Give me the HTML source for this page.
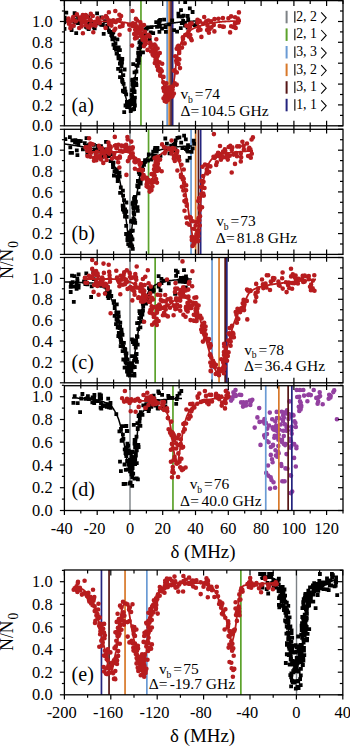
<!DOCTYPE html>
<html><head><meta charset="utf-8"><style>
html,body{margin:0;padding:0;background:#fff;}
svg{display:block;}
text{font-family:"Liberation Serif",serif;fill:#000;}
</style></head><body>
<svg width="350" height="747" viewBox="0 0 350 747">
<rect width="350" height="747" fill="#fff"/>
<defs><clipPath id="ca"><rect x="64.4" y="0.6" width="278.6" height="125.2"/></clipPath><clipPath id="cb"><rect x="64.4" y="129.3" width="278.6" height="125.1"/></clipPath><clipPath id="cc"><rect x="64.4" y="257.5" width="278.6" height="125.30000000000001"/></clipPath><clipPath id="cd"><rect x="64.4" y="385.7" width="278.6" height="124.80000000000001"/></clipPath><clipPath id="ce"><rect x="64.4" y="570.0" width="278.4" height="124.79999999999995"/></clipPath></defs>
<g clip-path="url(#cd)"><path d="M244 402.2a2.3 2.3 0 1 0 4.6 0a2.3 2.3 0 1 0 -4.6 0M241.1 402.3a2.3 2.3 0 1 0 4.6 0a2.3 2.3 0 1 0 -4.6 0M224.3 390.9a2.3 2.3 0 1 0 4.6 0a2.3 2.3 0 1 0 -4.6 0M230.1 398.8a2.3 2.3 0 1 0 4.6 0a2.3 2.3 0 1 0 -4.6 0M248.7 401.6a2.3 2.3 0 1 0 4.6 0a2.3 2.3 0 1 0 -4.6 0M243.7 405.4a2.3 2.3 0 1 0 4.6 0a2.3 2.3 0 1 0 -4.6 0M250 399.7a2.3 2.3 0 1 0 4.6 0a2.3 2.3 0 1 0 -4.6 0M238.8 402.4a2.3 2.3 0 1 0 4.6 0a2.3 2.3 0 1 0 -4.6 0M232.8 394.5a2.3 2.3 0 1 0 4.6 0a2.3 2.3 0 1 0 -4.6 0M252.4 427.6a2.3 2.3 0 1 0 4.6 0a2.3 2.3 0 1 0 -4.6 0M231.6 395.7a2.3 2.3 0 1 0 4.6 0a2.3 2.3 0 1 0 -4.6 0M225.6 396.5a2.3 2.3 0 1 0 4.6 0a2.3 2.3 0 1 0 -4.6 0M237.3 394.8a2.3 2.3 0 1 0 4.6 0a2.3 2.3 0 1 0 -4.6 0M240.7 406.6a2.3 2.3 0 1 0 4.6 0a2.3 2.3 0 1 0 -4.6 0M231.7 394.4a2.3 2.3 0 1 0 4.6 0a2.3 2.3 0 1 0 -4.6 0M258.2 444.9a2.3 2.3 0 1 0 4.6 0a2.3 2.3 0 1 0 -4.6 0M231.1 392.4a2.3 2.3 0 1 0 4.6 0a2.3 2.3 0 1 0 -4.6 0M228.6 397.5a2.3 2.3 0 1 0 4.6 0a2.3 2.3 0 1 0 -4.6 0M248 404.9a2.3 2.3 0 1 0 4.6 0a2.3 2.3 0 1 0 -4.6 0M228.8 400.6a2.3 2.3 0 1 0 4.6 0a2.3 2.3 0 1 0 -4.6 0M233.5 396a2.3 2.3 0 1 0 4.6 0a2.3 2.3 0 1 0 -4.6 0M238.9 395a2.3 2.3 0 1 0 4.6 0a2.3 2.3 0 1 0 -4.6 0M233.2 390a2.3 2.3 0 1 0 4.6 0a2.3 2.3 0 1 0 -4.6 0M247.6 400.6a2.3 2.3 0 1 0 4.6 0a2.3 2.3 0 1 0 -4.6 0M308.5 395.1a2.3 2.3 0 1 0 4.6 0a2.3 2.3 0 1 0 -4.6 0M317.4 392.2a2.3 2.3 0 1 0 4.6 0a2.3 2.3 0 1 0 -4.6 0M328.1 397.4a2.3 2.3 0 1 0 4.6 0a2.3 2.3 0 1 0 -4.6 0M298.3 409.5a2.3 2.3 0 1 0 4.6 0a2.3 2.3 0 1 0 -4.6 0M331.9 390.4a2.3 2.3 0 1 0 4.6 0a2.3 2.3 0 1 0 -4.6 0M297.7 401.4a2.3 2.3 0 1 0 4.6 0a2.3 2.3 0 1 0 -4.6 0M315.9 401.4a2.3 2.3 0 1 0 4.6 0a2.3 2.3 0 1 0 -4.6 0M305.1 401.2a2.3 2.3 0 1 0 4.6 0a2.3 2.3 0 1 0 -4.6 0M297.3 409.4a2.3 2.3 0 1 0 4.6 0a2.3 2.3 0 1 0 -4.6 0M315.3 403.8a2.3 2.3 0 1 0 4.6 0a2.3 2.3 0 1 0 -4.6 0M307 394.5a2.3 2.3 0 1 0 4.6 0a2.3 2.3 0 1 0 -4.6 0M298.4 402.7a2.3 2.3 0 1 0 4.6 0a2.3 2.3 0 1 0 -4.6 0M331 392a2.3 2.3 0 1 0 4.6 0a2.3 2.3 0 1 0 -4.6 0M306 394.9a2.3 2.3 0 1 0 4.6 0a2.3 2.3 0 1 0 -4.6 0M334.6 419.3a2.3 2.3 0 1 0 4.6 0a2.3 2.3 0 1 0 -4.6 0M320.4 404.3a2.3 2.3 0 1 0 4.6 0a2.3 2.3 0 1 0 -4.6 0M311.4 390a2.3 2.3 0 1 0 4.6 0a2.3 2.3 0 1 0 -4.6 0M298.9 407a2.3 2.3 0 1 0 4.6 0a2.3 2.3 0 1 0 -4.6 0M331 392.1a2.3 2.3 0 1 0 4.6 0a2.3 2.3 0 1 0 -4.6 0M301 390a2.3 2.3 0 1 0 4.6 0a2.3 2.3 0 1 0 -4.6 0M328.4 396a2.3 2.3 0 1 0 4.6 0a2.3 2.3 0 1 0 -4.6 0M317.8 396a2.3 2.3 0 1 0 4.6 0a2.3 2.3 0 1 0 -4.6 0M314.8 398.3a2.3 2.3 0 1 0 4.6 0a2.3 2.3 0 1 0 -4.6 0M299 405.7a2.3 2.3 0 1 0 4.6 0a2.3 2.3 0 1 0 -4.6 0M314 397.9a2.3 2.3 0 1 0 4.6 0a2.3 2.3 0 1 0 -4.6 0M296.5 406.8a2.3 2.3 0 1 0 4.6 0a2.3 2.3 0 1 0 -4.6 0M326.9 394.8a2.3 2.3 0 1 0 4.6 0a2.3 2.3 0 1 0 -4.6 0M326.4 398.7a2.3 2.3 0 1 0 4.6 0a2.3 2.3 0 1 0 -4.6 0M301.8 395.6a2.3 2.3 0 1 0 4.6 0a2.3 2.3 0 1 0 -4.6 0M316.6 397.1a2.3 2.3 0 1 0 4.6 0a2.3 2.3 0 1 0 -4.6 0M289 430.5a2.3 2.3 0 1 0 4.6 0a2.3 2.3 0 1 0 -4.6 0M265 441.2a2.3 2.3 0 1 0 4.6 0a2.3 2.3 0 1 0 -4.6 0M260.9 421.6a2.3 2.3 0 1 0 4.6 0a2.3 2.3 0 1 0 -4.6 0M256.9 408.1a2.3 2.3 0 1 0 4.6 0a2.3 2.3 0 1 0 -4.6 0M264.1 434.2a2.3 2.3 0 1 0 4.6 0a2.3 2.3 0 1 0 -4.6 0M294.4 390a2.3 2.3 0 1 0 4.6 0a2.3 2.3 0 1 0 -4.6 0M292.2 421.4a2.3 2.3 0 1 0 4.6 0a2.3 2.3 0 1 0 -4.6 0M288.7 441.3a2.3 2.3 0 1 0 4.6 0a2.3 2.3 0 1 0 -4.6 0M272.4 435.8a2.3 2.3 0 1 0 4.6 0a2.3 2.3 0 1 0 -4.6 0M275.9 452.1a2.3 2.3 0 1 0 4.6 0a2.3 2.3 0 1 0 -4.6 0M279.7 442.1a2.3 2.3 0 1 0 4.6 0a2.3 2.3 0 1 0 -4.6 0M289.4 426.7a2.3 2.3 0 1 0 4.6 0a2.3 2.3 0 1 0 -4.6 0M255.1 417.4a2.3 2.3 0 1 0 4.6 0a2.3 2.3 0 1 0 -4.6 0M262.7 437.4a2.3 2.3 0 1 0 4.6 0a2.3 2.3 0 1 0 -4.6 0M279.7 439.9a2.3 2.3 0 1 0 4.6 0a2.3 2.3 0 1 0 -4.6 0M261.9 435.4a2.3 2.3 0 1 0 4.6 0a2.3 2.3 0 1 0 -4.6 0M294.9 397a2.3 2.3 0 1 0 4.6 0a2.3 2.3 0 1 0 -4.6 0M257.2 421.9a2.3 2.3 0 1 0 4.6 0a2.3 2.3 0 1 0 -4.6 0M296.9 396.9a2.3 2.3 0 1 0 4.6 0a2.3 2.3 0 1 0 -4.6 0M265 428.6a2.3 2.3 0 1 0 4.6 0a2.3 2.3 0 1 0 -4.6 0M263.5 422.9a2.3 2.3 0 1 0 4.6 0a2.3 2.3 0 1 0 -4.6 0M273.2 450.2a2.3 2.3 0 1 0 4.6 0a2.3 2.3 0 1 0 -4.6 0M282.8 445.1a2.3 2.3 0 1 0 4.6 0a2.3 2.3 0 1 0 -4.6 0M297 410.9a2.3 2.3 0 1 0 4.6 0a2.3 2.3 0 1 0 -4.6 0M275.3 453.9a2.3 2.3 0 1 0 4.6 0a2.3 2.3 0 1 0 -4.6 0M293.5 427a2.3 2.3 0 1 0 4.6 0a2.3 2.3 0 1 0 -4.6 0M293.1 422.9a2.3 2.3 0 1 0 4.6 0a2.3 2.3 0 1 0 -4.6 0M297.6 390a2.3 2.3 0 1 0 4.6 0a2.3 2.3 0 1 0 -4.6 0M270.4 428.2a2.3 2.3 0 1 0 4.6 0a2.3 2.3 0 1 0 -4.6 0M276.1 439.8a2.3 2.3 0 1 0 4.6 0a2.3 2.3 0 1 0 -4.6 0M281.5 436.1a2.3 2.3 0 1 0 4.6 0a2.3 2.3 0 1 0 -4.6 0M285.1 468.7a2.3 2.3 0 1 0 4.6 0a2.3 2.3 0 1 0 -4.6 0M269.7 459.3a2.3 2.3 0 1 0 4.6 0a2.3 2.3 0 1 0 -4.6 0M265.7 465.5a2.3 2.3 0 1 0 4.6 0a2.3 2.3 0 1 0 -4.6 0M293.5 466.5a2.3 2.3 0 1 0 4.6 0a2.3 2.3 0 1 0 -4.6 0M289.9 491.6a2.3 2.3 0 1 0 4.6 0a2.3 2.3 0 1 0 -4.6 0M268.4 477.4a2.3 2.3 0 1 0 4.6 0a2.3 2.3 0 1 0 -4.6 0M289 446.1a2.3 2.3 0 1 0 4.6 0a2.3 2.3 0 1 0 -4.6 0M288.7 475.8a2.3 2.3 0 1 0 4.6 0a2.3 2.3 0 1 0 -4.6 0M268.5 454.9a2.3 2.3 0 1 0 4.6 0a2.3 2.3 0 1 0 -4.6 0M288.4 493.1a2.3 2.3 0 1 0 4.6 0a2.3 2.3 0 1 0 -4.6 0M274.9 456.8a2.3 2.3 0 1 0 4.6 0a2.3 2.3 0 1 0 -4.6 0M273.4 430.3a2.3 2.3 0 1 0 4.6 0a2.3 2.3 0 1 0 -4.6 0M267.8 488.6a2.3 2.3 0 1 0 4.6 0a2.3 2.3 0 1 0 -4.6 0M281.6 443.9a2.3 2.3 0 1 0 4.6 0a2.3 2.3 0 1 0 -4.6 0M282.3 481.3a2.3 2.3 0 1 0 4.6 0a2.3 2.3 0 1 0 -4.6 0M279.1 466a2.3 2.3 0 1 0 4.6 0a2.3 2.3 0 1 0 -4.6 0M265.9 475.6a2.3 2.3 0 1 0 4.6 0a2.3 2.3 0 1 0 -4.6 0M288.2 475.2a2.3 2.3 0 1 0 4.6 0a2.3 2.3 0 1 0 -4.6 0M272.8 487.7a2.3 2.3 0 1 0 4.6 0a2.3 2.3 0 1 0 -4.6 0M271.2 482.2a2.3 2.3 0 1 0 4.6 0a2.3 2.3 0 1 0 -4.6 0M283.2 468.4a2.3 2.3 0 1 0 4.6 0a2.3 2.3 0 1 0 -4.6 0M268.6 447a2.3 2.3 0 1 0 4.6 0a2.3 2.3 0 1 0 -4.6 0M291.8 457.9a2.3 2.3 0 1 0 4.6 0a2.3 2.3 0 1 0 -4.6 0M283.4 444a2.3 2.3 0 1 0 4.6 0a2.3 2.3 0 1 0 -4.6 0M288 447.6a2.3 2.3 0 1 0 4.6 0a2.3 2.3 0 1 0 -4.6 0M273.6 455.6a2.3 2.3 0 1 0 4.6 0a2.3 2.3 0 1 0 -4.6 0M276.4 453.2a2.3 2.3 0 1 0 4.6 0a2.3 2.3 0 1 0 -4.6 0M270.7 444.7a2.3 2.3 0 1 0 4.6 0a2.3 2.3 0 1 0 -4.6 0M270.7 445.6a2.3 2.3 0 1 0 4.6 0a2.3 2.3 0 1 0 -4.6 0M276 446a2.3 2.3 0 1 0 4.6 0a2.3 2.3 0 1 0 -4.6 0M287.9 438.9a2.3 2.3 0 1 0 4.6 0a2.3 2.3 0 1 0 -4.6 0M278.8 464a2.3 2.3 0 1 0 4.6 0a2.3 2.3 0 1 0 -4.6 0M289.4 433.7a2.3 2.3 0 1 0 4.6 0a2.3 2.3 0 1 0 -4.6 0M266.3 442.2a2.3 2.3 0 1 0 4.6 0a2.3 2.3 0 1 0 -4.6 0M272 437.8a2.3 2.3 0 1 0 4.6 0a2.3 2.3 0 1 0 -4.6 0M263.9 472.9a2.3 2.3 0 1 0 4.6 0a2.3 2.3 0 1 0 -4.6 0M291.9 444.1a2.3 2.3 0 1 0 4.6 0a2.3 2.3 0 1 0 -4.6 0M264.7 434.1a2.3 2.3 0 1 0 4.6 0a2.3 2.3 0 1 0 -4.6 0M280 481.3a2.3 2.3 0 1 0 4.6 0a2.3 2.3 0 1 0 -4.6 0M284.2 454.1a2.3 2.3 0 1 0 4.6 0a2.3 2.3 0 1 0 -4.6 0M269.2 480.1a2.3 2.3 0 1 0 4.6 0a2.3 2.3 0 1 0 -4.6 0M294.1 446.6a2.3 2.3 0 1 0 4.6 0a2.3 2.3 0 1 0 -4.6 0M294.1 448.2a2.3 2.3 0 1 0 4.6 0a2.3 2.3 0 1 0 -4.6 0M270.3 462.3a2.3 2.3 0 1 0 4.6 0a2.3 2.3 0 1 0 -4.6 0M283.3 413.5a2.3 2.3 0 1 0 4.6 0a2.3 2.3 0 1 0 -4.6 0M281.1 412.4a2.3 2.3 0 1 0 4.6 0a2.3 2.3 0 1 0 -4.6 0M276 437.7a2.3 2.3 0 1 0 4.6 0a2.3 2.3 0 1 0 -4.6 0M280.4 419.6a2.3 2.3 0 1 0 4.6 0a2.3 2.3 0 1 0 -4.6 0M273.9 425.5a2.3 2.3 0 1 0 4.6 0a2.3 2.3 0 1 0 -4.6 0M275.5 431a2.3 2.3 0 1 0 4.6 0a2.3 2.3 0 1 0 -4.6 0M271.7 429.7a2.3 2.3 0 1 0 4.6 0a2.3 2.3 0 1 0 -4.6 0M279.5 411.7a2.3 2.3 0 1 0 4.6 0a2.3 2.3 0 1 0 -4.6 0M274.8 428.6a2.3 2.3 0 1 0 4.6 0a2.3 2.3 0 1 0 -4.6 0M284.3 427.6a2.3 2.3 0 1 0 4.6 0a2.3 2.3 0 1 0 -4.6 0M282.7 424.4a2.3 2.3 0 1 0 4.6 0a2.3 2.3 0 1 0 -4.6 0M272 429.1a2.3 2.3 0 1 0 4.6 0a2.3 2.3 0 1 0 -4.6 0M290.5 414.9a2.3 2.3 0 1 0 4.6 0a2.3 2.3 0 1 0 -4.6 0M269.9 419.3a2.3 2.3 0 1 0 4.6 0a2.3 2.3 0 1 0 -4.6 0M280.8 415.3a2.3 2.3 0 1 0 4.6 0a2.3 2.3 0 1 0 -4.6 0M285.2 426.8a2.3 2.3 0 1 0 4.6 0a2.3 2.3 0 1 0 -4.6 0M286.6 414.1a2.3 2.3 0 1 0 4.6 0a2.3 2.3 0 1 0 -4.6 0M262.3 423.5a2.3 2.3 0 1 0 4.6 0a2.3 2.3 0 1 0 -4.6 0M284.7 410.2a2.3 2.3 0 1 0 4.6 0a2.3 2.3 0 1 0 -4.6 0M286.2 418.9a2.3 2.3 0 1 0 4.6 0a2.3 2.3 0 1 0 -4.6 0M287.7 416.7a2.3 2.3 0 1 0 4.6 0a2.3 2.3 0 1 0 -4.6 0M262.2 419a2.3 2.3 0 1 0 4.6 0a2.3 2.3 0 1 0 -4.6 0M273 421.2a2.3 2.3 0 1 0 4.6 0a2.3 2.3 0 1 0 -4.6 0M277 418.3a2.3 2.3 0 1 0 4.6 0a2.3 2.3 0 1 0 -4.6 0M274.6 418a2.3 2.3 0 1 0 4.6 0a2.3 2.3 0 1 0 -4.6 0M287.1 401.4a2.3 2.3 0 1 0 4.6 0a2.3 2.3 0 1 0 -4.6 0M273 429.9a2.3 2.3 0 1 0 4.6 0a2.3 2.3 0 1 0 -4.6 0M286.3 414.4a2.3 2.3 0 1 0 4.6 0a2.3 2.3 0 1 0 -4.6 0M281.6 417.8a2.3 2.3 0 1 0 4.6 0a2.3 2.3 0 1 0 -4.6 0M267.5 412.6a2.3 2.3 0 1 0 4.6 0a2.3 2.3 0 1 0 -4.6 0M270.8 429a2.3 2.3 0 1 0 4.6 0a2.3 2.3 0 1 0 -4.6 0M274.4 411.9a2.3 2.3 0 1 0 4.6 0a2.3 2.3 0 1 0 -4.6 0M278.4 424.5a2.3 2.3 0 1 0 4.6 0a2.3 2.3 0 1 0 -4.6 0M284.6 430.6a2.3 2.3 0 1 0 4.6 0a2.3 2.3 0 1 0 -4.6 0M276.4 434.8a2.3 2.3 0 1 0 4.6 0a2.3 2.3 0 1 0 -4.6 0M284.1 430.7a2.3 2.3 0 1 0 4.6 0a2.3 2.3 0 1 0 -4.6 0M266.7 425.6a2.3 2.3 0 1 0 4.6 0a2.3 2.3 0 1 0 -4.6 0M275.3 431.6a2.3 2.3 0 1 0 4.6 0a2.3 2.3 0 1 0 -4.6 0M280.9 430.7a2.3 2.3 0 1 0 4.6 0a2.3 2.3 0 1 0 -4.6 0M275.2 427.6a2.3 2.3 0 1 0 4.6 0a2.3 2.3 0 1 0 -4.6 0M270.6 427.2a2.3 2.3 0 1 0 4.6 0a2.3 2.3 0 1 0 -4.6 0M280.7 420.7a2.3 2.3 0 1 0 4.6 0a2.3 2.3 0 1 0 -4.6 0M291.2 415.4a2.3 2.3 0 1 0 4.6 0a2.3 2.3 0 1 0 -4.6 0M277 429.8a2.3 2.3 0 1 0 4.6 0a2.3 2.3 0 1 0 -4.6 0" fill="#9340a0"/></g>
<rect x="140.1" y="0.6" width="1.7" height="125.2" fill="#5ca22c"/>
<rect x="166.3" y="0.6" width="1.7" height="125.2" fill="#6a9bd4"/>
<rect x="168.3" y="0.6" width="1.7" height="125.2" fill="#d8782a"/>
<rect x="170.2" y="0.6" width="1.7" height="125.2" fill="#561616"/>
<rect x="171.8" y="0.6" width="1.7" height="125.2" fill="#24247e"/>
<rect x="147.7" y="129.3" width="1.7" height="125.1" fill="#5ca22c"/>
<rect x="190.2" y="129.3" width="1.7" height="125.1" fill="#6a9bd4"/>
<rect x="194.8" y="129.3" width="1.7" height="125.1" fill="#d8782a"/>
<rect x="197.6" y="129.3" width="1.7" height="125.1" fill="#561616"/>
<rect x="199.8" y="129.3" width="1.7" height="125.1" fill="#24247e"/>
<rect x="154.3" y="257.5" width="1.7" height="125.3" fill="#5ca22c"/>
<rect x="211.2" y="257.5" width="1.7" height="125.3" fill="#6a9bd4"/>
<rect x="218.2" y="257.5" width="1.7" height="125.3" fill="#d8782a"/>
<rect x="224.3" y="257.5" width="1.7" height="125.3" fill="#561616"/>
<rect x="226" y="257.5" width="1.7" height="125.3" fill="#24247e"/>
<rect x="172.1" y="385.7" width="1.7" height="124.8" fill="#5ca22c"/>
<rect x="264.9" y="385.7" width="1.7" height="124.8" fill="#6a9bd4"/>
<rect x="278" y="385.7" width="1.7" height="124.8" fill="#d8782a"/>
<rect x="287.3" y="385.7" width="1.7" height="124.8" fill="#561616"/>
<rect x="291" y="385.7" width="1.7" height="124.8" fill="#24247e"/>
<rect x="100.6" y="570" width="1.7" height="124.8" fill="#24247e"/>
<rect x="108.2" y="570" width="1.7" height="124.8" fill="#561616"/>
<rect x="124.2" y="570" width="1.7" height="124.8" fill="#d8782a"/>
<rect x="146" y="570" width="1.7" height="124.8" fill="#6a9bd4"/>
<rect x="240" y="570" width="1.7" height="124.8" fill="#5ca22c"/>
<rect x="295.8" y="570" width="1.4" height="124.8" fill="#7d8286"/>
<g clip-path="url(#ca)"><rect x="129.3" y="0.6" width="1.4" height="125.2" fill="#7d8286"/>
<path d="M92.8 26.5h3.8v3.8h-3.8zM105.3 23.7h3.8v3.8h-3.8zM99.5 22.9h3.8v3.8h-3.8zM73 19.9h3.8v3.8h-3.8zM76.8 20.8h3.8v3.8h-3.8zM103.1 19.3h3.8v3.8h-3.8zM62.3 20.5h3.8v3.8h-3.8zM101.8 32h3.8v3.8h-3.8zM99.4 15.4h3.8v3.8h-3.8zM85.3 25.6h3.8v3.8h-3.8zM76.1 21.1h3.8v3.8h-3.8zM76.2 16.9h3.8v3.8h-3.8zM74.3 31.3h3.8v3.8h-3.8zM84.1 25h3.8v3.8h-3.8zM86.6 14.8h3.8v3.8h-3.8zM88.1 21.6h3.8v3.8h-3.8zM110.5 37.4h3.8v3.8h-3.8zM101 22.8h3.8v3.8h-3.8zM92.1 25.4h3.8v3.8h-3.8zM109.4 33.3h3.8v3.8h-3.8zM72.7 11.2h3.8v3.8h-3.8zM69.7 28.1h3.8v3.8h-3.8zM92.2 21h3.8v3.8h-3.8zM64.4 10.8h3.8v3.8h-3.8zM64.3 17.6h3.8v3.8h-3.8zM86.7 21.7h3.8v3.8h-3.8zM84.4 14.3h3.8v3.8h-3.8zM105.5 24.8h3.8v3.8h-3.8zM93.1 20.6h3.8v3.8h-3.8zM86.9 26h3.8v3.8h-3.8zM86.7 27.3h3.8v3.8h-3.8zM74.4 13.1h3.8v3.8h-3.8zM62.8 15.7h3.8v3.8h-3.8zM71.6 23.8h3.8v3.8h-3.8zM95.2 11.4h3.8v3.8h-3.8zM72.1 17.7h3.8v3.8h-3.8zM80 20.1h3.8v3.8h-3.8zM62.6 27h3.8v3.8h-3.8zM117.9 56.8h3.8v3.8h-3.8zM110.5 35.9h3.8v3.8h-3.8zM119.6 58h3.8v3.8h-3.8zM141.4 34.6h3.8v3.8h-3.8zM138.5 50.9h3.8v3.8h-3.8zM112.7 46.1h3.8v3.8h-3.8zM131.8 88.4h3.8v3.8h-3.8zM125.3 102.5h3.8v3.8h-3.8zM132.6 89.5h3.8v3.8h-3.8zM130.3 78.3h3.8v3.8h-3.8zM120.4 78h3.8v3.8h-3.8zM143.5 33.8h3.8v3.8h-3.8zM123.6 103.6h3.8v3.8h-3.8zM134.5 83.3h3.8v3.8h-3.8zM134.2 81.4h3.8v3.8h-3.8zM116.6 56.4h3.8v3.8h-3.8zM112.6 36.7h3.8v3.8h-3.8zM124.3 92.4h3.8v3.8h-3.8zM131.3 62.3h3.8v3.8h-3.8zM137.8 51.7h3.8v3.8h-3.8zM134.5 69.6h3.8v3.8h-3.8zM114.7 46.8h3.8v3.8h-3.8zM138.5 39.2h3.8v3.8h-3.8zM136.6 55h3.8v3.8h-3.8zM138.9 44.1h3.8v3.8h-3.8zM131.1 101.8h3.8v3.8h-3.8zM141 36.3h3.8v3.8h-3.8zM110.1 34.1h3.8v3.8h-3.8zM111.4 30.1h3.8v3.8h-3.8zM107 28.4h3.8v3.8h-3.8zM118.7 69.3h3.8v3.8h-3.8zM116.2 66.9h3.8v3.8h-3.8zM120.1 57.5h3.8v3.8h-3.8zM131.8 96.5h3.8v3.8h-3.8zM111.1 30.6h3.8v3.8h-3.8zM131.7 89.5h3.8v3.8h-3.8zM116.9 53.9h3.8v3.8h-3.8zM133.4 77h3.8v3.8h-3.8zM107.6 30.3h3.8v3.8h-3.8zM120.4 79.3h3.8v3.8h-3.8zM141.8 33.7h3.8v3.8h-3.8zM132.1 97.5h3.8v3.8h-3.8zM138.2 52.6h3.8v3.8h-3.8zM132.3 81h3.8v3.8h-3.8zM130.1 88.3h3.8v3.8h-3.8zM116.5 54.5h3.8v3.8h-3.8zM133 95.8h3.8v3.8h-3.8zM110.4 34.7h3.8v3.8h-3.8zM137.1 58.2h3.8v3.8h-3.8zM142.8 29.5h3.8v3.8h-3.8zM136.6 46.7h3.8v3.8h-3.8zM110.3 33.4h3.8v3.8h-3.8zM122.9 86.6h3.8v3.8h-3.8zM120.2 78.5h3.8v3.8h-3.8zM114.1 47.6h3.8v3.8h-3.8zM131.1 83.7h3.8v3.8h-3.8zM137.1 56.8h3.8v3.8h-3.8zM118.1 75.3h3.8v3.8h-3.8zM138.3 45.1h3.8v3.8h-3.8zM135.4 58.3h3.8v3.8h-3.8zM116.8 45.4h3.8v3.8h-3.8zM134.6 63.4h3.8v3.8h-3.8zM140.3 43h3.8v3.8h-3.8zM120.4 57h3.8v3.8h-3.8zM129.7 92.8h3.8v3.8h-3.8zM130.8 82h3.8v3.8h-3.8zM131.4 87.6h3.8v3.8h-3.8zM113.6 41.4h3.8v3.8h-3.8zM130.8 77.7h3.8v3.8h-3.8zM132.4 83.4h3.8v3.8h-3.8zM141.1 50.4h3.8v3.8h-3.8zM136.6 53.4h3.8v3.8h-3.8zM120.8 80.3h3.8v3.8h-3.8zM132.6 70.5h3.8v3.8h-3.8zM139.4 42.4h3.8v3.8h-3.8zM137.5 40.7h3.8v3.8h-3.8zM114.7 51.7h3.8v3.8h-3.8zM110.7 30.1h3.8v3.8h-3.8zM130.6 82.3h3.8v3.8h-3.8zM120.1 60.7h3.8v3.8h-3.8zM132.7 90.1h3.8v3.8h-3.8zM142.6 31.1h3.8v3.8h-3.8zM123.5 89.7h3.8v3.8h-3.8zM122.7 67.6h3.8v3.8h-3.8zM125.2 105.1h3.8v3.8h-3.8zM131.4 80.8h3.8v3.8h-3.8zM111.5 42.8h3.8v3.8h-3.8zM122.7 90.3h3.8v3.8h-3.8zM118 48.2h3.8v3.8h-3.8zM134.2 77h3.8v3.8h-3.8zM136.2 50.9h3.8v3.8h-3.8zM121 88.7h3.8v3.8h-3.8zM121.4 89.4h3.8v3.8h-3.8zM130 97.8h3.8v3.8h-3.8zM118 61.6h3.8v3.8h-3.8zM119.6 64.1h3.8v3.8h-3.8zM121.7 81.9h3.8v3.8h-3.8zM125 100h3.8v3.8h-3.8zM112.6 36.2h3.8v3.8h-3.8zM135.7 63.9h3.8v3.8h-3.8zM130.2 94.6h3.8v3.8h-3.8zM121.4 73.2h3.8v3.8h-3.8zM115.5 37.5h3.8v3.8h-3.8zM136.8 61h3.8v3.8h-3.8zM115.5 45.9h3.8v3.8h-3.8zM131.2 107.5h3.8v3.8h-3.8zM132.2 107.1h3.8v3.8h-3.8zM133 103.6h3.8v3.8h-3.8zM128.8 109.2h3.8v3.8h-3.8zM129.4 107.9h3.8v3.8h-3.8zM129.6 102.5h3.8v3.8h-3.8zM128.4 99.1h3.8v3.8h-3.8zM132.6 99.8h3.8v3.8h-3.8zM128.8 100.5h3.8v3.8h-3.8zM125.8 102.1h3.8v3.8h-3.8zM127.7 103.9h3.8v3.8h-3.8zM122.3 110.2h3.8v3.8h-3.8zM157.7 19.2h3.8v3.8h-3.8zM190.7 10.1h3.8v3.8h-3.8zM178.9 26.3h3.8v3.8h-3.8zM188 22.4h3.8v3.8h-3.8zM163.6 25.1h3.8v3.8h-3.8zM143.3 27.4h3.8v3.8h-3.8zM185.7 25.8h3.8v3.8h-3.8zM157.1 22h3.8v3.8h-3.8zM151.3 31.2h3.8v3.8h-3.8zM185.8 14.1h3.8v3.8h-3.8zM179.1 8.3h3.8v3.8h-3.8zM155.1 25h3.8v3.8h-3.8zM157.3 19h3.8v3.8h-3.8zM192.8 23.2h3.8v3.8h-3.8zM157.2 24.8h3.8v3.8h-3.8zM180.4 14.5h3.8v3.8h-3.8zM149.7 25.2h3.8v3.8h-3.8zM186.3 17.4h3.8v3.8h-3.8zM148.8 30.5h3.8v3.8h-3.8zM170.3 18.5h3.8v3.8h-3.8zM146.1 25.4h3.8v3.8h-3.8zM172.2 28.2h3.8v3.8h-3.8zM187.9 6.4h3.8v3.8h-3.8zM147.8 37.7h3.8v3.8h-3.8zM158 23.6h3.8v3.8h-3.8zM183.1 21h3.8v3.8h-3.8zM175.2 29.7h3.8v3.8h-3.8zM160.1 26.6h3.8v3.8h-3.8zM176.6 14.5h3.8v3.8h-3.8zM167.3 22.4h3.8v3.8h-3.8zM189.6 22.1h3.8v3.8h-3.8zM158.3 18h3.8v3.8h-3.8zM183.3 0.1h3.8v3.8h-3.8zM176.5 11.7h3.8v3.8h-3.8zM183.1 23.8h3.8v3.8h-3.8zM162.2 17.7h3.8v3.8h-3.8zM181.2 19h3.8v3.8h-3.8zM179.9 21.3h3.8v3.8h-3.8zM164 29.9h3.8v3.8h-3.8zM144.8 26.6h3.8v3.8h-3.8zM194.8 22.1h3.8v3.8h-3.8zM180.1 14.6h3.8v3.8h-3.8zM154.3 20.2h3.8v3.8h-3.8zM181.7 13.7h3.8v3.8h-3.8zM157.5 29.9h3.8v3.8h-3.8z" fill="#000"/>
<path d="M64.4 22 L64.9 22 L65.4 22 L65.9 22 L66.4 22 L66.9 22 L67.4 22 L67.9 22 L68.4 22 L68.9 22 L69.4 22 L69.9 22.1 L70.4 22.1 L70.9 22.1 L71.4 22.1 L71.9 22.1 L72.4 22.1 L72.9 22.1 L73.4 22.1 L73.9 22.2 L74.4 22.2 L74.9 22.2 L75.4 22.2 L75.9 22.2 L76.4 22.2 L76.9 22.3 L77.4 22.3 L77.9 22.3 L78.4 22.3 L78.9 22.3 L79.4 22.4 L79.9 22.4 L80.4 22.4 L80.9 22.4 L81.4 22.5 L81.9 22.5 L82.4 22.5 L82.9 22.5 L83.4 22.6 L83.9 22.6 L84.4 22.6 L84.9 22.7 L85.4 22.7 L85.9 22.7 L86.4 22.8 L86.9 22.8 L87.4 22.8 L87.9 22.9 L88.4 22.9 L88.9 22.9 L89.4 23 L89.9 23 L90.4 23 L90.9 23.1 L91.4 23.1 L91.9 23.2 L92.4 23.3 L92.9 23.3 L93.4 23.4 L93.9 23.5 L94.4 23.6 L94.9 23.7 L95.4 23.8 L95.9 23.9 L96.4 24 L96.9 24.2 L97.4 24.3 L97.9 24.4 L98.4 24.5 L98.9 24.7 L99.4 24.8 L99.9 25 L100.4 25.1 L100.9 25.3 L101.4 25.5 L101.9 25.7 L102.4 25.9 L102.9 26.1 L103.4 26.3 L103.9 26.6 L104.4 26.9 L104.9 27.2 L105.4 27.5 L105.9 27.8 L106.4 28.2 L106.9 28.6 L107.4 29.1 L107.9 29.7 L108.4 30.4 L108.9 31.2 L109.4 32 L109.9 32.8 L110.4 33.7 L110.9 34.5 L111.4 35.4 L111.9 36.3 L112.4 37.3 L112.9 38.3 L113.4 39.3 L113.9 40.4 L114.4 41.6 L114.9 42.8 L115.4 44 L115.9 45.4 L116.4 46.8 L116.9 48.4 L117.4 50.2 L117.9 52.1 L118.4 54.3 L118.9 56.7 L119.4 59.2 L119.9 61.9 L120.4 64.6 L120.9 67.4 L121.4 70.5 L121.9 74 L122.4 77.7 L122.9 81.4 L123.4 84.9 L123.9 88 L124.4 90.7 L124.9 93.2 L125.4 95.5 L125.9 97.7 L126.4 99.7 L126.9 101.6 L127.4 103.5 L127.9 105.6 L128.4 107.4 L128.9 108.6 L129.4 109 L129.9 108.2 L130.4 106.4 L130.9 104.1 L131.4 101.5 L131.9 98.1 L132.4 93.6 L132.9 90 L133.4 86.8 L133.9 83.8 L134.4 81 L134.9 78.2 L135.4 75.5 L135.9 72.9 L136.4 70.3 L136.9 67.8 L137.4 65.4 L137.9 62.9 L138.4 60.4 L138.9 57.8 L139.4 55 L139.9 52.1 L140.4 49.1 L140.9 46.1 L141.4 43.4 L141.9 40.9 L142.4 38.8 L142.9 37.1 L143.4 35.8 L143.9 34.6 L144.4 33.6 L144.9 32.6 L145.4 31.8 L145.9 31.1 L146.4 30.5 L146.9 29.9 L147.4 29.3 L147.9 28.8 L148.4 28.3 L148.9 28 L149.4 27.6 L149.9 27.4 L150.4 27.2 L150.9 27 L151.4 26.9 L151.9 26.7 L152.4 26.5 L152.9 26.4 L153.4 26.3 L153.9 26.2 L154.4 26 L154.9 25.9 L155.4 25.8 L155.9 25.7 L156.4 25.6 L156.9 25.5 L157.4 25.5 L157.9 25.4 L158.4 25.3 L158.9 25.2 L159.4 25.1 L159.9 25 L160.4 24.9 L160.9 24.8 L161.4 24.8 L161.9 24.7 L162.4 24.6 L162.9 24.5 L163.4 24.4 L163.9 24.4 L164.4 24.3 L164.9 24.2 L165.4 24.1 L165.9 24.1 L166.4 24 L166.9 23.9 L167.4 23.9 L167.9 23.8 L168.4 23.7 L168.9 23.7 L169.4 23.6 L169.9 23.5 L170.4 23.4 L170.9 23.4 L171.4 23.3 L171.9 23.2 L172.4 23.1 L172.9 23.1 L173.4 23 L173.9 22.9 L174.4 22.8 L174.9 22.8 L175.4 22.7 L175.9 22.6 L176.4 22.5 L176.9 22.5 L177.4 22.4 L177.9 22.3 L178.4 22.3 L178.9 22.2 L179.4 22.2 L179.9 22.1 L180.4 22.1 L180.9 22 L181.4 22 L181.9 21.9 L182.4 21.9 L182.9 21.8 L183.4 21.8 L183.9 21.8 L184.4 21.7 L184.9 21.7 L185.4 21.6 L185.9 21.6 L186.4 21.6 L186.9 21.5 L187.4 21.5 L187.9 21.5 L188.4 21.4 L188.9 21.4 L189.4 21.4 L189.9 21.3 L190.4 21.3 L190.9 21.3 L191.4 21.2 L191.9 21.2 L192.4 21.2 L192.9 21.2 L193.4 21.1 L193.9 21.1 L194.4 21.1 L194.9 21.1 L195.4 21.1 L195.9 21 L196.4 21 L196.9 21 L197.4 21 L197.9 21" fill="none" stroke="#000" stroke-width="1.5" stroke-linejoin="round"/>
<path d="M115.1 20.3a2.3 2.3 0 1 0 4.6 0a2.3 2.3 0 1 0 -4.6 0M111.9 21.8a2.3 2.3 0 1 0 4.6 0a2.3 2.3 0 1 0 -4.6 0M134.7 27.8a2.3 2.3 0 1 0 4.6 0a2.3 2.3 0 1 0 -4.6 0M76.9 28a2.3 2.3 0 1 0 4.6 0a2.3 2.3 0 1 0 -4.6 0M120.4 24a2.3 2.3 0 1 0 4.6 0a2.3 2.3 0 1 0 -4.6 0M93.2 25.6a2.3 2.3 0 1 0 4.6 0a2.3 2.3 0 1 0 -4.6 0M118.8 16.1a2.3 2.3 0 1 0 4.6 0a2.3 2.3 0 1 0 -4.6 0M126.8 24.7a2.3 2.3 0 1 0 4.6 0a2.3 2.3 0 1 0 -4.6 0M132.7 38.4a2.3 2.3 0 1 0 4.6 0a2.3 2.3 0 1 0 -4.6 0M83.4 25.2a2.3 2.3 0 1 0 4.6 0a2.3 2.3 0 1 0 -4.6 0M96.9 22.6a2.3 2.3 0 1 0 4.6 0a2.3 2.3 0 1 0 -4.6 0M130.2 25.9a2.3 2.3 0 1 0 4.6 0a2.3 2.3 0 1 0 -4.6 0M129.8 45.6a2.3 2.3 0 1 0 4.6 0a2.3 2.3 0 1 0 -4.6 0M90.5 16a2.3 2.3 0 1 0 4.6 0a2.3 2.3 0 1 0 -4.6 0M128.9 24.4a2.3 2.3 0 1 0 4.6 0a2.3 2.3 0 1 0 -4.6 0M93 23.7a2.3 2.3 0 1 0 4.6 0a2.3 2.3 0 1 0 -4.6 0M90.1 25.2a2.3 2.3 0 1 0 4.6 0a2.3 2.3 0 1 0 -4.6 0M117.5 19.6a2.3 2.3 0 1 0 4.6 0a2.3 2.3 0 1 0 -4.6 0M97.4 22.9a2.3 2.3 0 1 0 4.6 0a2.3 2.3 0 1 0 -4.6 0M96.4 19.7a2.3 2.3 0 1 0 4.6 0a2.3 2.3 0 1 0 -4.6 0M92.9 21.8a2.3 2.3 0 1 0 4.6 0a2.3 2.3 0 1 0 -4.6 0M95.7 20.4a2.3 2.3 0 1 0 4.6 0a2.3 2.3 0 1 0 -4.6 0M74.6 14.4a2.3 2.3 0 1 0 4.6 0a2.3 2.3 0 1 0 -4.6 0M70.3 20.5a2.3 2.3 0 1 0 4.6 0a2.3 2.3 0 1 0 -4.6 0M117.6 26.8a2.3 2.3 0 1 0 4.6 0a2.3 2.3 0 1 0 -4.6 0M103.7 16.1a2.3 2.3 0 1 0 4.6 0a2.3 2.3 0 1 0 -4.6 0M110.9 20.3a2.3 2.3 0 1 0 4.6 0a2.3 2.3 0 1 0 -4.6 0M120.2 25.9a2.3 2.3 0 1 0 4.6 0a2.3 2.3 0 1 0 -4.6 0M80.5 15a2.3 2.3 0 1 0 4.6 0a2.3 2.3 0 1 0 -4.6 0M82.3 21.9a2.3 2.3 0 1 0 4.6 0a2.3 2.3 0 1 0 -4.6 0M83.4 15.1a2.3 2.3 0 1 0 4.6 0a2.3 2.3 0 1 0 -4.6 0M85.8 27.2a2.3 2.3 0 1 0 4.6 0a2.3 2.3 0 1 0 -4.6 0M117.3 34.7a2.3 2.3 0 1 0 4.6 0a2.3 2.3 0 1 0 -4.6 0M91 32.2a2.3 2.3 0 1 0 4.6 0a2.3 2.3 0 1 0 -4.6 0M87.8 19.8a2.3 2.3 0 1 0 4.6 0a2.3 2.3 0 1 0 -4.6 0M109.1 25.6a2.3 2.3 0 1 0 4.6 0a2.3 2.3 0 1 0 -4.6 0M78.3 17.2a2.3 2.3 0 1 0 4.6 0a2.3 2.3 0 1 0 -4.6 0M73.5 21.2a2.3 2.3 0 1 0 4.6 0a2.3 2.3 0 1 0 -4.6 0M112 30.2a2.3 2.3 0 1 0 4.6 0a2.3 2.3 0 1 0 -4.6 0M117.1 14.7a2.3 2.3 0 1 0 4.6 0a2.3 2.3 0 1 0 -4.6 0M85.5 26.8a2.3 2.3 0 1 0 4.6 0a2.3 2.3 0 1 0 -4.6 0M109 21.3a2.3 2.3 0 1 0 4.6 0a2.3 2.3 0 1 0 -4.6 0M68.1 28.3a2.3 2.3 0 1 0 4.6 0a2.3 2.3 0 1 0 -4.6 0M92.7 22.2a2.3 2.3 0 1 0 4.6 0a2.3 2.3 0 1 0 -4.6 0M104.7 17.7a2.3 2.3 0 1 0 4.6 0a2.3 2.3 0 1 0 -4.6 0M83.3 22.4a2.3 2.3 0 1 0 4.6 0a2.3 2.3 0 1 0 -4.6 0M89.6 25.1a2.3 2.3 0 1 0 4.6 0a2.3 2.3 0 1 0 -4.6 0M106.8 21.7a2.3 2.3 0 1 0 4.6 0a2.3 2.3 0 1 0 -4.6 0M106.8 24.1a2.3 2.3 0 1 0 4.6 0a2.3 2.3 0 1 0 -4.6 0M77.3 17.9a2.3 2.3 0 1 0 4.6 0a2.3 2.3 0 1 0 -4.6 0M113 11a2.3 2.3 0 1 0 4.6 0a2.3 2.3 0 1 0 -4.6 0M71.3 25.6a2.3 2.3 0 1 0 4.6 0a2.3 2.3 0 1 0 -4.6 0M132.9 29.8a2.3 2.3 0 1 0 4.6 0a2.3 2.3 0 1 0 -4.6 0M79.9 21.6a2.3 2.3 0 1 0 4.6 0a2.3 2.3 0 1 0 -4.6 0M83.1 21.3a2.3 2.3 0 1 0 4.6 0a2.3 2.3 0 1 0 -4.6 0M79.2 26.5a2.3 2.3 0 1 0 4.6 0a2.3 2.3 0 1 0 -4.6 0M132.9 24.4a2.3 2.3 0 1 0 4.6 0a2.3 2.3 0 1 0 -4.6 0M85.1 17.1a2.3 2.3 0 1 0 4.6 0a2.3 2.3 0 1 0 -4.6 0M106.6 20.4a2.3 2.3 0 1 0 4.6 0a2.3 2.3 0 1 0 -4.6 0M133.4 33.4a2.3 2.3 0 1 0 4.6 0a2.3 2.3 0 1 0 -4.6 0M130.1 11a2.3 2.3 0 1 0 4.6 0a2.3 2.3 0 1 0 -4.6 0M68.4 27.1a2.3 2.3 0 1 0 4.6 0a2.3 2.3 0 1 0 -4.6 0M100.5 17.8a2.3 2.3 0 1 0 4.6 0a2.3 2.3 0 1 0 -4.6 0M106.6 12.2a2.3 2.3 0 1 0 4.6 0a2.3 2.3 0 1 0 -4.6 0M113 28.7a2.3 2.3 0 1 0 4.6 0a2.3 2.3 0 1 0 -4.6 0M88.5 20.5a2.3 2.3 0 1 0 4.6 0a2.3 2.3 0 1 0 -4.6 0M88.5 13.9a2.3 2.3 0 1 0 4.6 0a2.3 2.3 0 1 0 -4.6 0M66.2 18.5a2.3 2.3 0 1 0 4.6 0a2.3 2.3 0 1 0 -4.6 0M68.3 25.7a2.3 2.3 0 1 0 4.6 0a2.3 2.3 0 1 0 -4.6 0M103.3 27.9a2.3 2.3 0 1 0 4.6 0a2.3 2.3 0 1 0 -4.6 0M70.9 18.3a2.3 2.3 0 1 0 4.6 0a2.3 2.3 0 1 0 -4.6 0M79.4 23a2.3 2.3 0 1 0 4.6 0a2.3 2.3 0 1 0 -4.6 0M88.2 24.9a2.3 2.3 0 1 0 4.6 0a2.3 2.3 0 1 0 -4.6 0M70.9 17.1a2.3 2.3 0 1 0 4.6 0a2.3 2.3 0 1 0 -4.6 0M67.3 22.5a2.3 2.3 0 1 0 4.6 0a2.3 2.3 0 1 0 -4.6 0M129.4 24.4a2.3 2.3 0 1 0 4.6 0a2.3 2.3 0 1 0 -4.6 0M95.3 18.2a2.3 2.3 0 1 0 4.6 0a2.3 2.3 0 1 0 -4.6 0M79.3 18.1a2.3 2.3 0 1 0 4.6 0a2.3 2.3 0 1 0 -4.6 0M113.6 22.1a2.3 2.3 0 1 0 4.6 0a2.3 2.3 0 1 0 -4.6 0M66 20.7a2.3 2.3 0 1 0 4.6 0a2.3 2.3 0 1 0 -4.6 0M82.4 17.8a2.3 2.3 0 1 0 4.6 0a2.3 2.3 0 1 0 -4.6 0M130.7 23.3a2.3 2.3 0 1 0 4.6 0a2.3 2.3 0 1 0 -4.6 0M127.3 29.8a2.3 2.3 0 1 0 4.6 0a2.3 2.3 0 1 0 -4.6 0M108.6 22.7a2.3 2.3 0 1 0 4.6 0a2.3 2.3 0 1 0 -4.6 0M70.9 25.5a2.3 2.3 0 1 0 4.6 0a2.3 2.3 0 1 0 -4.6 0M87 27.6a2.3 2.3 0 1 0 4.6 0a2.3 2.3 0 1 0 -4.6 0M66.6 23.8a2.3 2.3 0 1 0 4.6 0a2.3 2.3 0 1 0 -4.6 0M80.6 33.3a2.3 2.3 0 1 0 4.6 0a2.3 2.3 0 1 0 -4.6 0M148.7 51.4a2.3 2.3 0 1 0 4.6 0a2.3 2.3 0 1 0 -4.6 0M141.7 46.1a2.3 2.3 0 1 0 4.6 0a2.3 2.3 0 1 0 -4.6 0M150.9 55.5a2.3 2.3 0 1 0 4.6 0a2.3 2.3 0 1 0 -4.6 0M143.5 39.6a2.3 2.3 0 1 0 4.6 0a2.3 2.3 0 1 0 -4.6 0M155.6 55.6a2.3 2.3 0 1 0 4.6 0a2.3 2.3 0 1 0 -4.6 0M138.6 36.1a2.3 2.3 0 1 0 4.6 0a2.3 2.3 0 1 0 -4.6 0M134.9 20.5a2.3 2.3 0 1 0 4.6 0a2.3 2.3 0 1 0 -4.6 0M150.9 49.6a2.3 2.3 0 1 0 4.6 0a2.3 2.3 0 1 0 -4.6 0M139.6 29.2a2.3 2.3 0 1 0 4.6 0a2.3 2.3 0 1 0 -4.6 0M152.9 47.2a2.3 2.3 0 1 0 4.6 0a2.3 2.3 0 1 0 -4.6 0M146.3 34.7a2.3 2.3 0 1 0 4.6 0a2.3 2.3 0 1 0 -4.6 0M143.8 36.6a2.3 2.3 0 1 0 4.6 0a2.3 2.3 0 1 0 -4.6 0M133 27.2a2.3 2.3 0 1 0 4.6 0a2.3 2.3 0 1 0 -4.6 0M151 51.7a2.3 2.3 0 1 0 4.6 0a2.3 2.3 0 1 0 -4.6 0M134.6 32.4a2.3 2.3 0 1 0 4.6 0a2.3 2.3 0 1 0 -4.6 0M155.2 56.3a2.3 2.3 0 1 0 4.6 0a2.3 2.3 0 1 0 -4.6 0M153.4 49.6a2.3 2.3 0 1 0 4.6 0a2.3 2.3 0 1 0 -4.6 0M139.2 27.7a2.3 2.3 0 1 0 4.6 0a2.3 2.3 0 1 0 -4.6 0M134.3 30.3a2.3 2.3 0 1 0 4.6 0a2.3 2.3 0 1 0 -4.6 0M153.6 49.7a2.3 2.3 0 1 0 4.6 0a2.3 2.3 0 1 0 -4.6 0M142.6 43.5a2.3 2.3 0 1 0 4.6 0a2.3 2.3 0 1 0 -4.6 0M134.6 37.6a2.3 2.3 0 1 0 4.6 0a2.3 2.3 0 1 0 -4.6 0M143.8 40.8a2.3 2.3 0 1 0 4.6 0a2.3 2.3 0 1 0 -4.6 0M138.1 22.4a2.3 2.3 0 1 0 4.6 0a2.3 2.3 0 1 0 -4.6 0M141.7 25a2.3 2.3 0 1 0 4.6 0a2.3 2.3 0 1 0 -4.6 0M147.3 36.5a2.3 2.3 0 1 0 4.6 0a2.3 2.3 0 1 0 -4.6 0M153.3 46.1a2.3 2.3 0 1 0 4.6 0a2.3 2.3 0 1 0 -4.6 0M150.3 54.5a2.3 2.3 0 1 0 4.6 0a2.3 2.3 0 1 0 -4.6 0M135.6 29.9a2.3 2.3 0 1 0 4.6 0a2.3 2.3 0 1 0 -4.6 0M142.8 31.7a2.3 2.3 0 1 0 4.6 0a2.3 2.3 0 1 0 -4.6 0M142.9 44.3a2.3 2.3 0 1 0 4.6 0a2.3 2.3 0 1 0 -4.6 0M154.8 66.2a2.3 2.3 0 1 0 4.6 0a2.3 2.3 0 1 0 -4.6 0M133.5 25.4a2.3 2.3 0 1 0 4.6 0a2.3 2.3 0 1 0 -4.6 0M143 37.8a2.3 2.3 0 1 0 4.6 0a2.3 2.3 0 1 0 -4.6 0M153 50.7a2.3 2.3 0 1 0 4.6 0a2.3 2.3 0 1 0 -4.6 0M140.5 38.1a2.3 2.3 0 1 0 4.6 0a2.3 2.3 0 1 0 -4.6 0M138.1 34.5a2.3 2.3 0 1 0 4.6 0a2.3 2.3 0 1 0 -4.6 0M145.2 49.9a2.3 2.3 0 1 0 4.6 0a2.3 2.3 0 1 0 -4.6 0M140.4 39.6a2.3 2.3 0 1 0 4.6 0a2.3 2.3 0 1 0 -4.6 0M153.2 60a2.3 2.3 0 1 0 4.6 0a2.3 2.3 0 1 0 -4.6 0M133.4 34.8a2.3 2.3 0 1 0 4.6 0a2.3 2.3 0 1 0 -4.6 0M137.1 33.3a2.3 2.3 0 1 0 4.6 0a2.3 2.3 0 1 0 -4.6 0M133.6 18.9a2.3 2.3 0 1 0 4.6 0a2.3 2.3 0 1 0 -4.6 0M148.6 44.3a2.3 2.3 0 1 0 4.6 0a2.3 2.3 0 1 0 -4.6 0M139.6 33.7a2.3 2.3 0 1 0 4.6 0a2.3 2.3 0 1 0 -4.6 0M153.1 57.2a2.3 2.3 0 1 0 4.6 0a2.3 2.3 0 1 0 -4.6 0M152.6 56.5a2.3 2.3 0 1 0 4.6 0a2.3 2.3 0 1 0 -4.6 0M153.5 52.2a2.3 2.3 0 1 0 4.6 0a2.3 2.3 0 1 0 -4.6 0M138 25.7a2.3 2.3 0 1 0 4.6 0a2.3 2.3 0 1 0 -4.6 0M131.9 34a2.3 2.3 0 1 0 4.6 0a2.3 2.3 0 1 0 -4.6 0M140.3 39.7a2.3 2.3 0 1 0 4.6 0a2.3 2.3 0 1 0 -4.6 0M154.3 57.7a2.3 2.3 0 1 0 4.6 0a2.3 2.3 0 1 0 -4.6 0M150.3 51.2a2.3 2.3 0 1 0 4.6 0a2.3 2.3 0 1 0 -4.6 0M133.4 32.7a2.3 2.3 0 1 0 4.6 0a2.3 2.3 0 1 0 -4.6 0M148.2 46.8a2.3 2.3 0 1 0 4.6 0a2.3 2.3 0 1 0 -4.6 0M154 39.2a2.3 2.3 0 1 0 4.6 0a2.3 2.3 0 1 0 -4.6 0M155.2 53.3a2.3 2.3 0 1 0 4.6 0a2.3 2.3 0 1 0 -4.6 0M148 42.6a2.3 2.3 0 1 0 4.6 0a2.3 2.3 0 1 0 -4.6 0M152.3 44.5a2.3 2.3 0 1 0 4.6 0a2.3 2.3 0 1 0 -4.6 0M152.1 50.1a2.3 2.3 0 1 0 4.6 0a2.3 2.3 0 1 0 -4.6 0M180.5 37.4a2.3 2.3 0 1 0 4.6 0a2.3 2.3 0 1 0 -4.6 0M176 45.7a2.3 2.3 0 1 0 4.6 0a2.3 2.3 0 1 0 -4.6 0M171.5 70.6a2.3 2.3 0 1 0 4.6 0a2.3 2.3 0 1 0 -4.6 0M159.5 71.1a2.3 2.3 0 1 0 4.6 0a2.3 2.3 0 1 0 -4.6 0M179.7 47.6a2.3 2.3 0 1 0 4.6 0a2.3 2.3 0 1 0 -4.6 0M175.9 59a2.3 2.3 0 1 0 4.6 0a2.3 2.3 0 1 0 -4.6 0M174.2 57.6a2.3 2.3 0 1 0 4.6 0a2.3 2.3 0 1 0 -4.6 0M176.3 64.1a2.3 2.3 0 1 0 4.6 0a2.3 2.3 0 1 0 -4.6 0M174.4 48.7a2.3 2.3 0 1 0 4.6 0a2.3 2.3 0 1 0 -4.6 0M164.1 83.3a2.3 2.3 0 1 0 4.6 0a2.3 2.3 0 1 0 -4.6 0M172.3 70.3a2.3 2.3 0 1 0 4.6 0a2.3 2.3 0 1 0 -4.6 0M166.1 87.6a2.3 2.3 0 1 0 4.6 0a2.3 2.3 0 1 0 -4.6 0M167.5 91.7a2.3 2.3 0 1 0 4.6 0a2.3 2.3 0 1 0 -4.6 0M165.2 88.5a2.3 2.3 0 1 0 4.6 0a2.3 2.3 0 1 0 -4.6 0M155.7 70.1a2.3 2.3 0 1 0 4.6 0a2.3 2.3 0 1 0 -4.6 0M170.3 89.6a2.3 2.3 0 1 0 4.6 0a2.3 2.3 0 1 0 -4.6 0M163.8 94.7a2.3 2.3 0 1 0 4.6 0a2.3 2.3 0 1 0 -4.6 0M167.6 93.8a2.3 2.3 0 1 0 4.6 0a2.3 2.3 0 1 0 -4.6 0M175.3 46.7a2.3 2.3 0 1 0 4.6 0a2.3 2.3 0 1 0 -4.6 0M172.4 70.8a2.3 2.3 0 1 0 4.6 0a2.3 2.3 0 1 0 -4.6 0M174.3 62.7a2.3 2.3 0 1 0 4.6 0a2.3 2.3 0 1 0 -4.6 0M186.6 36.6a2.3 2.3 0 1 0 4.6 0a2.3 2.3 0 1 0 -4.6 0M161.2 76.9a2.3 2.3 0 1 0 4.6 0a2.3 2.3 0 1 0 -4.6 0M170.7 86.5a2.3 2.3 0 1 0 4.6 0a2.3 2.3 0 1 0 -4.6 0M159.9 63.7a2.3 2.3 0 1 0 4.6 0a2.3 2.3 0 1 0 -4.6 0M164 94.7a2.3 2.3 0 1 0 4.6 0a2.3 2.3 0 1 0 -4.6 0M183.7 35a2.3 2.3 0 1 0 4.6 0a2.3 2.3 0 1 0 -4.6 0M152.5 63.1a2.3 2.3 0 1 0 4.6 0a2.3 2.3 0 1 0 -4.6 0M172.9 56.2a2.3 2.3 0 1 0 4.6 0a2.3 2.3 0 1 0 -4.6 0M180.6 43.1a2.3 2.3 0 1 0 4.6 0a2.3 2.3 0 1 0 -4.6 0M169 86.8a2.3 2.3 0 1 0 4.6 0a2.3 2.3 0 1 0 -4.6 0M176.9 51a2.3 2.3 0 1 0 4.6 0a2.3 2.3 0 1 0 -4.6 0M168.2 97.3a2.3 2.3 0 1 0 4.6 0a2.3 2.3 0 1 0 -4.6 0M161.8 90.6a2.3 2.3 0 1 0 4.6 0a2.3 2.3 0 1 0 -4.6 0M169.9 88.5a2.3 2.3 0 1 0 4.6 0a2.3 2.3 0 1 0 -4.6 0M157.6 71.3a2.3 2.3 0 1 0 4.6 0a2.3 2.3 0 1 0 -4.6 0M161 88.1a2.3 2.3 0 1 0 4.6 0a2.3 2.3 0 1 0 -4.6 0M163 86.5a2.3 2.3 0 1 0 4.6 0a2.3 2.3 0 1 0 -4.6 0M187.7 27a2.3 2.3 0 1 0 4.6 0a2.3 2.3 0 1 0 -4.6 0M161.9 90.1a2.3 2.3 0 1 0 4.6 0a2.3 2.3 0 1 0 -4.6 0M157.9 75.7a2.3 2.3 0 1 0 4.6 0a2.3 2.3 0 1 0 -4.6 0M182.9 35a2.3 2.3 0 1 0 4.6 0a2.3 2.3 0 1 0 -4.6 0M156.9 69.5a2.3 2.3 0 1 0 4.6 0a2.3 2.3 0 1 0 -4.6 0M186.3 31.4a2.3 2.3 0 1 0 4.6 0a2.3 2.3 0 1 0 -4.6 0M182.4 43.4a2.3 2.3 0 1 0 4.6 0a2.3 2.3 0 1 0 -4.6 0M174.5 72.4a2.3 2.3 0 1 0 4.6 0a2.3 2.3 0 1 0 -4.6 0M167.7 96.3a2.3 2.3 0 1 0 4.6 0a2.3 2.3 0 1 0 -4.6 0M158.3 69.3a2.3 2.3 0 1 0 4.6 0a2.3 2.3 0 1 0 -4.6 0M154.8 63.5a2.3 2.3 0 1 0 4.6 0a2.3 2.3 0 1 0 -4.6 0M154.6 61.1a2.3 2.3 0 1 0 4.6 0a2.3 2.3 0 1 0 -4.6 0M161.7 91a2.3 2.3 0 1 0 4.6 0a2.3 2.3 0 1 0 -4.6 0M165.6 100.1a2.3 2.3 0 1 0 4.6 0a2.3 2.3 0 1 0 -4.6 0M180.7 39a2.3 2.3 0 1 0 4.6 0a2.3 2.3 0 1 0 -4.6 0M172.5 83.3a2.3 2.3 0 1 0 4.6 0a2.3 2.3 0 1 0 -4.6 0M186.1 31.4a2.3 2.3 0 1 0 4.6 0a2.3 2.3 0 1 0 -4.6 0M173.9 60.8a2.3 2.3 0 1 0 4.6 0a2.3 2.3 0 1 0 -4.6 0M155.1 66.7a2.3 2.3 0 1 0 4.6 0a2.3 2.3 0 1 0 -4.6 0M174.4 84.6a2.3 2.3 0 1 0 4.6 0a2.3 2.3 0 1 0 -4.6 0M158.4 69.3a2.3 2.3 0 1 0 4.6 0a2.3 2.3 0 1 0 -4.6 0M157.5 53a2.3 2.3 0 1 0 4.6 0a2.3 2.3 0 1 0 -4.6 0M184.1 34.5a2.3 2.3 0 1 0 4.6 0a2.3 2.3 0 1 0 -4.6 0M165.5 91.7a2.3 2.3 0 1 0 4.6 0a2.3 2.3 0 1 0 -4.6 0M157.9 74a2.3 2.3 0 1 0 4.6 0a2.3 2.3 0 1 0 -4.6 0M157.3 62.2a2.3 2.3 0 1 0 4.6 0a2.3 2.3 0 1 0 -4.6 0M177.7 68.1a2.3 2.3 0 1 0 4.6 0a2.3 2.3 0 1 0 -4.6 0M166.9 92.2a2.3 2.3 0 1 0 4.6 0a2.3 2.3 0 1 0 -4.6 0M155.3 48.5a2.3 2.3 0 1 0 4.6 0a2.3 2.3 0 1 0 -4.6 0M177 59.4a2.3 2.3 0 1 0 4.6 0a2.3 2.3 0 1 0 -4.6 0M161 82.3a2.3 2.3 0 1 0 4.6 0a2.3 2.3 0 1 0 -4.6 0M176.9 53a2.3 2.3 0 1 0 4.6 0a2.3 2.3 0 1 0 -4.6 0M163.9 101.7a2.3 2.3 0 1 0 4.6 0a2.3 2.3 0 1 0 -4.6 0M171.6 93.6a2.3 2.3 0 1 0 4.6 0a2.3 2.3 0 1 0 -4.6 0M163.2 91.3a2.3 2.3 0 1 0 4.6 0a2.3 2.3 0 1 0 -4.6 0M161.2 98.2a2.3 2.3 0 1 0 4.6 0a2.3 2.3 0 1 0 -4.6 0M165.3 97a2.3 2.3 0 1 0 4.6 0a2.3 2.3 0 1 0 -4.6 0M167.8 96.7a2.3 2.3 0 1 0 4.6 0a2.3 2.3 0 1 0 -4.6 0M162.4 100.9a2.3 2.3 0 1 0 4.6 0a2.3 2.3 0 1 0 -4.6 0M169.9 96.5a2.3 2.3 0 1 0 4.6 0a2.3 2.3 0 1 0 -4.6 0M162.9 97a2.3 2.3 0 1 0 4.6 0a2.3 2.3 0 1 0 -4.6 0M168.4 96.8a2.3 2.3 0 1 0 4.6 0a2.3 2.3 0 1 0 -4.6 0M162.5 96.4a2.3 2.3 0 1 0 4.6 0a2.3 2.3 0 1 0 -4.6 0M170.4 95.7a2.3 2.3 0 1 0 4.6 0a2.3 2.3 0 1 0 -4.6 0M162.9 92.3a2.3 2.3 0 1 0 4.6 0a2.3 2.3 0 1 0 -4.6 0M168.7 94.1a2.3 2.3 0 1 0 4.6 0a2.3 2.3 0 1 0 -4.6 0M198.2 29.8a2.3 2.3 0 1 0 4.6 0a2.3 2.3 0 1 0 -4.6 0M197 21.4a2.3 2.3 0 1 0 4.6 0a2.3 2.3 0 1 0 -4.6 0M226.1 18.2a2.3 2.3 0 1 0 4.6 0a2.3 2.3 0 1 0 -4.6 0M189.4 40.3a2.3 2.3 0 1 0 4.6 0a2.3 2.3 0 1 0 -4.6 0M195.2 22.7a2.3 2.3 0 1 0 4.6 0a2.3 2.3 0 1 0 -4.6 0M212.2 19.1a2.3 2.3 0 1 0 4.6 0a2.3 2.3 0 1 0 -4.6 0M200.9 23.6a2.3 2.3 0 1 0 4.6 0a2.3 2.3 0 1 0 -4.6 0M197.4 21a2.3 2.3 0 1 0 4.6 0a2.3 2.3 0 1 0 -4.6 0M204.8 30.1a2.3 2.3 0 1 0 4.6 0a2.3 2.3 0 1 0 -4.6 0M212.1 31.4a2.3 2.3 0 1 0 4.6 0a2.3 2.3 0 1 0 -4.6 0M220.6 18.1a2.3 2.3 0 1 0 4.6 0a2.3 2.3 0 1 0 -4.6 0M236.6 12.4a2.3 2.3 0 1 0 4.6 0a2.3 2.3 0 1 0 -4.6 0M231.1 27a2.3 2.3 0 1 0 4.6 0a2.3 2.3 0 1 0 -4.6 0M207.5 29a2.3 2.3 0 1 0 4.6 0a2.3 2.3 0 1 0 -4.6 0M209.1 27.4a2.3 2.3 0 1 0 4.6 0a2.3 2.3 0 1 0 -4.6 0M206.6 32.8a2.3 2.3 0 1 0 4.6 0a2.3 2.3 0 1 0 -4.6 0M197.4 21.8a2.3 2.3 0 1 0 4.6 0a2.3 2.3 0 1 0 -4.6 0M236.5 20.2a2.3 2.3 0 1 0 4.6 0a2.3 2.3 0 1 0 -4.6 0M187.8 23.9a2.3 2.3 0 1 0 4.6 0a2.3 2.3 0 1 0 -4.6 0M195.2 19.8a2.3 2.3 0 1 0 4.6 0a2.3 2.3 0 1 0 -4.6 0M220.3 26.6a2.3 2.3 0 1 0 4.6 0a2.3 2.3 0 1 0 -4.6 0M216.2 18.7a2.3 2.3 0 1 0 4.6 0a2.3 2.3 0 1 0 -4.6 0M199.1 36.9a2.3 2.3 0 1 0 4.6 0a2.3 2.3 0 1 0 -4.6 0M235.7 21.4a2.3 2.3 0 1 0 4.6 0a2.3 2.3 0 1 0 -4.6 0M206 20.5a2.3 2.3 0 1 0 4.6 0a2.3 2.3 0 1 0 -4.6 0M217.4 26a2.3 2.3 0 1 0 4.6 0a2.3 2.3 0 1 0 -4.6 0M188.7 38.9a2.3 2.3 0 1 0 4.6 0a2.3 2.3 0 1 0 -4.6 0M233.2 23.5a2.3 2.3 0 1 0 4.6 0a2.3 2.3 0 1 0 -4.6 0M189.3 23.4a2.3 2.3 0 1 0 4.6 0a2.3 2.3 0 1 0 -4.6 0M205.2 25.7a2.3 2.3 0 1 0 4.6 0a2.3 2.3 0 1 0 -4.6 0M233.4 28a2.3 2.3 0 1 0 4.6 0a2.3 2.3 0 1 0 -4.6 0M235.5 18.6a2.3 2.3 0 1 0 4.6 0a2.3 2.3 0 1 0 -4.6 0M232.8 17.2a2.3 2.3 0 1 0 4.6 0a2.3 2.3 0 1 0 -4.6 0M228.9 26.3a2.3 2.3 0 1 0 4.6 0a2.3 2.3 0 1 0 -4.6 0M196.4 27a2.3 2.3 0 1 0 4.6 0a2.3 2.3 0 1 0 -4.6 0M186.5 27a2.3 2.3 0 1 0 4.6 0a2.3 2.3 0 1 0 -4.6 0M208.7 21.4a2.3 2.3 0 1 0 4.6 0a2.3 2.3 0 1 0 -4.6 0M187.6 27.2a2.3 2.3 0 1 0 4.6 0a2.3 2.3 0 1 0 -4.6 0M236 22.5a2.3 2.3 0 1 0 4.6 0a2.3 2.3 0 1 0 -4.6 0M184.3 34.3a2.3 2.3 0 1 0 4.6 0a2.3 2.3 0 1 0 -4.6 0M201.9 17a2.3 2.3 0 1 0 4.6 0a2.3 2.3 0 1 0 -4.6 0M195.8 30.4a2.3 2.3 0 1 0 4.6 0a2.3 2.3 0 1 0 -4.6 0M184.1 25.6a2.3 2.3 0 1 0 4.6 0a2.3 2.3 0 1 0 -4.6 0M211.5 24.9a2.3 2.3 0 1 0 4.6 0a2.3 2.3 0 1 0 -4.6 0M188 35a2.3 2.3 0 1 0 4.6 0a2.3 2.3 0 1 0 -4.6 0M232.7 23.4a2.3 2.3 0 1 0 4.6 0a2.3 2.3 0 1 0 -4.6 0M221.5 26.7a2.3 2.3 0 1 0 4.6 0a2.3 2.3 0 1 0 -4.6 0M203.9 21.4a2.3 2.3 0 1 0 4.6 0a2.3 2.3 0 1 0 -4.6 0M228.8 16.4a2.3 2.3 0 1 0 4.6 0a2.3 2.3 0 1 0 -4.6 0M227.8 32.4a2.3 2.3 0 1 0 4.6 0a2.3 2.3 0 1 0 -4.6 0" fill="#b71c1f"/>
<path d="M68 20.5 L68.5 20.5 L69 20.5 L69.5 20.5 L70 20.5 L70.5 20.6 L71 20.6 L71.5 20.6 L72 20.6 L72.5 20.6 L73 20.6 L73.5 20.6 L74 20.6 L74.5 20.6 L75 20.7 L75.5 20.7 L76 20.7 L76.5 20.7 L77 20.7 L77.5 20.7 L78 20.7 L78.5 20.7 L79 20.7 L79.5 20.8 L80 20.8 L80.5 20.8 L81 20.8 L81.5 20.8 L82 20.8 L82.5 20.8 L83 20.8 L83.5 20.8 L84 20.9 L84.5 20.9 L85 20.9 L85.5 20.9 L86 20.9 L86.5 20.9 L87 20.9 L87.5 20.9 L88 21 L88.5 21 L89 21 L89.5 21 L90 21 L90.5 21 L91 21 L91.5 21 L92 21 L92.5 21.1 L93 21.1 L93.5 21.1 L94 21.1 L94.5 21.1 L95 21.1 L95.5 21.1 L96 21.1 L96.5 21.1 L97 21.2 L97.5 21.2 L98 21.2 L98.5 21.2 L99 21.2 L99.5 21.2 L100 21.2 L100.5 21.2 L101 21.2 L101.5 21.3 L102 21.3 L102.5 21.3 L103 21.3 L103.5 21.3 L104 21.3 L104.5 21.3 L105 21.3 L105.5 21.4 L106 21.4 L106.5 21.4 L107 21.4 L107.5 21.4 L108 21.4 L108.5 21.4 L109 21.5 L109.5 21.5 L110 21.5 L110.5 21.5 L111 21.5 L111.5 21.6 L112 21.6 L112.5 21.6 L113 21.6 L113.5 21.6 L114 21.7 L114.5 21.7 L115 21.7 L115.5 21.7 L116 21.8 L116.5 21.8 L117 21.8 L117.5 21.8 L118 21.9 L118.5 21.9 L119 21.9 L119.5 22 L120 22 L120.5 22 L121 22.1 L121.5 22.1 L122 22.2 L122.5 22.2 L123 22.3 L123.5 22.3 L124 22.4 L124.5 22.4 L125 22.5 L125.5 22.6 L126 22.7 L126.5 22.8 L127 22.9 L127.5 23.1 L128 23.3 L128.5 23.4 L129 23.6 L129.5 23.9 L130 24.1 L130.5 24.3 L131 24.5 L131.5 24.8 L132 25 L132.5 25.2 L133 25.5 L133.5 25.8 L134 26 L134.5 26.3 L135 26.6 L135.5 26.9 L136 27.3 L136.5 27.6 L137 28 L137.5 28.4 L138 28.8 L138.5 29.2 L139 29.7 L139.5 30.2 L140 30.7 L140.5 31.2 L141 31.9 L141.5 32.7 L142 33.5 L142.5 34.5 L143 35.4 L143.5 36.4 L144 37.4 L144.5 38.4 L145 39.3 L145.5 40.2 L146 41.1 L146.5 42 L147 42.9 L147.5 43.6 L148 44 L148.5 44.2 L149 44.4 L149.5 44.5 L150 44.6 L150.5 44.8 L151 45 L151.5 45.3 L152 45.8 L152.5 46.3 L153 47 L153.5 47.8 L154 48.6 L154.5 49.5 L155 50.5 L155.5 51.6 L156 52.7 L156.5 54.2 L157 56.1 L157.5 58.1 L158 60.4 L158.5 62.8 L159 65.2 L159.5 67.7 L160 70.1 L160.5 72.3 L161 74.4 L161.5 76.4 L162 78.5 L162.5 80.6 L163 82.6 L163.5 84.6 L164 86.4 L164.5 88.2 L165 89.7 L165.5 91.2 L166 92.7 L166.5 94.2 L167 95.6 L167.5 96.8 L168 97.6 L168.5 98 L169 97.8 L169.5 97.2 L170 96.2 L170.5 94.9 L171 93.3 L171.5 91.6 L172 89.8 L172.5 88 L173 86 L173.5 83.4 L174 80.6 L174.5 77.2 L175 73.1 L175.5 68.8 L176 64.7 L176.5 61.4 L177 58.6 L177.5 55.9 L178 53.4 L178.5 51.1 L179 49 L179.5 47.2 L180 45.7 L180.5 44.3 L181 43 L181.5 41.8 L182 40.7 L182.5 39.6 L183 38.6 L183.5 37.7 L184 36.9 L184.5 36.1 L185 35.4 L185.5 34.8 L186 34.3 L186.5 33.7 L187 33.2 L187.5 32.7 L188 32.3 L188.5 31.8 L189 31.4 L189.5 31 L190 30.6 L190.5 30.3 L191 29.9 L191.5 29.6 L192 29.3 L192.5 29 L193 28.7 L193.5 28.5 L194 28.2 L194.5 28 L195 27.8 L195.5 27.6 L196 27.4 L196.5 27.2 L197 27 L197.5 26.8 L198 26.6 L198.5 26.4 L199 26.2 L199.5 26.1 L200 25.9 L200.5 25.7 L201 25.6 L201.5 25.4 L202 25.3 L202.5 25.1 L203 25 L203.5 24.9 L204 24.7 L204.5 24.6 L205 24.5 L205.5 24.4 L206 24.2 L206.5 24.1 L207 24 L207.5 23.9 L208 23.8 L208.5 23.7 L209 23.6 L209.5 23.5 L210 23.4 L210.5 23.3 L211 23.2 L211.5 23.2 L212 23.1 L212.5 23 L213 22.9 L213.5 22.8 L214 22.7 L214.5 22.7 L215 22.6 L215.5 22.5 L216 22.4 L216.5 22.4 L217 22.3 L217.5 22.2 L218 22.2 L218.5 22.1 L219 22 L219.5 22 L220 21.9 L220.5 21.9 L221 21.8 L221.5 21.8 L222 21.7 L222.5 21.7 L223 21.6 L223.5 21.6 L224 21.6 L224.5 21.5 L225 21.5 L225.5 21.5 L226 21.4 L226.5 21.4 L227 21.4 L227.5 21.4 L228 21.4 L228.5 21.3 L229 21.3 L229.5 21.3 L230 21.3 L230.5 21.2 L231 21.2 L231.5 21.2 L232 21.2 L232.5 21.2 L233 21.1 L233.5 21.1 L234 21.1 L234.5 21.1 L235 21.1 L235.5 21.1 L236 21.1 L236.5 21.1 L237 21 L237.5 21 L238 21 L238.5 21 L239 21 L239.5 21 L240 21 L240.5 21 L241 21" fill="none" stroke="#b81c1c" stroke-width="1.8" stroke-linejoin="round"/></g>
<g clip-path="url(#cb)"><rect x="129.3" y="129.3" width="1.4" height="125.1" fill="#7d8286"/>
<path d="M63.5 137.3h3.8v3.8h-3.8zM75.5 153.2h3.8v3.8h-3.8zM85.2 143.9h3.8v3.8h-3.8zM100.5 148.7h3.8v3.8h-3.8zM74.9 148.5h3.8v3.8h-3.8zM100.4 154.9h3.8v3.8h-3.8zM73.5 138.2h3.8v3.8h-3.8zM76.5 142.4h3.8v3.8h-3.8zM87.2 142.8h3.8v3.8h-3.8zM93 147.5h3.8v3.8h-3.8zM103.2 148.9h3.8v3.8h-3.8zM102.7 147.6h3.8v3.8h-3.8zM73.1 140.4h3.8v3.8h-3.8zM96 144h3.8v3.8h-3.8zM92 142.9h3.8v3.8h-3.8zM81 147.4h3.8v3.8h-3.8zM98.1 155.6h3.8v3.8h-3.8zM104.1 140h3.8v3.8h-3.8zM84.1 144.9h3.8v3.8h-3.8zM104.2 148h3.8v3.8h-3.8zM68.4 145.4h3.8v3.8h-3.8zM70.4 138.4h3.8v3.8h-3.8zM96.6 147.2h3.8v3.8h-3.8zM77 139h3.8v3.8h-3.8zM89.9 149.8h3.8v3.8h-3.8zM84.6 136.3h3.8v3.8h-3.8zM68.6 150.9h3.8v3.8h-3.8zM97.1 149.7h3.8v3.8h-3.8zM96 146.4h3.8v3.8h-3.8zM68 135.3h3.8v3.8h-3.8zM74.8 140.9h3.8v3.8h-3.8zM99.1 144.3h3.8v3.8h-3.8zM103.9 149.2h3.8v3.8h-3.8zM103.2 154.1h3.8v3.8h-3.8zM85.5 151.7h3.8v3.8h-3.8zM78.9 139.2h3.8v3.8h-3.8zM82.9 141.3h3.8v3.8h-3.8zM70.1 151h3.8v3.8h-3.8zM138.1 169.8h3.8v3.8h-3.8zM108.6 159.2h3.8v3.8h-3.8zM137.7 172.2h3.8v3.8h-3.8zM143.1 159.6h3.8v3.8h-3.8zM124.4 209.6h3.8v3.8h-3.8zM131.5 205.7h3.8v3.8h-3.8zM136.5 185.1h3.8v3.8h-3.8zM132.1 218.1h3.8v3.8h-3.8zM122.2 198.2h3.8v3.8h-3.8zM131.2 220.3h3.8v3.8h-3.8zM139.3 177.7h3.8v3.8h-3.8zM115 167.5h3.8v3.8h-3.8zM127.1 230.4h3.8v3.8h-3.8zM109 152.2h3.8v3.8h-3.8zM138.8 181.8h3.8v3.8h-3.8zM132.1 196.5h3.8v3.8h-3.8zM111.6 160.8h3.8v3.8h-3.8zM133.4 201h3.8v3.8h-3.8zM131.9 211.1h3.8v3.8h-3.8zM114.3 170.2h3.8v3.8h-3.8zM125.5 238.1h3.8v3.8h-3.8zM131.7 210.3h3.8v3.8h-3.8zM121.7 205.3h3.8v3.8h-3.8zM127.3 234.5h3.8v3.8h-3.8zM139.9 161h3.8v3.8h-3.8zM132.8 218.7h3.8v3.8h-3.8zM126.9 234.1h3.8v3.8h-3.8zM111 161.8h3.8v3.8h-3.8zM114.3 169.7h3.8v3.8h-3.8zM135.5 183.4h3.8v3.8h-3.8zM132.2 200.7h3.8v3.8h-3.8zM135.4 184.3h3.8v3.8h-3.8zM129.6 229.3h3.8v3.8h-3.8zM129.3 229.3h3.8v3.8h-3.8zM126.4 236.4h3.8v3.8h-3.8zM133.1 201.5h3.8v3.8h-3.8zM121.3 206.8h3.8v3.8h-3.8zM126.6 235.5h3.8v3.8h-3.8zM128.2 231.7h3.8v3.8h-3.8zM132.3 212.4h3.8v3.8h-3.8zM118.9 185.6h3.8v3.8h-3.8zM106.2 154.2h3.8v3.8h-3.8zM111.1 165.1h3.8v3.8h-3.8zM115.8 179.2h3.8v3.8h-3.8zM137.7 180.2h3.8v3.8h-3.8zM132 206.2h3.8v3.8h-3.8zM134 199.7h3.8v3.8h-3.8zM124.3 224h3.8v3.8h-3.8zM114.2 168.9h3.8v3.8h-3.8zM127.5 230.5h3.8v3.8h-3.8zM136 179.1h3.8v3.8h-3.8zM126.3 237.9h3.8v3.8h-3.8zM129.7 218.8h3.8v3.8h-3.8zM124.8 214.9h3.8v3.8h-3.8zM115.5 174.6h3.8v3.8h-3.8zM129.1 219.7h3.8v3.8h-3.8zM124.2 232.1h3.8v3.8h-3.8zM121 207.4h3.8v3.8h-3.8zM121.2 193.7h3.8v3.8h-3.8zM135.9 209h3.8v3.8h-3.8zM120.8 203.7h3.8v3.8h-3.8zM130.9 228.8h3.8v3.8h-3.8zM121 188.7h3.8v3.8h-3.8zM132.5 199h3.8v3.8h-3.8zM123.2 211h3.8v3.8h-3.8zM125.6 236.1h3.8v3.8h-3.8zM138.2 170.4h3.8v3.8h-3.8zM135.6 205.3h3.8v3.8h-3.8zM130.9 201.3h3.8v3.8h-3.8zM123.2 207.6h3.8v3.8h-3.8zM136.8 183.7h3.8v3.8h-3.8zM123.1 214.7h3.8v3.8h-3.8zM143.2 158.2h3.8v3.8h-3.8zM139.1 173h3.8v3.8h-3.8zM131.6 216.7h3.8v3.8h-3.8zM136.6 185.3h3.8v3.8h-3.8zM129.7 236.3h3.8v3.8h-3.8zM130.7 202h3.8v3.8h-3.8zM117.5 170.8h3.8v3.8h-3.8zM146.1 158.8h3.8v3.8h-3.8zM136.6 191.4h3.8v3.8h-3.8zM117.9 174.7h3.8v3.8h-3.8zM118.2 191h3.8v3.8h-3.8zM129.4 228.8h3.8v3.8h-3.8zM133.1 196.2h3.8v3.8h-3.8zM116 176.9h3.8v3.8h-3.8zM142.1 163h3.8v3.8h-3.8zM121.8 208.1h3.8v3.8h-3.8zM143.4 160h3.8v3.8h-3.8zM131.4 200.4h3.8v3.8h-3.8zM125.9 233.4h3.8v3.8h-3.8zM123.4 210.9h3.8v3.8h-3.8zM112.6 169.3h3.8v3.8h-3.8zM112 173.6h3.8v3.8h-3.8zM133.3 221h3.8v3.8h-3.8zM132.9 195.1h3.8v3.8h-3.8zM136.9 170.4h3.8v3.8h-3.8zM122.3 210h3.8v3.8h-3.8zM141.2 167.7h3.8v3.8h-3.8zM124.5 200.6h3.8v3.8h-3.8zM140.2 166.5h3.8v3.8h-3.8zM137.8 168.8h3.8v3.8h-3.8zM116.6 173.7h3.8v3.8h-3.8zM138.3 179.9h3.8v3.8h-3.8zM131.4 205.5h3.8v3.8h-3.8zM130.6 237.5h3.8v3.8h-3.8zM128.9 243.3h3.8v3.8h-3.8zM130.3 244.6h3.8v3.8h-3.8zM128.8 239.6h3.8v3.8h-3.8zM130.9 247h3.8v3.8h-3.8zM126.3 242.3h3.8v3.8h-3.8zM127.7 243.9h3.8v3.8h-3.8zM129.3 234.4h3.8v3.8h-3.8zM126.1 235.6h3.8v3.8h-3.8zM129.6 243.3h3.8v3.8h-3.8zM189.7 150h3.8v3.8h-3.8zM172.9 142.2h3.8v3.8h-3.8zM187.8 155.9h3.8v3.8h-3.8zM145 158.2h3.8v3.8h-3.8zM186.1 143.2h3.8v3.8h-3.8zM186.1 149.7h3.8v3.8h-3.8zM173.6 147.7h3.8v3.8h-3.8zM163.4 136.6h3.8v3.8h-3.8zM177.5 135.5h3.8v3.8h-3.8zM153.6 146.9h3.8v3.8h-3.8zM175.5 135.9h3.8v3.8h-3.8zM177 154.9h3.8v3.8h-3.8zM169.2 143.8h3.8v3.8h-3.8zM155.6 146.1h3.8v3.8h-3.8zM141.6 162h3.8v3.8h-3.8zM151.1 153.9h3.8v3.8h-3.8zM183.9 137.5h3.8v3.8h-3.8zM152.9 147.7h3.8v3.8h-3.8zM146.9 152.6h3.8v3.8h-3.8zM154.7 149.8h3.8v3.8h-3.8zM167.6 151.4h3.8v3.8h-3.8zM171.8 142.9h3.8v3.8h-3.8zM185.5 158.8h3.8v3.8h-3.8zM184.1 147.2h3.8v3.8h-3.8zM191.8 138.7h3.8v3.8h-3.8zM186.5 145.3h3.8v3.8h-3.8zM165 141.7h3.8v3.8h-3.8zM149.5 157.6h3.8v3.8h-3.8zM190.8 146.4h3.8v3.8h-3.8zM153.7 154h3.8v3.8h-3.8zM173.8 138.4h3.8v3.8h-3.8zM154.8 149.6h3.8v3.8h-3.8zM182.2 133.8h3.8v3.8h-3.8zM152.9 154.1h3.8v3.8h-3.8zM163.9 146.2h3.8v3.8h-3.8zM153.3 146h3.8v3.8h-3.8zM185.2 148.8h3.8v3.8h-3.8zM173.2 148.7h3.8v3.8h-3.8zM173.3 142.1h3.8v3.8h-3.8zM158.6 154h3.8v3.8h-3.8zM151.3 149.7h3.8v3.8h-3.8zM185.2 147.1h3.8v3.8h-3.8zM180.5 146.3h3.8v3.8h-3.8zM179.3 140.8h3.8v3.8h-3.8zM192.2 141.9h3.8v3.8h-3.8z" fill="#000"/>
<path d="M64.4 144 L64.9 144.1 L65.4 144.1 L65.9 144.2 L66.4 144.3 L66.9 144.3 L67.4 144.4 L67.9 144.5 L68.4 144.6 L68.9 144.6 L69.4 144.7 L69.9 144.8 L70.4 144.8 L70.9 144.9 L71.4 145 L71.9 145.1 L72.4 145.1 L72.9 145.2 L73.4 145.3 L73.9 145.4 L74.4 145.4 L74.9 145.5 L75.4 145.6 L75.9 145.7 L76.4 145.8 L76.9 145.8 L77.4 145.9 L77.9 146 L78.4 146.1 L78.9 146.2 L79.4 146.2 L79.9 146.3 L80.4 146.4 L80.9 146.5 L81.4 146.6 L81.9 146.6 L82.4 146.7 L82.9 146.8 L83.4 146.9 L83.9 147 L84.4 147.1 L84.9 147.2 L85.4 147.2 L85.9 147.3 L86.4 147.4 L86.9 147.5 L87.4 147.6 L87.9 147.6 L88.4 147.7 L88.9 147.8 L89.4 147.9 L89.9 148 L90.4 148 L90.9 148.1 L91.4 148.2 L91.9 148.3 L92.4 148.4 L92.9 148.5 L93.4 148.6 L93.9 148.7 L94.4 148.8 L94.9 148.9 L95.4 149 L95.9 149.1 L96.4 149.2 L96.9 149.3 L97.4 149.4 L97.9 149.5 L98.4 149.6 L98.9 149.7 L99.4 149.8 L99.9 150 L100.4 150.1 L100.9 150.2 L101.4 150.4 L101.9 150.5 L102.4 150.6 L102.9 150.8 L103.4 150.9 L103.9 151.1 L104.4 151.2 L104.9 151.4 L105.4 151.6 L105.9 151.8 L106.4 152.1 L106.9 152.3 L107.4 152.6 L107.9 152.9 L108.4 153.3 L108.9 154 L109.4 154.8 L109.9 155.7 L110.4 156.8 L110.9 157.9 L111.4 159.1 L111.9 160.3 L112.4 161.5 L112.9 162.6 L113.4 163.7 L113.9 164.7 L114.4 165.7 L114.9 166.8 L115.4 167.8 L115.9 168.9 L116.4 170.1 L116.9 171.3 L117.4 172.6 L117.9 174 L118.4 175.5 L118.9 177.1 L119.4 179 L119.9 181.2 L120.4 183.7 L120.9 186.3 L121.4 189.1 L121.9 192 L122.4 194.9 L122.9 197.9 L123.4 201.1 L123.9 204.5 L124.4 207.9 L124.9 211.3 L125.4 214.6 L125.9 217.9 L126.4 221.7 L126.9 225.9 L127.4 230.1 L127.9 233.9 L128.4 237.2 L128.9 239.5 L129.4 240.6 L129.9 240.1 L130.4 238.4 L130.9 235.6 L131.4 232 L131.9 228.1 L132.4 224 L132.9 220.1 L133.4 216.6 L133.9 213.4 L134.4 210.3 L134.9 207 L135.4 203.8 L135.9 200.6 L136.4 197.4 L136.9 194.3 L137.4 191.1 L137.9 187.8 L138.4 184.4 L138.9 181.2 L139.4 178.2 L139.9 175.5 L140.4 173.3 L140.9 171.3 L141.4 169.4 L141.9 167.7 L142.4 166.2 L142.9 164.8 L143.4 163.6 L143.9 162.6 L144.4 161.7 L144.9 160.9 L145.4 160.1 L145.9 159.4 L146.4 158.7 L146.9 158 L147.4 157.4 L147.9 156.9 L148.4 156.4 L148.9 155.9 L149.4 155.5 L149.9 155.1 L150.4 154.7 L150.9 154.4 L151.4 154 L151.9 153.7 L152.4 153.4 L152.9 153.1 L153.4 152.8 L153.9 152.5 L154.4 152.2 L154.9 152 L155.4 151.7 L155.9 151.5 L156.4 151.3 L156.9 151.1 L157.4 150.9 L157.9 150.7 L158.4 150.5 L158.9 150.3 L159.4 150.2 L159.9 150 L160.4 149.9 L160.9 149.7 L161.4 149.6 L161.9 149.5 L162.4 149.3 L162.9 149.2 L163.4 149.1 L163.9 148.9 L164.4 148.8 L164.9 148.7 L165.4 148.6 L165.9 148.5 L166.4 148.4 L166.9 148.2 L167.4 148.1 L167.9 148 L168.4 147.9 L168.9 147.8 L169.4 147.8 L169.9 147.7 L170.4 147.6 L170.9 147.5 L171.4 147.4 L171.9 147.4 L172.4 147.3 L172.9 147.2 L173.4 147.2 L173.9 147.1 L174.4 147.1 L174.9 147 L175.4 147 L175.9 146.9 L176.4 146.9 L176.9 146.8 L177.4 146.8 L177.9 146.7 L178.4 146.7 L178.9 146.7 L179.4 146.6 L179.9 146.6 L180.4 146.5 L180.9 146.5 L181.4 146.5 L181.9 146.4 L182.4 146.4 L182.9 146.3 L183.4 146.3 L183.9 146.3 L184.4 146.2 L184.9 146.2 L185.4 146.2 L185.9 146.2 L186.4 146.1 L186.9 146.1 L187.4 146.1 L187.9 146.1 L188.4 146.1 L188.9 146 L189.4 146 L189.9 146 L190.4 146 L190.9 146 L191.4 146 L191.9 146" fill="none" stroke="#000" stroke-width="1.5" stroke-linejoin="round"/>
<path d="M106.8 145.2a2.3 2.3 0 1 0 4.6 0a2.3 2.3 0 1 0 -4.6 0M127.8 149.2a2.3 2.3 0 1 0 4.6 0a2.3 2.3 0 1 0 -4.6 0M118.4 150.7a2.3 2.3 0 1 0 4.6 0a2.3 2.3 0 1 0 -4.6 0M132.6 159.6a2.3 2.3 0 1 0 4.6 0a2.3 2.3 0 1 0 -4.6 0M117.1 167.5a2.3 2.3 0 1 0 4.6 0a2.3 2.3 0 1 0 -4.6 0M128.7 153.6a2.3 2.3 0 1 0 4.6 0a2.3 2.3 0 1 0 -4.6 0M112 153.3a2.3 2.3 0 1 0 4.6 0a2.3 2.3 0 1 0 -4.6 0M119.7 146.2a2.3 2.3 0 1 0 4.6 0a2.3 2.3 0 1 0 -4.6 0M125.4 139.5a2.3 2.3 0 1 0 4.6 0a2.3 2.3 0 1 0 -4.6 0M87.9 149a2.3 2.3 0 1 0 4.6 0a2.3 2.3 0 1 0 -4.6 0M108.1 146.5a2.3 2.3 0 1 0 4.6 0a2.3 2.3 0 1 0 -4.6 0M114.1 148.2a2.3 2.3 0 1 0 4.6 0a2.3 2.3 0 1 0 -4.6 0M86.5 150.4a2.3 2.3 0 1 0 4.6 0a2.3 2.3 0 1 0 -4.6 0M123.8 144.8a2.3 2.3 0 1 0 4.6 0a2.3 2.3 0 1 0 -4.6 0M119.3 145.6a2.3 2.3 0 1 0 4.6 0a2.3 2.3 0 1 0 -4.6 0M130.4 153.4a2.3 2.3 0 1 0 4.6 0a2.3 2.3 0 1 0 -4.6 0M102.1 152.7a2.3 2.3 0 1 0 4.6 0a2.3 2.3 0 1 0 -4.6 0M106.2 148.2a2.3 2.3 0 1 0 4.6 0a2.3 2.3 0 1 0 -4.6 0M129.7 155.6a2.3 2.3 0 1 0 4.6 0a2.3 2.3 0 1 0 -4.6 0M103.7 150.7a2.3 2.3 0 1 0 4.6 0a2.3 2.3 0 1 0 -4.6 0M125.1 137.1a2.3 2.3 0 1 0 4.6 0a2.3 2.3 0 1 0 -4.6 0M104.4 152.2a2.3 2.3 0 1 0 4.6 0a2.3 2.3 0 1 0 -4.6 0M101 162.9a2.3 2.3 0 1 0 4.6 0a2.3 2.3 0 1 0 -4.6 0M97.5 148.1a2.3 2.3 0 1 0 4.6 0a2.3 2.3 0 1 0 -4.6 0M94.4 158.8a2.3 2.3 0 1 0 4.6 0a2.3 2.3 0 1 0 -4.6 0M104.4 160a2.3 2.3 0 1 0 4.6 0a2.3 2.3 0 1 0 -4.6 0M91.7 160.7a2.3 2.3 0 1 0 4.6 0a2.3 2.3 0 1 0 -4.6 0M124.4 147.2a2.3 2.3 0 1 0 4.6 0a2.3 2.3 0 1 0 -4.6 0M132.6 168.7a2.3 2.3 0 1 0 4.6 0a2.3 2.3 0 1 0 -4.6 0M88.8 152.7a2.3 2.3 0 1 0 4.6 0a2.3 2.3 0 1 0 -4.6 0M86.4 150.5a2.3 2.3 0 1 0 4.6 0a2.3 2.3 0 1 0 -4.6 0M84.9 150.7a2.3 2.3 0 1 0 4.6 0a2.3 2.3 0 1 0 -4.6 0M130.6 157.2a2.3 2.3 0 1 0 4.6 0a2.3 2.3 0 1 0 -4.6 0M87.7 152.3a2.3 2.3 0 1 0 4.6 0a2.3 2.3 0 1 0 -4.6 0M117.8 151a2.3 2.3 0 1 0 4.6 0a2.3 2.3 0 1 0 -4.6 0M98.8 159.4a2.3 2.3 0 1 0 4.6 0a2.3 2.3 0 1 0 -4.6 0M94.1 160.3a2.3 2.3 0 1 0 4.6 0a2.3 2.3 0 1 0 -4.6 0M96.6 145.9a2.3 2.3 0 1 0 4.6 0a2.3 2.3 0 1 0 -4.6 0M117.5 156.6a2.3 2.3 0 1 0 4.6 0a2.3 2.3 0 1 0 -4.6 0M85.1 156.1a2.3 2.3 0 1 0 4.6 0a2.3 2.3 0 1 0 -4.6 0M127.2 158.3a2.3 2.3 0 1 0 4.6 0a2.3 2.3 0 1 0 -4.6 0M112.6 145.8a2.3 2.3 0 1 0 4.6 0a2.3 2.3 0 1 0 -4.6 0M95.7 157.7a2.3 2.3 0 1 0 4.6 0a2.3 2.3 0 1 0 -4.6 0M93.5 154.8a2.3 2.3 0 1 0 4.6 0a2.3 2.3 0 1 0 -4.6 0M115.9 162.2a2.3 2.3 0 1 0 4.6 0a2.3 2.3 0 1 0 -4.6 0M116.1 144.8a2.3 2.3 0 1 0 4.6 0a2.3 2.3 0 1 0 -4.6 0M99.7 153.3a2.3 2.3 0 1 0 4.6 0a2.3 2.3 0 1 0 -4.6 0M99.7 150.4a2.3 2.3 0 1 0 4.6 0a2.3 2.3 0 1 0 -4.6 0M107 153.7a2.3 2.3 0 1 0 4.6 0a2.3 2.3 0 1 0 -4.6 0M129 141.6a2.3 2.3 0 1 0 4.6 0a2.3 2.3 0 1 0 -4.6 0M109.7 158.5a2.3 2.3 0 1 0 4.6 0a2.3 2.3 0 1 0 -4.6 0M124.6 149.3a2.3 2.3 0 1 0 4.6 0a2.3 2.3 0 1 0 -4.6 0M114.9 147.8a2.3 2.3 0 1 0 4.6 0a2.3 2.3 0 1 0 -4.6 0M111.9 157a2.3 2.3 0 1 0 4.6 0a2.3 2.3 0 1 0 -4.6 0M108.2 151.3a2.3 2.3 0 1 0 4.6 0a2.3 2.3 0 1 0 -4.6 0M117.6 157.7a2.3 2.3 0 1 0 4.6 0a2.3 2.3 0 1 0 -4.6 0M108.4 147.4a2.3 2.3 0 1 0 4.6 0a2.3 2.3 0 1 0 -4.6 0M120.3 151.7a2.3 2.3 0 1 0 4.6 0a2.3 2.3 0 1 0 -4.6 0M91.8 158a2.3 2.3 0 1 0 4.6 0a2.3 2.3 0 1 0 -4.6 0M99.7 148.2a2.3 2.3 0 1 0 4.6 0a2.3 2.3 0 1 0 -4.6 0M126.9 147.7a2.3 2.3 0 1 0 4.6 0a2.3 2.3 0 1 0 -4.6 0M102.8 156.8a2.3 2.3 0 1 0 4.6 0a2.3 2.3 0 1 0 -4.6 0M125.6 161.1a2.3 2.3 0 1 0 4.6 0a2.3 2.3 0 1 0 -4.6 0M130.5 147.4a2.3 2.3 0 1 0 4.6 0a2.3 2.3 0 1 0 -4.6 0M112.5 136.9a2.3 2.3 0 1 0 4.6 0a2.3 2.3 0 1 0 -4.6 0M88.1 143.6a2.3 2.3 0 1 0 4.6 0a2.3 2.3 0 1 0 -4.6 0M121.3 146.1a2.3 2.3 0 1 0 4.6 0a2.3 2.3 0 1 0 -4.6 0M118 151.2a2.3 2.3 0 1 0 4.6 0a2.3 2.3 0 1 0 -4.6 0M97.7 155.6a2.3 2.3 0 1 0 4.6 0a2.3 2.3 0 1 0 -4.6 0M126 151.2a2.3 2.3 0 1 0 4.6 0a2.3 2.3 0 1 0 -4.6 0M108 147.9a2.3 2.3 0 1 0 4.6 0a2.3 2.3 0 1 0 -4.6 0M86.8 138.2a2.3 2.3 0 1 0 4.6 0a2.3 2.3 0 1 0 -4.6 0M87.3 146.4a2.3 2.3 0 1 0 4.6 0a2.3 2.3 0 1 0 -4.6 0M94.6 151.7a2.3 2.3 0 1 0 4.6 0a2.3 2.3 0 1 0 -4.6 0M114.7 148.3a2.3 2.3 0 1 0 4.6 0a2.3 2.3 0 1 0 -4.6 0M124.1 174.9a2.3 2.3 0 1 0 4.6 0a2.3 2.3 0 1 0 -4.6 0M88.1 156.7a2.3 2.3 0 1 0 4.6 0a2.3 2.3 0 1 0 -4.6 0M84.5 147.2a2.3 2.3 0 1 0 4.6 0a2.3 2.3 0 1 0 -4.6 0M114.8 158.2a2.3 2.3 0 1 0 4.6 0a2.3 2.3 0 1 0 -4.6 0M104.5 149.5a2.3 2.3 0 1 0 4.6 0a2.3 2.3 0 1 0 -4.6 0M106.1 142.5a2.3 2.3 0 1 0 4.6 0a2.3 2.3 0 1 0 -4.6 0M124.7 147.8a2.3 2.3 0 1 0 4.6 0a2.3 2.3 0 1 0 -4.6 0M130.1 148.7a2.3 2.3 0 1 0 4.6 0a2.3 2.3 0 1 0 -4.6 0M132.1 161.5a2.3 2.3 0 1 0 4.6 0a2.3 2.3 0 1 0 -4.6 0M123.1 149.5a2.3 2.3 0 1 0 4.6 0a2.3 2.3 0 1 0 -4.6 0M83.2 147.4a2.3 2.3 0 1 0 4.6 0a2.3 2.3 0 1 0 -4.6 0M90.4 144.2a2.3 2.3 0 1 0 4.6 0a2.3 2.3 0 1 0 -4.6 0M113.5 145.2a2.3 2.3 0 1 0 4.6 0a2.3 2.3 0 1 0 -4.6 0M149.9 180a2.3 2.3 0 1 0 4.6 0a2.3 2.3 0 1 0 -4.6 0M144.3 186.3a2.3 2.3 0 1 0 4.6 0a2.3 2.3 0 1 0 -4.6 0M152.8 157.7a2.3 2.3 0 1 0 4.6 0a2.3 2.3 0 1 0 -4.6 0M154.7 182.6a2.3 2.3 0 1 0 4.6 0a2.3 2.3 0 1 0 -4.6 0M145.2 185.5a2.3 2.3 0 1 0 4.6 0a2.3 2.3 0 1 0 -4.6 0M163.1 151.8a2.3 2.3 0 1 0 4.6 0a2.3 2.3 0 1 0 -4.6 0M144.7 183.2a2.3 2.3 0 1 0 4.6 0a2.3 2.3 0 1 0 -4.6 0M152.5 171.5a2.3 2.3 0 1 0 4.6 0a2.3 2.3 0 1 0 -4.6 0M141.3 175.1a2.3 2.3 0 1 0 4.6 0a2.3 2.3 0 1 0 -4.6 0M154.2 170.1a2.3 2.3 0 1 0 4.6 0a2.3 2.3 0 1 0 -4.6 0M155.3 170.7a2.3 2.3 0 1 0 4.6 0a2.3 2.3 0 1 0 -4.6 0M155.1 166.3a2.3 2.3 0 1 0 4.6 0a2.3 2.3 0 1 0 -4.6 0M149.2 183a2.3 2.3 0 1 0 4.6 0a2.3 2.3 0 1 0 -4.6 0M140.4 170a2.3 2.3 0 1 0 4.6 0a2.3 2.3 0 1 0 -4.6 0M153.8 179.1a2.3 2.3 0 1 0 4.6 0a2.3 2.3 0 1 0 -4.6 0M157.8 159.6a2.3 2.3 0 1 0 4.6 0a2.3 2.3 0 1 0 -4.6 0M140.2 178.7a2.3 2.3 0 1 0 4.6 0a2.3 2.3 0 1 0 -4.6 0M132.9 162.3a2.3 2.3 0 1 0 4.6 0a2.3 2.3 0 1 0 -4.6 0M139.8 170.7a2.3 2.3 0 1 0 4.6 0a2.3 2.3 0 1 0 -4.6 0M155.2 156.7a2.3 2.3 0 1 0 4.6 0a2.3 2.3 0 1 0 -4.6 0M133.1 158.9a2.3 2.3 0 1 0 4.6 0a2.3 2.3 0 1 0 -4.6 0M133.3 161a2.3 2.3 0 1 0 4.6 0a2.3 2.3 0 1 0 -4.6 0M136.2 170a2.3 2.3 0 1 0 4.6 0a2.3 2.3 0 1 0 -4.6 0M156.4 159.7a2.3 2.3 0 1 0 4.6 0a2.3 2.3 0 1 0 -4.6 0M146.6 181.7a2.3 2.3 0 1 0 4.6 0a2.3 2.3 0 1 0 -4.6 0M151.7 169.3a2.3 2.3 0 1 0 4.6 0a2.3 2.3 0 1 0 -4.6 0M156.5 168.6a2.3 2.3 0 1 0 4.6 0a2.3 2.3 0 1 0 -4.6 0M146.3 187.4a2.3 2.3 0 1 0 4.6 0a2.3 2.3 0 1 0 -4.6 0M159.4 171.2a2.3 2.3 0 1 0 4.6 0a2.3 2.3 0 1 0 -4.6 0M150.1 186.5a2.3 2.3 0 1 0 4.6 0a2.3 2.3 0 1 0 -4.6 0M150.8 182.3a2.3 2.3 0 1 0 4.6 0a2.3 2.3 0 1 0 -4.6 0M141.2 177.6a2.3 2.3 0 1 0 4.6 0a2.3 2.3 0 1 0 -4.6 0M127.5 157a2.3 2.3 0 1 0 4.6 0a2.3 2.3 0 1 0 -4.6 0M150 181.6a2.3 2.3 0 1 0 4.6 0a2.3 2.3 0 1 0 -4.6 0M141.5 176.6a2.3 2.3 0 1 0 4.6 0a2.3 2.3 0 1 0 -4.6 0M145.6 181.8a2.3 2.3 0 1 0 4.6 0a2.3 2.3 0 1 0 -4.6 0M152.2 158.3a2.3 2.3 0 1 0 4.6 0a2.3 2.3 0 1 0 -4.6 0M148 181.4a2.3 2.3 0 1 0 4.6 0a2.3 2.3 0 1 0 -4.6 0M136.4 160.3a2.3 2.3 0 1 0 4.6 0a2.3 2.3 0 1 0 -4.6 0M152.4 175.7a2.3 2.3 0 1 0 4.6 0a2.3 2.3 0 1 0 -4.6 0M166.5 148.4a2.3 2.3 0 1 0 4.6 0a2.3 2.3 0 1 0 -4.6 0M148.4 180.8a2.3 2.3 0 1 0 4.6 0a2.3 2.3 0 1 0 -4.6 0M173.4 156.1a2.3 2.3 0 1 0 4.6 0a2.3 2.3 0 1 0 -4.6 0M162.4 153.3a2.3 2.3 0 1 0 4.6 0a2.3 2.3 0 1 0 -4.6 0M169.3 140.5a2.3 2.3 0 1 0 4.6 0a2.3 2.3 0 1 0 -4.6 0M155.4 158.4a2.3 2.3 0 1 0 4.6 0a2.3 2.3 0 1 0 -4.6 0M140.3 177.3a2.3 2.3 0 1 0 4.6 0a2.3 2.3 0 1 0 -4.6 0M137.8 169.2a2.3 2.3 0 1 0 4.6 0a2.3 2.3 0 1 0 -4.6 0M161.8 147a2.3 2.3 0 1 0 4.6 0a2.3 2.3 0 1 0 -4.6 0M154.2 170.6a2.3 2.3 0 1 0 4.6 0a2.3 2.3 0 1 0 -4.6 0M155.3 158.9a2.3 2.3 0 1 0 4.6 0a2.3 2.3 0 1 0 -4.6 0M149.2 174.1a2.3 2.3 0 1 0 4.6 0a2.3 2.3 0 1 0 -4.6 0M144.5 177.7a2.3 2.3 0 1 0 4.6 0a2.3 2.3 0 1 0 -4.6 0M155.7 158.6a2.3 2.3 0 1 0 4.6 0a2.3 2.3 0 1 0 -4.6 0M147.3 191.6a2.3 2.3 0 1 0 4.6 0a2.3 2.3 0 1 0 -4.6 0M171.5 158.5a2.3 2.3 0 1 0 4.6 0a2.3 2.3 0 1 0 -4.6 0M144.3 184.2a2.3 2.3 0 1 0 4.6 0a2.3 2.3 0 1 0 -4.6 0M175 151a2.3 2.3 0 1 0 4.6 0a2.3 2.3 0 1 0 -4.6 0M170.2 148a2.3 2.3 0 1 0 4.6 0a2.3 2.3 0 1 0 -4.6 0M152.2 165.5a2.3 2.3 0 1 0 4.6 0a2.3 2.3 0 1 0 -4.6 0M167.1 149.1a2.3 2.3 0 1 0 4.6 0a2.3 2.3 0 1 0 -4.6 0M159.8 144.4a2.3 2.3 0 1 0 4.6 0a2.3 2.3 0 1 0 -4.6 0M155.3 164.1a2.3 2.3 0 1 0 4.6 0a2.3 2.3 0 1 0 -4.6 0M169.1 153.4a2.3 2.3 0 1 0 4.6 0a2.3 2.3 0 1 0 -4.6 0M169.3 149.7a2.3 2.3 0 1 0 4.6 0a2.3 2.3 0 1 0 -4.6 0M145.4 186.9a2.3 2.3 0 1 0 4.6 0a2.3 2.3 0 1 0 -4.6 0M172.1 148.6a2.3 2.3 0 1 0 4.6 0a2.3 2.3 0 1 0 -4.6 0M138.4 163a2.3 2.3 0 1 0 4.6 0a2.3 2.3 0 1 0 -4.6 0M137.5 164.6a2.3 2.3 0 1 0 4.6 0a2.3 2.3 0 1 0 -4.6 0M155.6 163.5a2.3 2.3 0 1 0 4.6 0a2.3 2.3 0 1 0 -4.6 0M149.2 190.1a2.3 2.3 0 1 0 4.6 0a2.3 2.3 0 1 0 -4.6 0M153.4 162.4a2.3 2.3 0 1 0 4.6 0a2.3 2.3 0 1 0 -4.6 0M155.4 164.2a2.3 2.3 0 1 0 4.6 0a2.3 2.3 0 1 0 -4.6 0M155.6 157.6a2.3 2.3 0 1 0 4.6 0a2.3 2.3 0 1 0 -4.6 0M172.5 160.9a2.3 2.3 0 1 0 4.6 0a2.3 2.3 0 1 0 -4.6 0M171.7 156.3a2.3 2.3 0 1 0 4.6 0a2.3 2.3 0 1 0 -4.6 0M151.7 173.6a2.3 2.3 0 1 0 4.6 0a2.3 2.3 0 1 0 -4.6 0M148.6 190.5a2.3 2.3 0 1 0 4.6 0a2.3 2.3 0 1 0 -4.6 0M162.5 147.6a2.3 2.3 0 1 0 4.6 0a2.3 2.3 0 1 0 -4.6 0M145.8 179.7a2.3 2.3 0 1 0 4.6 0a2.3 2.3 0 1 0 -4.6 0M204.9 173.5a2.3 2.3 0 1 0 4.6 0a2.3 2.3 0 1 0 -4.6 0M181 190.5a2.3 2.3 0 1 0 4.6 0a2.3 2.3 0 1 0 -4.6 0M178.7 176.9a2.3 2.3 0 1 0 4.6 0a2.3 2.3 0 1 0 -4.6 0M199.8 186.8a2.3 2.3 0 1 0 4.6 0a2.3 2.3 0 1 0 -4.6 0M183.9 202.7a2.3 2.3 0 1 0 4.6 0a2.3 2.3 0 1 0 -4.6 0M181.5 169.5a2.3 2.3 0 1 0 4.6 0a2.3 2.3 0 1 0 -4.6 0M175.1 170.5a2.3 2.3 0 1 0 4.6 0a2.3 2.3 0 1 0 -4.6 0M197.8 216.2a2.3 2.3 0 1 0 4.6 0a2.3 2.3 0 1 0 -4.6 0M195.8 232.4a2.3 2.3 0 1 0 4.6 0a2.3 2.3 0 1 0 -4.6 0M196.8 198.1a2.3 2.3 0 1 0 4.6 0a2.3 2.3 0 1 0 -4.6 0M198.8 187a2.3 2.3 0 1 0 4.6 0a2.3 2.3 0 1 0 -4.6 0M174.7 152.4a2.3 2.3 0 1 0 4.6 0a2.3 2.3 0 1 0 -4.6 0M208.1 166.4a2.3 2.3 0 1 0 4.6 0a2.3 2.3 0 1 0 -4.6 0M200.8 176a2.3 2.3 0 1 0 4.6 0a2.3 2.3 0 1 0 -4.6 0M202.7 164.6a2.3 2.3 0 1 0 4.6 0a2.3 2.3 0 1 0 -4.6 0M200.8 194a2.3 2.3 0 1 0 4.6 0a2.3 2.3 0 1 0 -4.6 0M190.6 221.2a2.3 2.3 0 1 0 4.6 0a2.3 2.3 0 1 0 -4.6 0M183.7 200a2.3 2.3 0 1 0 4.6 0a2.3 2.3 0 1 0 -4.6 0M200.2 166.7a2.3 2.3 0 1 0 4.6 0a2.3 2.3 0 1 0 -4.6 0M191.5 228.8a2.3 2.3 0 1 0 4.6 0a2.3 2.3 0 1 0 -4.6 0M191.1 244.5a2.3 2.3 0 1 0 4.6 0a2.3 2.3 0 1 0 -4.6 0M199.8 207.3a2.3 2.3 0 1 0 4.6 0a2.3 2.3 0 1 0 -4.6 0M197.7 209.8a2.3 2.3 0 1 0 4.6 0a2.3 2.3 0 1 0 -4.6 0M197.2 207.9a2.3 2.3 0 1 0 4.6 0a2.3 2.3 0 1 0 -4.6 0M196.1 218.6a2.3 2.3 0 1 0 4.6 0a2.3 2.3 0 1 0 -4.6 0M195.9 240.9a2.3 2.3 0 1 0 4.6 0a2.3 2.3 0 1 0 -4.6 0M201.5 195.6a2.3 2.3 0 1 0 4.6 0a2.3 2.3 0 1 0 -4.6 0M184.7 223.2a2.3 2.3 0 1 0 4.6 0a2.3 2.3 0 1 0 -4.6 0M183.1 201.8a2.3 2.3 0 1 0 4.6 0a2.3 2.3 0 1 0 -4.6 0M206.8 172a2.3 2.3 0 1 0 4.6 0a2.3 2.3 0 1 0 -4.6 0M200.4 182.7a2.3 2.3 0 1 0 4.6 0a2.3 2.3 0 1 0 -4.6 0M195.9 201a2.3 2.3 0 1 0 4.6 0a2.3 2.3 0 1 0 -4.6 0M181.8 182.9a2.3 2.3 0 1 0 4.6 0a2.3 2.3 0 1 0 -4.6 0M177 160.3a2.3 2.3 0 1 0 4.6 0a2.3 2.3 0 1 0 -4.6 0M204.5 169.4a2.3 2.3 0 1 0 4.6 0a2.3 2.3 0 1 0 -4.6 0M205.3 165.3a2.3 2.3 0 1 0 4.6 0a2.3 2.3 0 1 0 -4.6 0M184.4 204.2a2.3 2.3 0 1 0 4.6 0a2.3 2.3 0 1 0 -4.6 0M196.2 218.1a2.3 2.3 0 1 0 4.6 0a2.3 2.3 0 1 0 -4.6 0M175.9 156.5a2.3 2.3 0 1 0 4.6 0a2.3 2.3 0 1 0 -4.6 0M186.9 224.7a2.3 2.3 0 1 0 4.6 0a2.3 2.3 0 1 0 -4.6 0M197.5 206.4a2.3 2.3 0 1 0 4.6 0a2.3 2.3 0 1 0 -4.6 0M187.1 217.4a2.3 2.3 0 1 0 4.6 0a2.3 2.3 0 1 0 -4.6 0M202.2 188a2.3 2.3 0 1 0 4.6 0a2.3 2.3 0 1 0 -4.6 0M204.7 170.3a2.3 2.3 0 1 0 4.6 0a2.3 2.3 0 1 0 -4.6 0M180.5 179.5a2.3 2.3 0 1 0 4.6 0a2.3 2.3 0 1 0 -4.6 0M198.7 207.3a2.3 2.3 0 1 0 4.6 0a2.3 2.3 0 1 0 -4.6 0M188.5 217.9a2.3 2.3 0 1 0 4.6 0a2.3 2.3 0 1 0 -4.6 0M183.9 185.2a2.3 2.3 0 1 0 4.6 0a2.3 2.3 0 1 0 -4.6 0M187.8 217a2.3 2.3 0 1 0 4.6 0a2.3 2.3 0 1 0 -4.6 0M194.2 239.7a2.3 2.3 0 1 0 4.6 0a2.3 2.3 0 1 0 -4.6 0M205.4 171.4a2.3 2.3 0 1 0 4.6 0a2.3 2.3 0 1 0 -4.6 0M199 194a2.3 2.3 0 1 0 4.6 0a2.3 2.3 0 1 0 -4.6 0M173.5 157.7a2.3 2.3 0 1 0 4.6 0a2.3 2.3 0 1 0 -4.6 0M179.2 164.8a2.3 2.3 0 1 0 4.6 0a2.3 2.3 0 1 0 -4.6 0M212.7 157.4a2.3 2.3 0 1 0 4.6 0a2.3 2.3 0 1 0 -4.6 0M195 230.9a2.3 2.3 0 1 0 4.6 0a2.3 2.3 0 1 0 -4.6 0M194.1 222a2.3 2.3 0 1 0 4.6 0a2.3 2.3 0 1 0 -4.6 0M184 217.6a2.3 2.3 0 1 0 4.6 0a2.3 2.3 0 1 0 -4.6 0M201.2 181.7a2.3 2.3 0 1 0 4.6 0a2.3 2.3 0 1 0 -4.6 0M196.5 230.3a2.3 2.3 0 1 0 4.6 0a2.3 2.3 0 1 0 -4.6 0M197.5 225.6a2.3 2.3 0 1 0 4.6 0a2.3 2.3 0 1 0 -4.6 0M182.1 201a2.3 2.3 0 1 0 4.6 0a2.3 2.3 0 1 0 -4.6 0M201 193.5a2.3 2.3 0 1 0 4.6 0a2.3 2.3 0 1 0 -4.6 0M182.4 195.2a2.3 2.3 0 1 0 4.6 0a2.3 2.3 0 1 0 -4.6 0M181.4 178.9a2.3 2.3 0 1 0 4.6 0a2.3 2.3 0 1 0 -4.6 0M197 220.4a2.3 2.3 0 1 0 4.6 0a2.3 2.3 0 1 0 -4.6 0M199.2 180.9a2.3 2.3 0 1 0 4.6 0a2.3 2.3 0 1 0 -4.6 0M184.5 205.7a2.3 2.3 0 1 0 4.6 0a2.3 2.3 0 1 0 -4.6 0M182.2 210.8a2.3 2.3 0 1 0 4.6 0a2.3 2.3 0 1 0 -4.6 0M179.6 186.7a2.3 2.3 0 1 0 4.6 0a2.3 2.3 0 1 0 -4.6 0M193.3 225.5a2.3 2.3 0 1 0 4.6 0a2.3 2.3 0 1 0 -4.6 0M199.9 195.5a2.3 2.3 0 1 0 4.6 0a2.3 2.3 0 1 0 -4.6 0M180.4 177a2.3 2.3 0 1 0 4.6 0a2.3 2.3 0 1 0 -4.6 0M196.1 236a2.3 2.3 0 1 0 4.6 0a2.3 2.3 0 1 0 -4.6 0M195.3 235.7a2.3 2.3 0 1 0 4.6 0a2.3 2.3 0 1 0 -4.6 0M178.6 174.9a2.3 2.3 0 1 0 4.6 0a2.3 2.3 0 1 0 -4.6 0M195 238a2.3 2.3 0 1 0 4.6 0a2.3 2.3 0 1 0 -4.6 0M184.3 203.8a2.3 2.3 0 1 0 4.6 0a2.3 2.3 0 1 0 -4.6 0M183.8 190.3a2.3 2.3 0 1 0 4.6 0a2.3 2.3 0 1 0 -4.6 0M211.2 156.8a2.3 2.3 0 1 0 4.6 0a2.3 2.3 0 1 0 -4.6 0M192 243.3a2.3 2.3 0 1 0 4.6 0a2.3 2.3 0 1 0 -4.6 0M191 244.9a2.3 2.3 0 1 0 4.6 0a2.3 2.3 0 1 0 -4.6 0M194 235.9a2.3 2.3 0 1 0 4.6 0a2.3 2.3 0 1 0 -4.6 0M190.2 246a2.3 2.3 0 1 0 4.6 0a2.3 2.3 0 1 0 -4.6 0M194.1 234.2a2.3 2.3 0 1 0 4.6 0a2.3 2.3 0 1 0 -4.6 0M191.4 241.4a2.3 2.3 0 1 0 4.6 0a2.3 2.3 0 1 0 -4.6 0M192 237.2a2.3 2.3 0 1 0 4.6 0a2.3 2.3 0 1 0 -4.6 0M189.4 237a2.3 2.3 0 1 0 4.6 0a2.3 2.3 0 1 0 -4.6 0M189.5 239.9a2.3 2.3 0 1 0 4.6 0a2.3 2.3 0 1 0 -4.6 0M195.5 241.3a2.3 2.3 0 1 0 4.6 0a2.3 2.3 0 1 0 -4.6 0M192.9 239.2a2.3 2.3 0 1 0 4.6 0a2.3 2.3 0 1 0 -4.6 0M191.5 242.6a2.3 2.3 0 1 0 4.6 0a2.3 2.3 0 1 0 -4.6 0M249.3 139.5a2.3 2.3 0 1 0 4.6 0a2.3 2.3 0 1 0 -4.6 0M216.7 156.3a2.3 2.3 0 1 0 4.6 0a2.3 2.3 0 1 0 -4.6 0M220 156.2a2.3 2.3 0 1 0 4.6 0a2.3 2.3 0 1 0 -4.6 0M234.9 146.4a2.3 2.3 0 1 0 4.6 0a2.3 2.3 0 1 0 -4.6 0M227.4 155.7a2.3 2.3 0 1 0 4.6 0a2.3 2.3 0 1 0 -4.6 0M222.5 149.4a2.3 2.3 0 1 0 4.6 0a2.3 2.3 0 1 0 -4.6 0M230 147.4a2.3 2.3 0 1 0 4.6 0a2.3 2.3 0 1 0 -4.6 0M238.5 161.4a2.3 2.3 0 1 0 4.6 0a2.3 2.3 0 1 0 -4.6 0M247 147.7a2.3 2.3 0 1 0 4.6 0a2.3 2.3 0 1 0 -4.6 0M248.5 157.7a2.3 2.3 0 1 0 4.6 0a2.3 2.3 0 1 0 -4.6 0M244.7 143.5a2.3 2.3 0 1 0 4.6 0a2.3 2.3 0 1 0 -4.6 0M224.2 157.4a2.3 2.3 0 1 0 4.6 0a2.3 2.3 0 1 0 -4.6 0M246.9 156a2.3 2.3 0 1 0 4.6 0a2.3 2.3 0 1 0 -4.6 0M240.1 141.7a2.3 2.3 0 1 0 4.6 0a2.3 2.3 0 1 0 -4.6 0M217.7 146a2.3 2.3 0 1 0 4.6 0a2.3 2.3 0 1 0 -4.6 0M249.5 153.8a2.3 2.3 0 1 0 4.6 0a2.3 2.3 0 1 0 -4.6 0M220.8 151.5a2.3 2.3 0 1 0 4.6 0a2.3 2.3 0 1 0 -4.6 0M238.5 153.6a2.3 2.3 0 1 0 4.6 0a2.3 2.3 0 1 0 -4.6 0M238.9 157.3a2.3 2.3 0 1 0 4.6 0a2.3 2.3 0 1 0 -4.6 0M248.1 149.2a2.3 2.3 0 1 0 4.6 0a2.3 2.3 0 1 0 -4.6 0M237 146.4a2.3 2.3 0 1 0 4.6 0a2.3 2.3 0 1 0 -4.6 0M250.6 137.4a2.3 2.3 0 1 0 4.6 0a2.3 2.3 0 1 0 -4.6 0M212.2 157.9a2.3 2.3 0 1 0 4.6 0a2.3 2.3 0 1 0 -4.6 0M211.6 134.1a2.3 2.3 0 1 0 4.6 0a2.3 2.3 0 1 0 -4.6 0M217.7 156a2.3 2.3 0 1 0 4.6 0a2.3 2.3 0 1 0 -4.6 0M233.8 153a2.3 2.3 0 1 0 4.6 0a2.3 2.3 0 1 0 -4.6 0M228 145.9a2.3 2.3 0 1 0 4.6 0a2.3 2.3 0 1 0 -4.6 0M213.9 164.9a2.3 2.3 0 1 0 4.6 0a2.3 2.3 0 1 0 -4.6 0M218.6 159.8a2.3 2.3 0 1 0 4.6 0a2.3 2.3 0 1 0 -4.6 0M234.7 156.3a2.3 2.3 0 1 0 4.6 0a2.3 2.3 0 1 0 -4.6 0M226.4 147a2.3 2.3 0 1 0 4.6 0a2.3 2.3 0 1 0 -4.6 0M241.6 149.4a2.3 2.3 0 1 0 4.6 0a2.3 2.3 0 1 0 -4.6 0M229.5 149.9a2.3 2.3 0 1 0 4.6 0a2.3 2.3 0 1 0 -4.6 0M246.4 149a2.3 2.3 0 1 0 4.6 0a2.3 2.3 0 1 0 -4.6 0M241.3 145.8a2.3 2.3 0 1 0 4.6 0a2.3 2.3 0 1 0 -4.6 0M231.3 154.6a2.3 2.3 0 1 0 4.6 0a2.3 2.3 0 1 0 -4.6 0M224.6 154.3a2.3 2.3 0 1 0 4.6 0a2.3 2.3 0 1 0 -4.6 0M218.2 156.1a2.3 2.3 0 1 0 4.6 0a2.3 2.3 0 1 0 -4.6 0M222.2 151.1a2.3 2.3 0 1 0 4.6 0a2.3 2.3 0 1 0 -4.6 0M225.5 159.6a2.3 2.3 0 1 0 4.6 0a2.3 2.3 0 1 0 -4.6 0M224.9 154.1a2.3 2.3 0 1 0 4.6 0a2.3 2.3 0 1 0 -4.6 0M217.8 154.1a2.3 2.3 0 1 0 4.6 0a2.3 2.3 0 1 0 -4.6 0M229.4 172.5a2.3 2.3 0 1 0 4.6 0a2.3 2.3 0 1 0 -4.6 0M214.2 155.3a2.3 2.3 0 1 0 4.6 0a2.3 2.3 0 1 0 -4.6 0M245.8 156a2.3 2.3 0 1 0 4.6 0a2.3 2.3 0 1 0 -4.6 0M232.7 163.9a2.3 2.3 0 1 0 4.6 0a2.3 2.3 0 1 0 -4.6 0M214.6 162.2a2.3 2.3 0 1 0 4.6 0a2.3 2.3 0 1 0 -4.6 0M222.9 150.6a2.3 2.3 0 1 0 4.6 0a2.3 2.3 0 1 0 -4.6 0M221.2 157.2a2.3 2.3 0 1 0 4.6 0a2.3 2.3 0 1 0 -4.6 0M215.8 152.7a2.3 2.3 0 1 0 4.6 0a2.3 2.3 0 1 0 -4.6 0" fill="#b71c1f"/>
<path d="M86 152 L86.5 152 L87 152 L87.5 152 L88 152 L88.5 152 L89 152 L89.5 152 L90 152 L90.5 152 L91 152 L91.5 152 L92 152 L92.5 152 L93 152 L93.5 152 L94 152 L94.5 152 L95 152 L95.5 152 L96 152 L96.5 152 L97 152 L97.5 152 L98 152 L98.5 152 L99 152 L99.5 152 L100 152 L100.5 152 L101 152 L101.5 152 L102 152 L102.5 152 L103 152 L103.5 152 L104 152 L104.5 152 L105 152 L105.5 152 L106 152 L106.5 152 L107 152 L107.5 152 L108 152 L108.5 152 L109 152 L109.5 152 L110 152 L110.5 152 L111 152 L111.5 152 L112 152 L112.5 152 L113 152 L113.5 152 L114 152 L114.5 152 L115 152 L115.5 152 L116 152 L116.5 152 L117 152 L117.5 152 L118 152 L118.5 152 L119 152 L119.5 152 L120 152 L120.5 152 L121 152 L121.5 152 L122 152 L122.5 152 L123 152 L123.5 152 L124 152 L124.5 152 L125 152 L125.5 152 L126 152 L126.5 152 L127 152 L127.5 152 L128 152 L128.5 152 L129 152 L129.5 152 L130 152 L130.5 152.1 L131 152.3 L131.5 152.6 L132 153.1 L132.5 153.6 L133 154.2 L133.5 155 L134 155.7 L134.5 156.6 L135 157.5 L135.5 158.4 L136 159.3 L136.5 160.3 L137 161.2 L137.5 162.1 L138 163 L138.5 163.9 L139 165 L139.5 166.1 L140 167.2 L140.5 168.5 L141 169.7 L141.5 171 L142 172.2 L142.5 173.5 L143 174.7 L143.5 175.9 L144 177 L144.5 178.1 L145 179.2 L145.5 180.4 L146 181.5 L146.5 182.6 L147 183.5 L147.5 184.3 L148 185 L148.5 185.6 L149 186.1 L149.5 186.6 L150 186.9 L150.5 187 L151 186.4 L151.5 184.7 L152 182.4 L152.5 179.6 L153 176.7 L153.5 174.1 L154 172 L154.5 170.2 L155 168.5 L155.5 166.7 L156 164.9 L156.5 163.2 L157 161.6 L157.5 160.1 L158 158.7 L158.5 157.4 L159 156.4 L159.5 155.6 L160 155 L160.5 154.6 L161 154.1 L161.5 153.7 L162 153.3 L162.5 152.9 L163 152.6 L163.5 152.3 L164 151.9 L164.5 151.6 L165 151.4 L165.5 151.1 L166 150.9 L166.5 150.7 L167 150.5 L167.5 150.4 L168 150.2 L168.5 150.1 L169 150.1 L169.5 150 L170 150 L170.5 150 L171 150.2 L171.5 150.4 L172 150.7 L172.5 151.1 L173 151.6 L173.5 152.1 L174 152.7 L174.5 153.4 L175 154.1 L175.5 154.8 L176 155.6 L176.5 156.5 L177 157.4 L177.5 158.3 L178 159.2 L178.5 160.2 L179 161.4 L179.5 163 L180 164.8 L180.5 166.8 L181 169.1 L181.5 171.5 L182 173.9 L182.5 176.5 L183 179 L183.5 181.5 L184 184 L184.5 186.7 L185 189.5 L185.5 192.3 L186 195.3 L186.5 198.3 L187 201.4 L187.5 204.6 L188 208.1 L188.5 211.6 L189 214.9 L189.5 218 L190 220.9 L190.5 224 L191 227.2 L191.5 230.3 L192 233.3 L192.5 236.1 L193 238.5 L193.5 240.4 L194 241.8 L194.5 242.5 L195 242.5 L195.5 241.6 L196 240.1 L196.5 238 L197 235.4 L197.5 232.4 L198 229.1 L198.5 225.6 L199 222 L199.5 216.9 L200 210.1 L200.5 203.5 L201 198.5 L201.5 193.9 L202 189.7 L202.5 185.9 L203 182.6 L203.5 180 L204 177.7 L204.5 175.6 L205 173.6 L205.5 171.8 L206 170.2 L206.5 168.7 L207 167.4 L207.5 166.2 L208 165.1 L208.5 164.1 L209 163.2 L209.5 162.3 L210 161.5 L210.5 160.8 L211 160.1 L211.5 159.5 L212 159 L212.5 158.5 L213 158.1 L213.5 157.7 L214 157.3 L214.5 156.9 L215 156.5 L215.5 156.2 L216 155.9 L216.5 155.7 L217 155.4 L217.5 155.2 L218 155.1 L218.5 154.9 L219 154.8 L219.5 154.6 L220 154.5 L220.5 154.4 L221 154.3 L221.5 154.1 L222 154 L222.5 153.9 L223 153.8 L223.5 153.7 L224 153.6 L224.5 153.6 L225 153.5 L225.5 153.4 L226 153.3 L226.5 153.2 L227 153.2 L227.5 153.1 L228 153 L228.5 153 L229 152.9 L229.5 152.8 L230 152.8 L230.5 152.7 L231 152.7 L231.5 152.6 L232 152.6 L232.5 152.5 L233 152.4 L233.5 152.4 L234 152.3 L234.5 152.3 L235 152.2 L235.5 152.2 L236 152.1 L236.5 152.1 L237 152 L237.5 152 L238 151.9 L238.5 151.9 L239 151.8 L239.5 151.8 L240 151.7 L240.5 151.7 L241 151.6 L241.5 151.6 L242 151.6 L242.5 151.5 L243 151.5 L243.5 151.4 L244 151.4 L244.5 151.4 L245 151.3 L245.5 151.3 L246 151.3 L246.5 151.2 L247 151.2 L247.5 151.2 L248 151.1 L248.5 151.1 L249 151.1 L249.5 151.1 L250 151.1 L250.5 151 L251 151 L251.5 151 L252 151 L252.5 151 L253 151" fill="none" stroke="#b81c1c" stroke-width="1.8" stroke-linejoin="round"/></g>
<g clip-path="url(#cc)"><rect x="129.3" y="257.5" width="1.4" height="125.3" fill="#7d8286"/>
<path d="M99.1 283.1h3.8v3.8h-3.8zM76.7 285.7h3.8v3.8h-3.8zM70.1 273.7h3.8v3.8h-3.8zM73.5 284.5h3.8v3.8h-3.8zM72.5 274.3h3.8v3.8h-3.8zM69.1 281.6h3.8v3.8h-3.8zM76.7 272.4h3.8v3.8h-3.8zM71.9 299.9h3.8v3.8h-3.8zM83.4 281h3.8v3.8h-3.8zM97.7 283.2h3.8v3.8h-3.8zM99.8 279.9h3.8v3.8h-3.8zM68.8 285h3.8v3.8h-3.8zM84.4 271.4h3.8v3.8h-3.8zM89.2 295.1h3.8v3.8h-3.8zM68.8 290.1h3.8v3.8h-3.8zM83.5 279.1h3.8v3.8h-3.8zM70.8 280.3h3.8v3.8h-3.8zM76.8 283.5h3.8v3.8h-3.8zM75.4 276.8h3.8v3.8h-3.8zM94.1 281.7h3.8v3.8h-3.8zM71.9 284.6h3.8v3.8h-3.8zM83.5 282.2h3.8v3.8h-3.8zM85.5 282.5h3.8v3.8h-3.8zM75.6 278.8h3.8v3.8h-3.8zM99.4 283.9h3.8v3.8h-3.8zM74.9 280.7h3.8v3.8h-3.8zM74.7 287h3.8v3.8h-3.8zM89.8 284.4h3.8v3.8h-3.8zM82.1 279.6h3.8v3.8h-3.8zM91.4 270.2h3.8v3.8h-3.8zM69.1 283.4h3.8v3.8h-3.8zM69.1 283.6h3.8v3.8h-3.8zM91.9 277.2h3.8v3.8h-3.8zM136.4 327.3h3.8v3.8h-3.8zM118.4 332.4h3.8v3.8h-3.8zM146.4 295.1h3.8v3.8h-3.8zM114.4 310.5h3.8v3.8h-3.8zM129.6 368.5h3.8v3.8h-3.8zM128.9 369.1h3.8v3.8h-3.8zM127.5 367.3h3.8v3.8h-3.8zM138.5 325.4h3.8v3.8h-3.8zM106.3 292.6h3.8v3.8h-3.8zM130 364h3.8v3.8h-3.8zM135.2 321.3h3.8v3.8h-3.8zM107.7 289.6h3.8v3.8h-3.8zM131.2 365.5h3.8v3.8h-3.8zM123.3 358.6h3.8v3.8h-3.8zM124.6 351.4h3.8v3.8h-3.8zM126.4 366.5h3.8v3.8h-3.8zM130.1 354.3h3.8v3.8h-3.8zM133 338.9h3.8v3.8h-3.8zM140.9 301.8h3.8v3.8h-3.8zM133.8 345.8h3.8v3.8h-3.8zM147.9 287.5h3.8v3.8h-3.8zM133.9 345.5h3.8v3.8h-3.8zM119.6 327.7h3.8v3.8h-3.8zM112.8 306.2h3.8v3.8h-3.8zM106.7 294.6h3.8v3.8h-3.8zM116.6 325.2h3.8v3.8h-3.8zM114.9 302.5h3.8v3.8h-3.8zM131 340.1h3.8v3.8h-3.8zM134.4 340.8h3.8v3.8h-3.8zM134.7 352.1h3.8v3.8h-3.8zM122.9 347.1h3.8v3.8h-3.8zM123.8 360.4h3.8v3.8h-3.8zM118.2 324.8h3.8v3.8h-3.8zM144.1 301.6h3.8v3.8h-3.8zM105.9 285.3h3.8v3.8h-3.8zM118.8 337.6h3.8v3.8h-3.8zM132.2 358.7h3.8v3.8h-3.8zM115.7 312.9h3.8v3.8h-3.8zM141.1 308.8h3.8v3.8h-3.8zM127.7 364h3.8v3.8h-3.8zM121.3 344.9h3.8v3.8h-3.8zM105.9 294.1h3.8v3.8h-3.8zM119.5 330.4h3.8v3.8h-3.8zM134.4 357.2h3.8v3.8h-3.8zM119.9 331.4h3.8v3.8h-3.8zM107.2 290.6h3.8v3.8h-3.8zM135 360h3.8v3.8h-3.8zM118.1 335.2h3.8v3.8h-3.8zM140.5 312.6h3.8v3.8h-3.8zM133.9 339.2h3.8v3.8h-3.8zM135.6 335h3.8v3.8h-3.8zM141.3 304.6h3.8v3.8h-3.8zM140.2 319.6h3.8v3.8h-3.8zM119.1 340.1h3.8v3.8h-3.8zM130.1 362.3h3.8v3.8h-3.8zM115.8 325.7h3.8v3.8h-3.8zM116.9 314.4h3.8v3.8h-3.8zM115.7 317h3.8v3.8h-3.8zM111.8 301h3.8v3.8h-3.8zM115.9 324.5h3.8v3.8h-3.8zM116.5 319.7h3.8v3.8h-3.8zM135.8 342.7h3.8v3.8h-3.8zM117.7 326.1h3.8v3.8h-3.8zM107.9 289.9h3.8v3.8h-3.8zM124.2 354.3h3.8v3.8h-3.8zM115.6 318.8h3.8v3.8h-3.8zM132.3 342.3h3.8v3.8h-3.8zM118.4 320.7h3.8v3.8h-3.8zM130.6 363.5h3.8v3.8h-3.8zM116.6 310.5h3.8v3.8h-3.8zM122.7 365.8h3.8v3.8h-3.8zM137.5 309.2h3.8v3.8h-3.8zM116.4 334.3h3.8v3.8h-3.8zM127.6 367.3h3.8v3.8h-3.8zM125.6 357.4h3.8v3.8h-3.8zM109.4 294.1h3.8v3.8h-3.8zM104.6 291.1h3.8v3.8h-3.8zM139.2 315.5h3.8v3.8h-3.8zM122 340.9h3.8v3.8h-3.8zM134.1 338.2h3.8v3.8h-3.8zM123.7 351.5h3.8v3.8h-3.8zM139 311.7h3.8v3.8h-3.8zM112.7 314h3.8v3.8h-3.8zM125.2 366.1h3.8v3.8h-3.8zM132 365.1h3.8v3.8h-3.8zM136.9 321h3.8v3.8h-3.8zM105.3 288.3h3.8v3.8h-3.8zM120.7 343.1h3.8v3.8h-3.8zM124.7 361.6h3.8v3.8h-3.8zM133.4 355.5h3.8v3.8h-3.8zM112.8 304.9h3.8v3.8h-3.8zM128.2 367.5h3.8v3.8h-3.8zM130.1 337.4h3.8v3.8h-3.8zM135 334.3h3.8v3.8h-3.8zM114.1 322.2h3.8v3.8h-3.8zM121.4 357.6h3.8v3.8h-3.8zM120.6 333h3.8v3.8h-3.8zM123.4 347.7h3.8v3.8h-3.8zM118.7 344.3h3.8v3.8h-3.8zM145.6 297.1h3.8v3.8h-3.8zM104.5 285.7h3.8v3.8h-3.8zM143.3 297.1h3.8v3.8h-3.8zM107 290.2h3.8v3.8h-3.8zM106.6 296.2h3.8v3.8h-3.8zM114.6 317.6h3.8v3.8h-3.8zM116.9 331h3.8v3.8h-3.8zM137.9 311.3h3.8v3.8h-3.8zM140.2 311.9h3.8v3.8h-3.8zM141.8 298.5h3.8v3.8h-3.8zM120.7 349.3h3.8v3.8h-3.8zM102.7 284.7h3.8v3.8h-3.8zM133.2 354.4h3.8v3.8h-3.8zM141.2 302.3h3.8v3.8h-3.8zM112.2 299.3h3.8v3.8h-3.8zM137.4 316.3h3.8v3.8h-3.8zM132.6 373.6h3.8v3.8h-3.8zM126.8 372.4h3.8v3.8h-3.8zM131 364.5h3.8v3.8h-3.8zM125.1 369.7h3.8v3.8h-3.8zM129.7 373.4h3.8v3.8h-3.8zM132.9 365.2h3.8v3.8h-3.8zM132.4 372h3.8v3.8h-3.8zM126.5 371.3h3.8v3.8h-3.8zM127.9 372.5h3.8v3.8h-3.8zM128.5 361.3h3.8v3.8h-3.8zM126.2 373h3.8v3.8h-3.8zM127.9 373.8h3.8v3.8h-3.8zM157.3 282.3h3.8v3.8h-3.8zM174.2 274h3.8v3.8h-3.8zM150.8 286.6h3.8v3.8h-3.8zM174 268.7h3.8v3.8h-3.8zM178.9 276.1h3.8v3.8h-3.8zM181 279.6h3.8v3.8h-3.8zM185.4 280.1h3.8v3.8h-3.8zM159.5 276.9h3.8v3.8h-3.8zM151.8 288.2h3.8v3.8h-3.8zM183.9 285.4h3.8v3.8h-3.8zM147.1 286.2h3.8v3.8h-3.8zM156.8 284.6h3.8v3.8h-3.8zM156.7 274.2h3.8v3.8h-3.8zM182.1 268.3h3.8v3.8h-3.8zM166.9 281.5h3.8v3.8h-3.8zM184.6 277.2h3.8v3.8h-3.8zM177.7 278.4h3.8v3.8h-3.8zM184.1 274.4h3.8v3.8h-3.8zM182.1 275.8h3.8v3.8h-3.8zM187.4 280.6h3.8v3.8h-3.8zM158.6 288.4h3.8v3.8h-3.8zM161.6 278.7h3.8v3.8h-3.8zM175.7 270.3h3.8v3.8h-3.8zM173.2 292h3.8v3.8h-3.8zM181.3 279.9h3.8v3.8h-3.8zM183.7 280.1h3.8v3.8h-3.8zM159.6 281.1h3.8v3.8h-3.8zM151 289.8h3.8v3.8h-3.8zM180.1 277.6h3.8v3.8h-3.8zM177.4 279.8h3.8v3.8h-3.8z" fill="#000"/>
<path d="M64.4 282 L64.9 282 L65.4 282 L65.9 282 L66.4 282 L66.9 282 L67.4 282 L67.9 282 L68.4 282 L68.9 282 L69.4 282.1 L69.9 282.1 L70.4 282.1 L70.9 282.1 L71.4 282.1 L71.9 282.1 L72.4 282.1 L72.9 282.1 L73.4 282.2 L73.9 282.2 L74.4 282.2 L74.9 282.2 L75.4 282.2 L75.9 282.2 L76.4 282.3 L76.9 282.3 L77.4 282.3 L77.9 282.3 L78.4 282.3 L78.9 282.4 L79.4 282.4 L79.9 282.4 L80.4 282.4 L80.9 282.5 L81.4 282.5 L81.9 282.5 L82.4 282.5 L82.9 282.5 L83.4 282.6 L83.9 282.6 L84.4 282.6 L84.9 282.6 L85.4 282.7 L85.9 282.7 L86.4 282.7 L86.9 282.7 L87.4 282.8 L87.9 282.8 L88.4 282.8 L88.9 282.8 L89.4 282.9 L89.9 282.9 L90.4 282.9 L90.9 283 L91.4 283 L91.9 283 L92.4 283.1 L92.9 283.1 L93.4 283.2 L93.9 283.2 L94.4 283.3 L94.9 283.3 L95.4 283.4 L95.9 283.4 L96.4 283.5 L96.9 283.5 L97.4 283.6 L97.9 283.7 L98.4 283.7 L98.9 283.8 L99.4 283.9 L99.9 284 L100.4 284.1 L100.9 284.2 L101.4 284.4 L101.9 284.7 L102.4 285 L102.9 285.3 L103.4 285.6 L103.9 285.9 L104.4 286.3 L104.9 286.7 L105.4 287.3 L105.9 287.8 L106.4 288.4 L106.9 289.1 L107.4 289.8 L107.9 290.6 L108.4 291.5 L108.9 292.6 L109.4 293.8 L109.9 295 L110.4 296.3 L110.9 297.6 L111.4 299 L111.9 300.2 L112.4 301.5 L112.9 302.7 L113.4 303.9 L113.9 305.2 L114.4 306.4 L114.9 307.7 L115.4 309 L115.9 310.5 L116.4 312 L116.9 313.6 L117.4 315.4 L117.9 317.4 L118.4 319.6 L118.9 322 L119.4 324.6 L119.9 327.2 L120.4 329.9 L120.9 332.6 L121.4 335.3 L121.9 337.9 L122.4 340.5 L122.9 343.1 L123.4 345.9 L123.9 348.6 L124.4 351.4 L124.9 354.1 L125.4 356.7 L125.9 359.2 L126.4 361.5 L126.9 363.6 L127.4 365.9 L127.9 368.2 L128.4 370.1 L128.9 371.5 L129.4 372 L129.9 371.7 L130.4 370.9 L130.9 369.8 L131.4 368.2 L131.9 366.5 L132.4 364.6 L132.9 362.6 L133.4 360.6 L133.9 358.4 L134.4 355.8 L134.9 352.8 L135.4 349.6 L135.9 346.4 L136.4 343.1 L136.9 340 L137.4 336.9 L137.9 333.6 L138.4 330.2 L138.9 326.9 L139.4 323.6 L139.9 320.5 L140.4 317.7 L140.9 315.2 L141.4 313.1 L141.9 311.2 L142.4 309.4 L142.9 307.8 L143.4 306.3 L143.9 304.8 L144.4 303.4 L144.9 302 L145.4 300.6 L145.9 299.1 L146.4 297.6 L146.9 296.1 L147.4 294.5 L147.9 293.1 L148.4 291.8 L148.9 290.8 L149.4 289.9 L149.9 289.3 L150.4 288.8 L150.9 288.3 L151.4 287.8 L151.9 287.3 L152.4 286.9 L152.9 286.5 L153.4 286.2 L153.9 285.8 L154.4 285.5 L154.9 285.2 L155.4 284.9 L155.9 284.6 L156.4 284.4 L156.9 284.2 L157.4 283.9 L157.9 283.7 L158.4 283.5 L158.9 283.4 L159.4 283.2 L159.9 283 L160.4 282.9 L160.9 282.7 L161.4 282.6 L161.9 282.4 L162.4 282.3 L162.9 282.2 L163.4 282 L163.9 281.9 L164.4 281.8 L164.9 281.7 L165.4 281.5 L165.9 281.4 L166.4 281.3 L166.9 281.2 L167.4 281.1 L167.9 281 L168.4 280.9 L168.9 280.8 L169.4 280.7 L169.9 280.6 L170.4 280.6 L170.9 280.5 L171.4 280.4 L171.9 280.4 L172.4 280.3 L172.9 280.2 L173.4 280.2 L173.9 280.1 L174.4 280.1 L174.9 280 L175.4 280 L175.9 279.9 L176.4 279.9 L176.9 279.8 L177.4 279.8 L177.9 279.7 L178.4 279.7 L178.9 279.7 L179.4 279.6 L179.9 279.6 L180.4 279.5 L180.9 279.5 L181.4 279.5 L181.9 279.4 L182.4 279.4 L182.9 279.3 L183.4 279.3 L183.9 279.3 L184.4 279.2 L184.9 279.2 L185.4 279.2 L185.9 279.2 L186.4 279.1 L186.9 279.1 L187.4 279.1 L187.9 279.1 L188.4 279.1 L188.9 279 L189.4 279 L189.9 279 L190.4 279 L190.9 279 L191.4 279 L191.9 279" fill="none" stroke="#000" stroke-width="1.5" stroke-linejoin="round"/>
<path d="M94.9 275.1a2.3 2.3 0 1 0 4.6 0a2.3 2.3 0 1 0 -4.6 0M84.9 282.7a2.3 2.3 0 1 0 4.6 0a2.3 2.3 0 1 0 -4.6 0M127.7 276.7a2.3 2.3 0 1 0 4.6 0a2.3 2.3 0 1 0 -4.6 0M89.9 260a2.3 2.3 0 1 0 4.6 0a2.3 2.3 0 1 0 -4.6 0M89.9 268.9a2.3 2.3 0 1 0 4.6 0a2.3 2.3 0 1 0 -4.6 0M127.6 273.5a2.3 2.3 0 1 0 4.6 0a2.3 2.3 0 1 0 -4.6 0M96.6 284.6a2.3 2.3 0 1 0 4.6 0a2.3 2.3 0 1 0 -4.6 0M93.9 281.9a2.3 2.3 0 1 0 4.6 0a2.3 2.3 0 1 0 -4.6 0M134.4 266.5a2.3 2.3 0 1 0 4.6 0a2.3 2.3 0 1 0 -4.6 0M93.8 271.1a2.3 2.3 0 1 0 4.6 0a2.3 2.3 0 1 0 -4.6 0M128.7 278a2.3 2.3 0 1 0 4.6 0a2.3 2.3 0 1 0 -4.6 0M99.6 282.5a2.3 2.3 0 1 0 4.6 0a2.3 2.3 0 1 0 -4.6 0M114 270.8a2.3 2.3 0 1 0 4.6 0a2.3 2.3 0 1 0 -4.6 0M99.9 277.5a2.3 2.3 0 1 0 4.6 0a2.3 2.3 0 1 0 -4.6 0M101.2 263.6a2.3 2.3 0 1 0 4.6 0a2.3 2.3 0 1 0 -4.6 0M133.7 277.2a2.3 2.3 0 1 0 4.6 0a2.3 2.3 0 1 0 -4.6 0M132.6 287.7a2.3 2.3 0 1 0 4.6 0a2.3 2.3 0 1 0 -4.6 0M91.8 285a2.3 2.3 0 1 0 4.6 0a2.3 2.3 0 1 0 -4.6 0M121.9 272.3a2.3 2.3 0 1 0 4.6 0a2.3 2.3 0 1 0 -4.6 0M91 273.2a2.3 2.3 0 1 0 4.6 0a2.3 2.3 0 1 0 -4.6 0M99 284.3a2.3 2.3 0 1 0 4.6 0a2.3 2.3 0 1 0 -4.6 0M86.6 275.9a2.3 2.3 0 1 0 4.6 0a2.3 2.3 0 1 0 -4.6 0M118.3 275.8a2.3 2.3 0 1 0 4.6 0a2.3 2.3 0 1 0 -4.6 0M122.7 284.1a2.3 2.3 0 1 0 4.6 0a2.3 2.3 0 1 0 -4.6 0M123.8 282.1a2.3 2.3 0 1 0 4.6 0a2.3 2.3 0 1 0 -4.6 0M125.3 288.9a2.3 2.3 0 1 0 4.6 0a2.3 2.3 0 1 0 -4.6 0M104 284.3a2.3 2.3 0 1 0 4.6 0a2.3 2.3 0 1 0 -4.6 0M92.9 274.6a2.3 2.3 0 1 0 4.6 0a2.3 2.3 0 1 0 -4.6 0M82.6 277.9a2.3 2.3 0 1 0 4.6 0a2.3 2.3 0 1 0 -4.6 0M107.4 278.3a2.3 2.3 0 1 0 4.6 0a2.3 2.3 0 1 0 -4.6 0M133.1 276.5a2.3 2.3 0 1 0 4.6 0a2.3 2.3 0 1 0 -4.6 0M106.9 271.9a2.3 2.3 0 1 0 4.6 0a2.3 2.3 0 1 0 -4.6 0M117.1 286.2a2.3 2.3 0 1 0 4.6 0a2.3 2.3 0 1 0 -4.6 0M133 274a2.3 2.3 0 1 0 4.6 0a2.3 2.3 0 1 0 -4.6 0M129.8 289.8a2.3 2.3 0 1 0 4.6 0a2.3 2.3 0 1 0 -4.6 0M123.6 282.6a2.3 2.3 0 1 0 4.6 0a2.3 2.3 0 1 0 -4.6 0M114.8 278.2a2.3 2.3 0 1 0 4.6 0a2.3 2.3 0 1 0 -4.6 0M95.5 282.5a2.3 2.3 0 1 0 4.6 0a2.3 2.3 0 1 0 -4.6 0M122.8 284.1a2.3 2.3 0 1 0 4.6 0a2.3 2.3 0 1 0 -4.6 0M105.4 287.2a2.3 2.3 0 1 0 4.6 0a2.3 2.3 0 1 0 -4.6 0M121.2 277.4a2.3 2.3 0 1 0 4.6 0a2.3 2.3 0 1 0 -4.6 0M95.3 273.5a2.3 2.3 0 1 0 4.6 0a2.3 2.3 0 1 0 -4.6 0M134.9 287.5a2.3 2.3 0 1 0 4.6 0a2.3 2.3 0 1 0 -4.6 0M91.3 291.9a2.3 2.3 0 1 0 4.6 0a2.3 2.3 0 1 0 -4.6 0M127 288a2.3 2.3 0 1 0 4.6 0a2.3 2.3 0 1 0 -4.6 0M131.4 277.4a2.3 2.3 0 1 0 4.6 0a2.3 2.3 0 1 0 -4.6 0M90 276.4a2.3 2.3 0 1 0 4.6 0a2.3 2.3 0 1 0 -4.6 0M129.1 278a2.3 2.3 0 1 0 4.6 0a2.3 2.3 0 1 0 -4.6 0M118.9 279.7a2.3 2.3 0 1 0 4.6 0a2.3 2.3 0 1 0 -4.6 0M115.9 280.8a2.3 2.3 0 1 0 4.6 0a2.3 2.3 0 1 0 -4.6 0M96.3 294.8a2.3 2.3 0 1 0 4.6 0a2.3 2.3 0 1 0 -4.6 0M100.4 280.1a2.3 2.3 0 1 0 4.6 0a2.3 2.3 0 1 0 -4.6 0M95.1 285.9a2.3 2.3 0 1 0 4.6 0a2.3 2.3 0 1 0 -4.6 0M107.7 281.8a2.3 2.3 0 1 0 4.6 0a2.3 2.3 0 1 0 -4.6 0M118.3 284.2a2.3 2.3 0 1 0 4.6 0a2.3 2.3 0 1 0 -4.6 0M123.7 279.5a2.3 2.3 0 1 0 4.6 0a2.3 2.3 0 1 0 -4.6 0M121.4 274.8a2.3 2.3 0 1 0 4.6 0a2.3 2.3 0 1 0 -4.6 0M100.6 279.1a2.3 2.3 0 1 0 4.6 0a2.3 2.3 0 1 0 -4.6 0M101.6 285.8a2.3 2.3 0 1 0 4.6 0a2.3 2.3 0 1 0 -4.6 0M124.5 270.3a2.3 2.3 0 1 0 4.6 0a2.3 2.3 0 1 0 -4.6 0M136.1 297.7a2.3 2.3 0 1 0 4.6 0a2.3 2.3 0 1 0 -4.6 0M95.7 276.1a2.3 2.3 0 1 0 4.6 0a2.3 2.3 0 1 0 -4.6 0M105.3 289.3a2.3 2.3 0 1 0 4.6 0a2.3 2.3 0 1 0 -4.6 0M98.5 281.6a2.3 2.3 0 1 0 4.6 0a2.3 2.3 0 1 0 -4.6 0M136.3 297.2a2.3 2.3 0 1 0 4.6 0a2.3 2.3 0 1 0 -4.6 0M83.2 282.7a2.3 2.3 0 1 0 4.6 0a2.3 2.3 0 1 0 -4.6 0M132 291.7a2.3 2.3 0 1 0 4.6 0a2.3 2.3 0 1 0 -4.6 0M124.6 281.4a2.3 2.3 0 1 0 4.6 0a2.3 2.3 0 1 0 -4.6 0M101.6 272.9a2.3 2.3 0 1 0 4.6 0a2.3 2.3 0 1 0 -4.6 0M120.6 284.7a2.3 2.3 0 1 0 4.6 0a2.3 2.3 0 1 0 -4.6 0M103.1 283.7a2.3 2.3 0 1 0 4.6 0a2.3 2.3 0 1 0 -4.6 0M118 294.3a2.3 2.3 0 1 0 4.6 0a2.3 2.3 0 1 0 -4.6 0M106.4 264.7a2.3 2.3 0 1 0 4.6 0a2.3 2.3 0 1 0 -4.6 0M132.9 284.1a2.3 2.3 0 1 0 4.6 0a2.3 2.3 0 1 0 -4.6 0M108.3 313.3a2.3 2.3 0 1 0 4.6 0a2.3 2.3 0 1 0 -4.6 0M127.3 272.9a2.3 2.3 0 1 0 4.6 0a2.3 2.3 0 1 0 -4.6 0M114.7 277.5a2.3 2.3 0 1 0 4.6 0a2.3 2.3 0 1 0 -4.6 0M102.7 293.6a2.3 2.3 0 1 0 4.6 0a2.3 2.3 0 1 0 -4.6 0M135.9 298a2.3 2.3 0 1 0 4.6 0a2.3 2.3 0 1 0 -4.6 0M93.7 263.2a2.3 2.3 0 1 0 4.6 0a2.3 2.3 0 1 0 -4.6 0M132.3 294.8a2.3 2.3 0 1 0 4.6 0a2.3 2.3 0 1 0 -4.6 0M136.5 297.3a2.3 2.3 0 1 0 4.6 0a2.3 2.3 0 1 0 -4.6 0M129.1 287.9a2.3 2.3 0 1 0 4.6 0a2.3 2.3 0 1 0 -4.6 0M116.6 282.1a2.3 2.3 0 1 0 4.6 0a2.3 2.3 0 1 0 -4.6 0M116.6 281.2a2.3 2.3 0 1 0 4.6 0a2.3 2.3 0 1 0 -4.6 0M134 279.8a2.3 2.3 0 1 0 4.6 0a2.3 2.3 0 1 0 -4.6 0M107.3 275.2a2.3 2.3 0 1 0 4.6 0a2.3 2.3 0 1 0 -4.6 0M128.2 287a2.3 2.3 0 1 0 4.6 0a2.3 2.3 0 1 0 -4.6 0M124.5 282.2a2.3 2.3 0 1 0 4.6 0a2.3 2.3 0 1 0 -4.6 0M130 300.4a2.3 2.3 0 1 0 4.6 0a2.3 2.3 0 1 0 -4.6 0M158.5 299.9a2.3 2.3 0 1 0 4.6 0a2.3 2.3 0 1 0 -4.6 0M142.6 300.7a2.3 2.3 0 1 0 4.6 0a2.3 2.3 0 1 0 -4.6 0M173 288.6a2.3 2.3 0 1 0 4.6 0a2.3 2.3 0 1 0 -4.6 0M163.6 301.6a2.3 2.3 0 1 0 4.6 0a2.3 2.3 0 1 0 -4.6 0M147.7 301.8a2.3 2.3 0 1 0 4.6 0a2.3 2.3 0 1 0 -4.6 0M182.3 296.3a2.3 2.3 0 1 0 4.6 0a2.3 2.3 0 1 0 -4.6 0M161 301a2.3 2.3 0 1 0 4.6 0a2.3 2.3 0 1 0 -4.6 0M139.4 299.2a2.3 2.3 0 1 0 4.6 0a2.3 2.3 0 1 0 -4.6 0M187.9 307.9a2.3 2.3 0 1 0 4.6 0a2.3 2.3 0 1 0 -4.6 0M161.8 312.8a2.3 2.3 0 1 0 4.6 0a2.3 2.3 0 1 0 -4.6 0M142.4 294.7a2.3 2.3 0 1 0 4.6 0a2.3 2.3 0 1 0 -4.6 0M154.5 325a2.3 2.3 0 1 0 4.6 0a2.3 2.3 0 1 0 -4.6 0M152 322.6a2.3 2.3 0 1 0 4.6 0a2.3 2.3 0 1 0 -4.6 0M140 290a2.3 2.3 0 1 0 4.6 0a2.3 2.3 0 1 0 -4.6 0M157 306.9a2.3 2.3 0 1 0 4.6 0a2.3 2.3 0 1 0 -4.6 0M147.4 312.6a2.3 2.3 0 1 0 4.6 0a2.3 2.3 0 1 0 -4.6 0M149.9 299.1a2.3 2.3 0 1 0 4.6 0a2.3 2.3 0 1 0 -4.6 0M177.9 300.6a2.3 2.3 0 1 0 4.6 0a2.3 2.3 0 1 0 -4.6 0M146.9 302a2.3 2.3 0 1 0 4.6 0a2.3 2.3 0 1 0 -4.6 0M138.5 286a2.3 2.3 0 1 0 4.6 0a2.3 2.3 0 1 0 -4.6 0M148.5 286.6a2.3 2.3 0 1 0 4.6 0a2.3 2.3 0 1 0 -4.6 0M155.2 294.7a2.3 2.3 0 1 0 4.6 0a2.3 2.3 0 1 0 -4.6 0M147.9 297.5a2.3 2.3 0 1 0 4.6 0a2.3 2.3 0 1 0 -4.6 0M173.2 283.1a2.3 2.3 0 1 0 4.6 0a2.3 2.3 0 1 0 -4.6 0M188.2 320.1a2.3 2.3 0 1 0 4.6 0a2.3 2.3 0 1 0 -4.6 0M186.4 304.9a2.3 2.3 0 1 0 4.6 0a2.3 2.3 0 1 0 -4.6 0M165.6 316.4a2.3 2.3 0 1 0 4.6 0a2.3 2.3 0 1 0 -4.6 0M183.3 316.7a2.3 2.3 0 1 0 4.6 0a2.3 2.3 0 1 0 -4.6 0M183.7 306.7a2.3 2.3 0 1 0 4.6 0a2.3 2.3 0 1 0 -4.6 0M173 309.1a2.3 2.3 0 1 0 4.6 0a2.3 2.3 0 1 0 -4.6 0M184 307.1a2.3 2.3 0 1 0 4.6 0a2.3 2.3 0 1 0 -4.6 0M160.6 315.2a2.3 2.3 0 1 0 4.6 0a2.3 2.3 0 1 0 -4.6 0M180.2 289.7a2.3 2.3 0 1 0 4.6 0a2.3 2.3 0 1 0 -4.6 0M167.7 307.7a2.3 2.3 0 1 0 4.6 0a2.3 2.3 0 1 0 -4.6 0M180.7 292.8a2.3 2.3 0 1 0 4.6 0a2.3 2.3 0 1 0 -4.6 0M180.9 287.3a2.3 2.3 0 1 0 4.6 0a2.3 2.3 0 1 0 -4.6 0M142.3 285.1a2.3 2.3 0 1 0 4.6 0a2.3 2.3 0 1 0 -4.6 0M185.2 302.9a2.3 2.3 0 1 0 4.6 0a2.3 2.3 0 1 0 -4.6 0M139.8 301.8a2.3 2.3 0 1 0 4.6 0a2.3 2.3 0 1 0 -4.6 0M162.9 295a2.3 2.3 0 1 0 4.6 0a2.3 2.3 0 1 0 -4.6 0M171.3 315.2a2.3 2.3 0 1 0 4.6 0a2.3 2.3 0 1 0 -4.6 0M185.4 311.5a2.3 2.3 0 1 0 4.6 0a2.3 2.3 0 1 0 -4.6 0M142 291a2.3 2.3 0 1 0 4.6 0a2.3 2.3 0 1 0 -4.6 0M177.3 293.2a2.3 2.3 0 1 0 4.6 0a2.3 2.3 0 1 0 -4.6 0M158 295.2a2.3 2.3 0 1 0 4.6 0a2.3 2.3 0 1 0 -4.6 0M138.8 301.5a2.3 2.3 0 1 0 4.6 0a2.3 2.3 0 1 0 -4.6 0M156.9 304.5a2.3 2.3 0 1 0 4.6 0a2.3 2.3 0 1 0 -4.6 0M175 288.6a2.3 2.3 0 1 0 4.6 0a2.3 2.3 0 1 0 -4.6 0M142.4 298.7a2.3 2.3 0 1 0 4.6 0a2.3 2.3 0 1 0 -4.6 0M186.9 282.1a2.3 2.3 0 1 0 4.6 0a2.3 2.3 0 1 0 -4.6 0M141.7 294.5a2.3 2.3 0 1 0 4.6 0a2.3 2.3 0 1 0 -4.6 0M151.5 317a2.3 2.3 0 1 0 4.6 0a2.3 2.3 0 1 0 -4.6 0M156.3 321a2.3 2.3 0 1 0 4.6 0a2.3 2.3 0 1 0 -4.6 0M141.5 301.3a2.3 2.3 0 1 0 4.6 0a2.3 2.3 0 1 0 -4.6 0M191.2 320.6a2.3 2.3 0 1 0 4.6 0a2.3 2.3 0 1 0 -4.6 0M193.6 313.3a2.3 2.3 0 1 0 4.6 0a2.3 2.3 0 1 0 -4.6 0M190.1 271.2a2.3 2.3 0 1 0 4.6 0a2.3 2.3 0 1 0 -4.6 0M149.6 297.7a2.3 2.3 0 1 0 4.6 0a2.3 2.3 0 1 0 -4.6 0M186.1 297.3a2.3 2.3 0 1 0 4.6 0a2.3 2.3 0 1 0 -4.6 0M156.7 307.1a2.3 2.3 0 1 0 4.6 0a2.3 2.3 0 1 0 -4.6 0M154.4 318.7a2.3 2.3 0 1 0 4.6 0a2.3 2.3 0 1 0 -4.6 0M178 310.8a2.3 2.3 0 1 0 4.6 0a2.3 2.3 0 1 0 -4.6 0M142.4 299.5a2.3 2.3 0 1 0 4.6 0a2.3 2.3 0 1 0 -4.6 0M138.6 284.4a2.3 2.3 0 1 0 4.6 0a2.3 2.3 0 1 0 -4.6 0M192.1 297.7a2.3 2.3 0 1 0 4.6 0a2.3 2.3 0 1 0 -4.6 0M157.7 306a2.3 2.3 0 1 0 4.6 0a2.3 2.3 0 1 0 -4.6 0M184 310.1a2.3 2.3 0 1 0 4.6 0a2.3 2.3 0 1 0 -4.6 0M163.4 309.5a2.3 2.3 0 1 0 4.6 0a2.3 2.3 0 1 0 -4.6 0M143.9 295.9a2.3 2.3 0 1 0 4.6 0a2.3 2.3 0 1 0 -4.6 0M165.2 299.3a2.3 2.3 0 1 0 4.6 0a2.3 2.3 0 1 0 -4.6 0M148.1 310.1a2.3 2.3 0 1 0 4.6 0a2.3 2.3 0 1 0 -4.6 0M142.1 298.1a2.3 2.3 0 1 0 4.6 0a2.3 2.3 0 1 0 -4.6 0M138.1 291.3a2.3 2.3 0 1 0 4.6 0a2.3 2.3 0 1 0 -4.6 0M161.2 307.9a2.3 2.3 0 1 0 4.6 0a2.3 2.3 0 1 0 -4.6 0M152.8 322.1a2.3 2.3 0 1 0 4.6 0a2.3 2.3 0 1 0 -4.6 0M157.4 284.6a2.3 2.3 0 1 0 4.6 0a2.3 2.3 0 1 0 -4.6 0M193.5 321a2.3 2.3 0 1 0 4.6 0a2.3 2.3 0 1 0 -4.6 0M186 302.5a2.3 2.3 0 1 0 4.6 0a2.3 2.3 0 1 0 -4.6 0M178.4 297.5a2.3 2.3 0 1 0 4.6 0a2.3 2.3 0 1 0 -4.6 0M152.1 314.9a2.3 2.3 0 1 0 4.6 0a2.3 2.3 0 1 0 -4.6 0M181.6 296.4a2.3 2.3 0 1 0 4.6 0a2.3 2.3 0 1 0 -4.6 0M178.1 290a2.3 2.3 0 1 0 4.6 0a2.3 2.3 0 1 0 -4.6 0M168.7 301.5a2.3 2.3 0 1 0 4.6 0a2.3 2.3 0 1 0 -4.6 0M150.7 299.4a2.3 2.3 0 1 0 4.6 0a2.3 2.3 0 1 0 -4.6 0M149.4 309.7a2.3 2.3 0 1 0 4.6 0a2.3 2.3 0 1 0 -4.6 0M162.8 306.9a2.3 2.3 0 1 0 4.6 0a2.3 2.3 0 1 0 -4.6 0M154.6 312.8a2.3 2.3 0 1 0 4.6 0a2.3 2.3 0 1 0 -4.6 0M189.1 307.9a2.3 2.3 0 1 0 4.6 0a2.3 2.3 0 1 0 -4.6 0M164.7 279.5a2.3 2.3 0 1 0 4.6 0a2.3 2.3 0 1 0 -4.6 0M176.4 299.7a2.3 2.3 0 1 0 4.6 0a2.3 2.3 0 1 0 -4.6 0M189.9 286.2a2.3 2.3 0 1 0 4.6 0a2.3 2.3 0 1 0 -4.6 0M174.1 300.2a2.3 2.3 0 1 0 4.6 0a2.3 2.3 0 1 0 -4.6 0M146.3 283.2a2.3 2.3 0 1 0 4.6 0a2.3 2.3 0 1 0 -4.6 0M156.5 308.7a2.3 2.3 0 1 0 4.6 0a2.3 2.3 0 1 0 -4.6 0M191.5 314.8a2.3 2.3 0 1 0 4.6 0a2.3 2.3 0 1 0 -4.6 0M140.6 279a2.3 2.3 0 1 0 4.6 0a2.3 2.3 0 1 0 -4.6 0M150 313.6a2.3 2.3 0 1 0 4.6 0a2.3 2.3 0 1 0 -4.6 0M173.8 298.2a2.3 2.3 0 1 0 4.6 0a2.3 2.3 0 1 0 -4.6 0M186.5 283.7a2.3 2.3 0 1 0 4.6 0a2.3 2.3 0 1 0 -4.6 0M186 304.4a2.3 2.3 0 1 0 4.6 0a2.3 2.3 0 1 0 -4.6 0M180.2 261.4a2.3 2.3 0 1 0 4.6 0a2.3 2.3 0 1 0 -4.6 0M177.8 306.2a2.3 2.3 0 1 0 4.6 0a2.3 2.3 0 1 0 -4.6 0M160 301.2a2.3 2.3 0 1 0 4.6 0a2.3 2.3 0 1 0 -4.6 0M141.8 321.8a2.3 2.3 0 1 0 4.6 0a2.3 2.3 0 1 0 -4.6 0M174.2 308.7a2.3 2.3 0 1 0 4.6 0a2.3 2.3 0 1 0 -4.6 0M143 276.7a2.3 2.3 0 1 0 4.6 0a2.3 2.3 0 1 0 -4.6 0M183.5 290.4a2.3 2.3 0 1 0 4.6 0a2.3 2.3 0 1 0 -4.6 0M145.5 270.3a2.3 2.3 0 1 0 4.6 0a2.3 2.3 0 1 0 -4.6 0M139.7 288.8a2.3 2.3 0 1 0 4.6 0a2.3 2.3 0 1 0 -4.6 0M194.5 311.5a2.3 2.3 0 1 0 4.6 0a2.3 2.3 0 1 0 -4.6 0M147.9 293.4a2.3 2.3 0 1 0 4.6 0a2.3 2.3 0 1 0 -4.6 0M171.4 305.4a2.3 2.3 0 1 0 4.6 0a2.3 2.3 0 1 0 -4.6 0M141.3 290.4a2.3 2.3 0 1 0 4.6 0a2.3 2.3 0 1 0 -4.6 0M194 297.4a2.3 2.3 0 1 0 4.6 0a2.3 2.3 0 1 0 -4.6 0M138.8 284.6a2.3 2.3 0 1 0 4.6 0a2.3 2.3 0 1 0 -4.6 0M177 293.7a2.3 2.3 0 1 0 4.6 0a2.3 2.3 0 1 0 -4.6 0M186.1 296.6a2.3 2.3 0 1 0 4.6 0a2.3 2.3 0 1 0 -4.6 0M154.7 312.1a2.3 2.3 0 1 0 4.6 0a2.3 2.3 0 1 0 -4.6 0M137.5 288.1a2.3 2.3 0 1 0 4.6 0a2.3 2.3 0 1 0 -4.6 0M140.6 293.1a2.3 2.3 0 1 0 4.6 0a2.3 2.3 0 1 0 -4.6 0M140.6 296.3a2.3 2.3 0 1 0 4.6 0a2.3 2.3 0 1 0 -4.6 0M181.1 314.8a2.3 2.3 0 1 0 4.6 0a2.3 2.3 0 1 0 -4.6 0M168.2 298.5a2.3 2.3 0 1 0 4.6 0a2.3 2.3 0 1 0 -4.6 0M189.7 305.5a2.3 2.3 0 1 0 4.6 0a2.3 2.3 0 1 0 -4.6 0M174.8 304.5a2.3 2.3 0 1 0 4.6 0a2.3 2.3 0 1 0 -4.6 0M172.6 292a2.3 2.3 0 1 0 4.6 0a2.3 2.3 0 1 0 -4.6 0M149.3 306.6a2.3 2.3 0 1 0 4.6 0a2.3 2.3 0 1 0 -4.6 0M150.5 307.8a2.3 2.3 0 1 0 4.6 0a2.3 2.3 0 1 0 -4.6 0M194.5 304.6a2.3 2.3 0 1 0 4.6 0a2.3 2.3 0 1 0 -4.6 0M193.3 310.5a2.3 2.3 0 1 0 4.6 0a2.3 2.3 0 1 0 -4.6 0M163.4 315.2a2.3 2.3 0 1 0 4.6 0a2.3 2.3 0 1 0 -4.6 0M183.6 307.9a2.3 2.3 0 1 0 4.6 0a2.3 2.3 0 1 0 -4.6 0M178.4 295.5a2.3 2.3 0 1 0 4.6 0a2.3 2.3 0 1 0 -4.6 0M154.9 309.6a2.3 2.3 0 1 0 4.6 0a2.3 2.3 0 1 0 -4.6 0M149.8 324.8a2.3 2.3 0 1 0 4.6 0a2.3 2.3 0 1 0 -4.6 0M181.3 288a2.3 2.3 0 1 0 4.6 0a2.3 2.3 0 1 0 -4.6 0M193.7 308.6a2.3 2.3 0 1 0 4.6 0a2.3 2.3 0 1 0 -4.6 0M194.5 316.9a2.3 2.3 0 1 0 4.6 0a2.3 2.3 0 1 0 -4.6 0M157.9 308.8a2.3 2.3 0 1 0 4.6 0a2.3 2.3 0 1 0 -4.6 0M141.3 300.3a2.3 2.3 0 1 0 4.6 0a2.3 2.3 0 1 0 -4.6 0M156.1 309.3a2.3 2.3 0 1 0 4.6 0a2.3 2.3 0 1 0 -4.6 0M141.4 301.4a2.3 2.3 0 1 0 4.6 0a2.3 2.3 0 1 0 -4.6 0M194.3 320.9a2.3 2.3 0 1 0 4.6 0a2.3 2.3 0 1 0 -4.6 0M155.4 306a2.3 2.3 0 1 0 4.6 0a2.3 2.3 0 1 0 -4.6 0M187.1 301.3a2.3 2.3 0 1 0 4.6 0a2.3 2.3 0 1 0 -4.6 0M151.7 307a2.3 2.3 0 1 0 4.6 0a2.3 2.3 0 1 0 -4.6 0M193.4 303a2.3 2.3 0 1 0 4.6 0a2.3 2.3 0 1 0 -4.6 0M165 305.2a2.3 2.3 0 1 0 4.6 0a2.3 2.3 0 1 0 -4.6 0M186 289.6a2.3 2.3 0 1 0 4.6 0a2.3 2.3 0 1 0 -4.6 0M172.4 306.2a2.3 2.3 0 1 0 4.6 0a2.3 2.3 0 1 0 -4.6 0M221.7 355.1a2.3 2.3 0 1 0 4.6 0a2.3 2.3 0 1 0 -4.6 0M236 319a2.3 2.3 0 1 0 4.6 0a2.3 2.3 0 1 0 -4.6 0M211.8 363.1a2.3 2.3 0 1 0 4.6 0a2.3 2.3 0 1 0 -4.6 0M199.7 326a2.3 2.3 0 1 0 4.6 0a2.3 2.3 0 1 0 -4.6 0M237.9 310.3a2.3 2.3 0 1 0 4.6 0a2.3 2.3 0 1 0 -4.6 0M236.6 310.5a2.3 2.3 0 1 0 4.6 0a2.3 2.3 0 1 0 -4.6 0M242.2 304.6a2.3 2.3 0 1 0 4.6 0a2.3 2.3 0 1 0 -4.6 0M194.8 312.2a2.3 2.3 0 1 0 4.6 0a2.3 2.3 0 1 0 -4.6 0M220.6 360.5a2.3 2.3 0 1 0 4.6 0a2.3 2.3 0 1 0 -4.6 0M225.5 356.1a2.3 2.3 0 1 0 4.6 0a2.3 2.3 0 1 0 -4.6 0M220.8 367.7a2.3 2.3 0 1 0 4.6 0a2.3 2.3 0 1 0 -4.6 0M199.6 331.9a2.3 2.3 0 1 0 4.6 0a2.3 2.3 0 1 0 -4.6 0M235.2 308.9a2.3 2.3 0 1 0 4.6 0a2.3 2.3 0 1 0 -4.6 0M222.4 366.5a2.3 2.3 0 1 0 4.6 0a2.3 2.3 0 1 0 -4.6 0M194.4 306.5a2.3 2.3 0 1 0 4.6 0a2.3 2.3 0 1 0 -4.6 0M208 354.4a2.3 2.3 0 1 0 4.6 0a2.3 2.3 0 1 0 -4.6 0M228.4 341.6a2.3 2.3 0 1 0 4.6 0a2.3 2.3 0 1 0 -4.6 0M202.3 334.8a2.3 2.3 0 1 0 4.6 0a2.3 2.3 0 1 0 -4.6 0M226.4 333.6a2.3 2.3 0 1 0 4.6 0a2.3 2.3 0 1 0 -4.6 0M203.5 334.6a2.3 2.3 0 1 0 4.6 0a2.3 2.3 0 1 0 -4.6 0M213.6 364.8a2.3 2.3 0 1 0 4.6 0a2.3 2.3 0 1 0 -4.6 0M207.3 346.3a2.3 2.3 0 1 0 4.6 0a2.3 2.3 0 1 0 -4.6 0M201.9 322.7a2.3 2.3 0 1 0 4.6 0a2.3 2.3 0 1 0 -4.6 0M234.9 318.5a2.3 2.3 0 1 0 4.6 0a2.3 2.3 0 1 0 -4.6 0M209 357.7a2.3 2.3 0 1 0 4.6 0a2.3 2.3 0 1 0 -4.6 0M231 333.9a2.3 2.3 0 1 0 4.6 0a2.3 2.3 0 1 0 -4.6 0M234.1 314.7a2.3 2.3 0 1 0 4.6 0a2.3 2.3 0 1 0 -4.6 0M208.5 345.5a2.3 2.3 0 1 0 4.6 0a2.3 2.3 0 1 0 -4.6 0M196.3 305.5a2.3 2.3 0 1 0 4.6 0a2.3 2.3 0 1 0 -4.6 0M221.5 365.9a2.3 2.3 0 1 0 4.6 0a2.3 2.3 0 1 0 -4.6 0M206.7 339.1a2.3 2.3 0 1 0 4.6 0a2.3 2.3 0 1 0 -4.6 0M235.2 318.4a2.3 2.3 0 1 0 4.6 0a2.3 2.3 0 1 0 -4.6 0M198.9 329.5a2.3 2.3 0 1 0 4.6 0a2.3 2.3 0 1 0 -4.6 0M229.1 337.4a2.3 2.3 0 1 0 4.6 0a2.3 2.3 0 1 0 -4.6 0M195.1 308.6a2.3 2.3 0 1 0 4.6 0a2.3 2.3 0 1 0 -4.6 0M205.6 341a2.3 2.3 0 1 0 4.6 0a2.3 2.3 0 1 0 -4.6 0M202.1 335a2.3 2.3 0 1 0 4.6 0a2.3 2.3 0 1 0 -4.6 0M235 318.9a2.3 2.3 0 1 0 4.6 0a2.3 2.3 0 1 0 -4.6 0M223.7 356.9a2.3 2.3 0 1 0 4.6 0a2.3 2.3 0 1 0 -4.6 0M223.6 347.8a2.3 2.3 0 1 0 4.6 0a2.3 2.3 0 1 0 -4.6 0M197.9 315.8a2.3 2.3 0 1 0 4.6 0a2.3 2.3 0 1 0 -4.6 0M207.7 347.6a2.3 2.3 0 1 0 4.6 0a2.3 2.3 0 1 0 -4.6 0M233.4 312a2.3 2.3 0 1 0 4.6 0a2.3 2.3 0 1 0 -4.6 0M222.4 358.5a2.3 2.3 0 1 0 4.6 0a2.3 2.3 0 1 0 -4.6 0M227.7 334.8a2.3 2.3 0 1 0 4.6 0a2.3 2.3 0 1 0 -4.6 0M217.2 371.6a2.3 2.3 0 1 0 4.6 0a2.3 2.3 0 1 0 -4.6 0M202.8 338.4a2.3 2.3 0 1 0 4.6 0a2.3 2.3 0 1 0 -4.6 0M237.9 312.1a2.3 2.3 0 1 0 4.6 0a2.3 2.3 0 1 0 -4.6 0M208 344.1a2.3 2.3 0 1 0 4.6 0a2.3 2.3 0 1 0 -4.6 0M202.9 329.6a2.3 2.3 0 1 0 4.6 0a2.3 2.3 0 1 0 -4.6 0M226.3 352.3a2.3 2.3 0 1 0 4.6 0a2.3 2.3 0 1 0 -4.6 0M199.3 318.4a2.3 2.3 0 1 0 4.6 0a2.3 2.3 0 1 0 -4.6 0M231.1 333.9a2.3 2.3 0 1 0 4.6 0a2.3 2.3 0 1 0 -4.6 0M226 340.5a2.3 2.3 0 1 0 4.6 0a2.3 2.3 0 1 0 -4.6 0M210.7 360.8a2.3 2.3 0 1 0 4.6 0a2.3 2.3 0 1 0 -4.6 0M220 369.6a2.3 2.3 0 1 0 4.6 0a2.3 2.3 0 1 0 -4.6 0M216.5 369a2.3 2.3 0 1 0 4.6 0a2.3 2.3 0 1 0 -4.6 0M195.9 315.6a2.3 2.3 0 1 0 4.6 0a2.3 2.3 0 1 0 -4.6 0M196 315.8a2.3 2.3 0 1 0 4.6 0a2.3 2.3 0 1 0 -4.6 0M207.6 355.3a2.3 2.3 0 1 0 4.6 0a2.3 2.3 0 1 0 -4.6 0M191 302.7a2.3 2.3 0 1 0 4.6 0a2.3 2.3 0 1 0 -4.6 0M202.3 333.1a2.3 2.3 0 1 0 4.6 0a2.3 2.3 0 1 0 -4.6 0M208.6 356.3a2.3 2.3 0 1 0 4.6 0a2.3 2.3 0 1 0 -4.6 0M223.8 352.9a2.3 2.3 0 1 0 4.6 0a2.3 2.3 0 1 0 -4.6 0M220.1 368.6a2.3 2.3 0 1 0 4.6 0a2.3 2.3 0 1 0 -4.6 0M202.2 327.1a2.3 2.3 0 1 0 4.6 0a2.3 2.3 0 1 0 -4.6 0M227.4 333.3a2.3 2.3 0 1 0 4.6 0a2.3 2.3 0 1 0 -4.6 0M229.7 325.7a2.3 2.3 0 1 0 4.6 0a2.3 2.3 0 1 0 -4.6 0M222 346.4a2.3 2.3 0 1 0 4.6 0a2.3 2.3 0 1 0 -4.6 0M221.8 343.9a2.3 2.3 0 1 0 4.6 0a2.3 2.3 0 1 0 -4.6 0M200.6 341.6a2.3 2.3 0 1 0 4.6 0a2.3 2.3 0 1 0 -4.6 0M234.6 322.8a2.3 2.3 0 1 0 4.6 0a2.3 2.3 0 1 0 -4.6 0M219 359.2a2.3 2.3 0 1 0 4.6 0a2.3 2.3 0 1 0 -4.6 0M201.9 334.5a2.3 2.3 0 1 0 4.6 0a2.3 2.3 0 1 0 -4.6 0M228.3 345.8a2.3 2.3 0 1 0 4.6 0a2.3 2.3 0 1 0 -4.6 0M222.8 351.1a2.3 2.3 0 1 0 4.6 0a2.3 2.3 0 1 0 -4.6 0M224.7 360.8a2.3 2.3 0 1 0 4.6 0a2.3 2.3 0 1 0 -4.6 0M218 371.1a2.3 2.3 0 1 0 4.6 0a2.3 2.3 0 1 0 -4.6 0M230.5 332.7a2.3 2.3 0 1 0 4.6 0a2.3 2.3 0 1 0 -4.6 0M231.6 337.3a2.3 2.3 0 1 0 4.6 0a2.3 2.3 0 1 0 -4.6 0M223.5 357.4a2.3 2.3 0 1 0 4.6 0a2.3 2.3 0 1 0 -4.6 0M195.1 317.7a2.3 2.3 0 1 0 4.6 0a2.3 2.3 0 1 0 -4.6 0M204.2 338.6a2.3 2.3 0 1 0 4.6 0a2.3 2.3 0 1 0 -4.6 0M240.4 303.3a2.3 2.3 0 1 0 4.6 0a2.3 2.3 0 1 0 -4.6 0M208 362.6a2.3 2.3 0 1 0 4.6 0a2.3 2.3 0 1 0 -4.6 0M221.6 352.1a2.3 2.3 0 1 0 4.6 0a2.3 2.3 0 1 0 -4.6 0M203.3 326.5a2.3 2.3 0 1 0 4.6 0a2.3 2.3 0 1 0 -4.6 0M220.9 362.4a2.3 2.3 0 1 0 4.6 0a2.3 2.3 0 1 0 -4.6 0M223 358a2.3 2.3 0 1 0 4.6 0a2.3 2.3 0 1 0 -4.6 0M227.4 328.1a2.3 2.3 0 1 0 4.6 0a2.3 2.3 0 1 0 -4.6 0M214.9 372.8a2.3 2.3 0 1 0 4.6 0a2.3 2.3 0 1 0 -4.6 0M221.5 368.9a2.3 2.3 0 1 0 4.6 0a2.3 2.3 0 1 0 -4.6 0M208.7 371.3a2.3 2.3 0 1 0 4.6 0a2.3 2.3 0 1 0 -4.6 0M216.7 375.3a2.3 2.3 0 1 0 4.6 0a2.3 2.3 0 1 0 -4.6 0M213.4 374a2.3 2.3 0 1 0 4.6 0a2.3 2.3 0 1 0 -4.6 0M212.5 367a2.3 2.3 0 1 0 4.6 0a2.3 2.3 0 1 0 -4.6 0M222 369.1a2.3 2.3 0 1 0 4.6 0a2.3 2.3 0 1 0 -4.6 0M208.3 370.9a2.3 2.3 0 1 0 4.6 0a2.3 2.3 0 1 0 -4.6 0M221.5 373.2a2.3 2.3 0 1 0 4.6 0a2.3 2.3 0 1 0 -4.6 0M209 366.1a2.3 2.3 0 1 0 4.6 0a2.3 2.3 0 1 0 -4.6 0M302.4 275.6a2.3 2.3 0 1 0 4.6 0a2.3 2.3 0 1 0 -4.6 0M301.8 280.8a2.3 2.3 0 1 0 4.6 0a2.3 2.3 0 1 0 -4.6 0M310.6 280.6a2.3 2.3 0 1 0 4.6 0a2.3 2.3 0 1 0 -4.6 0M253.2 294.4a2.3 2.3 0 1 0 4.6 0a2.3 2.3 0 1 0 -4.6 0M253.4 293.1a2.3 2.3 0 1 0 4.6 0a2.3 2.3 0 1 0 -4.6 0M300.9 282a2.3 2.3 0 1 0 4.6 0a2.3 2.3 0 1 0 -4.6 0M276.6 285.2a2.3 2.3 0 1 0 4.6 0a2.3 2.3 0 1 0 -4.6 0M255.8 288.4a2.3 2.3 0 1 0 4.6 0a2.3 2.3 0 1 0 -4.6 0M239 308.4a2.3 2.3 0 1 0 4.6 0a2.3 2.3 0 1 0 -4.6 0M254 297.1a2.3 2.3 0 1 0 4.6 0a2.3 2.3 0 1 0 -4.6 0M288.7 268.7a2.3 2.3 0 1 0 4.6 0a2.3 2.3 0 1 0 -4.6 0M293.7 280.9a2.3 2.3 0 1 0 4.6 0a2.3 2.3 0 1 0 -4.6 0M264.1 287.5a2.3 2.3 0 1 0 4.6 0a2.3 2.3 0 1 0 -4.6 0M307.7 286.7a2.3 2.3 0 1 0 4.6 0a2.3 2.3 0 1 0 -4.6 0M276.1 281.6a2.3 2.3 0 1 0 4.6 0a2.3 2.3 0 1 0 -4.6 0M277.3 285.7a2.3 2.3 0 1 0 4.6 0a2.3 2.3 0 1 0 -4.6 0M267.7 290a2.3 2.3 0 1 0 4.6 0a2.3 2.3 0 1 0 -4.6 0M268.5 281.5a2.3 2.3 0 1 0 4.6 0a2.3 2.3 0 1 0 -4.6 0M264.5 275.2a2.3 2.3 0 1 0 4.6 0a2.3 2.3 0 1 0 -4.6 0M300 279.2a2.3 2.3 0 1 0 4.6 0a2.3 2.3 0 1 0 -4.6 0M270.7 278.1a2.3 2.3 0 1 0 4.6 0a2.3 2.3 0 1 0 -4.6 0M255.4 291.8a2.3 2.3 0 1 0 4.6 0a2.3 2.3 0 1 0 -4.6 0M271.2 280a2.3 2.3 0 1 0 4.6 0a2.3 2.3 0 1 0 -4.6 0M308.6 290.2a2.3 2.3 0 1 0 4.6 0a2.3 2.3 0 1 0 -4.6 0M286 283.4a2.3 2.3 0 1 0 4.6 0a2.3 2.3 0 1 0 -4.6 0M245.7 290.8a2.3 2.3 0 1 0 4.6 0a2.3 2.3 0 1 0 -4.6 0M268.7 282.1a2.3 2.3 0 1 0 4.6 0a2.3 2.3 0 1 0 -4.6 0M272.1 278.3a2.3 2.3 0 1 0 4.6 0a2.3 2.3 0 1 0 -4.6 0M238.3 310.3a2.3 2.3 0 1 0 4.6 0a2.3 2.3 0 1 0 -4.6 0M310.4 288.4a2.3 2.3 0 1 0 4.6 0a2.3 2.3 0 1 0 -4.6 0M306.6 279.3a2.3 2.3 0 1 0 4.6 0a2.3 2.3 0 1 0 -4.6 0M244.5 300.9a2.3 2.3 0 1 0 4.6 0a2.3 2.3 0 1 0 -4.6 0M279.9 278.3a2.3 2.3 0 1 0 4.6 0a2.3 2.3 0 1 0 -4.6 0M261 288.1a2.3 2.3 0 1 0 4.6 0a2.3 2.3 0 1 0 -4.6 0M253 301.4a2.3 2.3 0 1 0 4.6 0a2.3 2.3 0 1 0 -4.6 0M259.7 279.5a2.3 2.3 0 1 0 4.6 0a2.3 2.3 0 1 0 -4.6 0M241.8 310.1a2.3 2.3 0 1 0 4.6 0a2.3 2.3 0 1 0 -4.6 0M289.8 288.7a2.3 2.3 0 1 0 4.6 0a2.3 2.3 0 1 0 -4.6 0M265.9 275.3a2.3 2.3 0 1 0 4.6 0a2.3 2.3 0 1 0 -4.6 0M290.5 274.3a2.3 2.3 0 1 0 4.6 0a2.3 2.3 0 1 0 -4.6 0M300.4 275.9a2.3 2.3 0 1 0 4.6 0a2.3 2.3 0 1 0 -4.6 0M280.4 288.6a2.3 2.3 0 1 0 4.6 0a2.3 2.3 0 1 0 -4.6 0M263.2 283.6a2.3 2.3 0 1 0 4.6 0a2.3 2.3 0 1 0 -4.6 0M248.3 291a2.3 2.3 0 1 0 4.6 0a2.3 2.3 0 1 0 -4.6 0M286.8 288a2.3 2.3 0 1 0 4.6 0a2.3 2.3 0 1 0 -4.6 0M289.7 283a2.3 2.3 0 1 0 4.6 0a2.3 2.3 0 1 0 -4.6 0M296.3 278.8a2.3 2.3 0 1 0 4.6 0a2.3 2.3 0 1 0 -4.6 0M247.8 290.3a2.3 2.3 0 1 0 4.6 0a2.3 2.3 0 1 0 -4.6 0M241.3 299.9a2.3 2.3 0 1 0 4.6 0a2.3 2.3 0 1 0 -4.6 0M304.8 276.5a2.3 2.3 0 1 0 4.6 0a2.3 2.3 0 1 0 -4.6 0M284.3 292.1a2.3 2.3 0 1 0 4.6 0a2.3 2.3 0 1 0 -4.6 0M245 319.4a2.3 2.3 0 1 0 4.6 0a2.3 2.3 0 1 0 -4.6 0M292.7 277.7a2.3 2.3 0 1 0 4.6 0a2.3 2.3 0 1 0 -4.6 0M241.7 306.5a2.3 2.3 0 1 0 4.6 0a2.3 2.3 0 1 0 -4.6 0M285.8 285.2a2.3 2.3 0 1 0 4.6 0a2.3 2.3 0 1 0 -4.6 0M280.3 272.5a2.3 2.3 0 1 0 4.6 0a2.3 2.3 0 1 0 -4.6 0M291.9 283.2a2.3 2.3 0 1 0 4.6 0a2.3 2.3 0 1 0 -4.6 0M244.7 289.5a2.3 2.3 0 1 0 4.6 0a2.3 2.3 0 1 0 -4.6 0M306.5 276a2.3 2.3 0 1 0 4.6 0a2.3 2.3 0 1 0 -4.6 0M308.8 284.6a2.3 2.3 0 1 0 4.6 0a2.3 2.3 0 1 0 -4.6 0M312 275.3a2.3 2.3 0 1 0 4.6 0a2.3 2.3 0 1 0 -4.6 0M295.6 283.5a2.3 2.3 0 1 0 4.6 0a2.3 2.3 0 1 0 -4.6 0M260.6 284.4a2.3 2.3 0 1 0 4.6 0a2.3 2.3 0 1 0 -4.6 0M312.2 290.7a2.3 2.3 0 1 0 4.6 0a2.3 2.3 0 1 0 -4.6 0M283.6 282.3a2.3 2.3 0 1 0 4.6 0a2.3 2.3 0 1 0 -4.6 0M293.3 275.5a2.3 2.3 0 1 0 4.6 0a2.3 2.3 0 1 0 -4.6 0M288.8 276.4a2.3 2.3 0 1 0 4.6 0a2.3 2.3 0 1 0 -4.6 0M253.9 283.9a2.3 2.3 0 1 0 4.6 0a2.3 2.3 0 1 0 -4.6 0M302.4 281.6a2.3 2.3 0 1 0 4.6 0a2.3 2.3 0 1 0 -4.6 0M286.5 282.5a2.3 2.3 0 1 0 4.6 0a2.3 2.3 0 1 0 -4.6 0" fill="#b71c1f"/>
<path d="M85 279 L85.5 279 L86 279 L86.5 279 L87 279 L87.5 279 L88 279 L88.5 279 L89 279 L89.5 279 L90 279 L90.5 279 L91 279 L91.5 279 L92 279 L92.5 279 L93 279 L93.5 279 L94 279 L94.5 279 L95 279 L95.5 279 L96 279 L96.5 279 L97 279 L97.5 279 L98 279 L98.5 279 L99 279 L99.5 279 L100 279 L100.5 279 L101 279 L101.5 279 L102 279 L102.5 279 L103 279 L103.5 279 L104 279 L104.5 279 L105 279 L105.5 279 L106 279 L106.5 279 L107 279 L107.5 279 L108 279 L108.5 279 L109 279 L109.5 279 L110 279 L110.5 279 L111 279 L111.5 279 L112 279 L112.5 279.1 L113 279.1 L113.5 279.1 L114 279.1 L114.5 279.2 L115 279.2 L115.5 279.3 L116 279.3 L116.5 279.4 L117 279.4 L117.5 279.5 L118 279.5 L118.5 279.6 L119 279.7 L119.5 279.8 L120 279.8 L120.5 279.9 L121 280 L121.5 280.1 L122 280.2 L122.5 280.3 L123 280.4 L123.5 280.5 L124 280.6 L124.5 280.7 L125 280.8 L125.5 280.9 L126 281 L126.5 281.1 L127 281.2 L127.5 281.4 L128 281.5 L128.5 281.6 L129 281.7 L129.5 281.9 L130 282 L130.5 282.2 L131 282.3 L131.5 282.6 L132 282.8 L132.5 283.2 L133 283.5 L133.5 283.8 L134 284.2 L134.5 284.7 L135 285.1 L135.5 285.6 L136 286.1 L136.5 286.6 L137 287.1 L137.5 287.6 L138 288.2 L138.5 288.7 L139 289.3 L139.5 289.8 L140 290.4 L140.5 291 L141 291.6 L141.5 292.2 L142 292.7 L142.5 293.3 L143 293.9 L143.5 294.4 L144 295 L144.5 295.5 L145 296 L145.5 296.5 L146 297.1 L146.5 297.7 L147 298.4 L147.5 299.1 L148 299.8 L148.5 300.5 L149 301.2 L149.5 302 L150 302.7 L150.5 303.4 L151 304.1 L151.5 304.7 L152 305.3 L152.5 305.9 L153 306.4 L153.5 306.9 L154 307.3 L154.5 307.6 L155 307.8 L155.5 307.9 L156 308 L156.5 308 L157 308 L157.5 307.9 L158 307.9 L158.5 307.9 L159 307.8 L159.5 307.7 L160 307.7 L160.5 307.6 L161 307.5 L161.5 307.4 L162 307.3 L162.5 307.2 L163 307.1 L163.5 306.9 L164 306.8 L164.5 306.7 L165 306.6 L165.5 306.4 L166 306.3 L166.5 306.1 L167 306 L167.5 305.8 L168 305.6 L168.5 305.3 L169 305 L169.5 304.7 L170 304.3 L170.5 303.9 L171 303.4 L171.5 303 L172 302.5 L172.5 302 L173 301.5 L173.5 301 L174 300.6 L174.5 300.1 L175 299.6 L175.5 299.2 L176 298.8 L176.5 298.4 L177 298.1 L177.5 297.8 L178 297.5 L178.5 297.3 L179 297.1 L179.5 297 L180 297 L180.5 297 L181 297 L181.5 297.1 L182 297.2 L182.5 297.2 L183 297.3 L183.5 297.4 L184 297.6 L184.5 297.7 L185 297.9 L185.5 298 L186 298.2 L186.5 298.4 L187 298.6 L187.5 298.8 L188 299 L188.5 299.3 L189 299.5 L189.5 299.8 L190 300 L190.5 300.3 L191 300.6 L191.5 301 L192 301.5 L192.5 302 L193 302.6 L193.5 303.2 L194 303.9 L194.5 304.6 L195 305.3 L195.5 306.2 L196 307 L196.5 308 L197 309.2 L197.5 310.7 L198 312.2 L198.5 313.9 L199 315.6 L199.5 317.3 L200 319 L200.5 320.6 L201 322.3 L201.5 324.1 L202 325.9 L202.5 327.7 L203 329.4 L203.5 331.2 L204 333 L204.5 334.8 L205 336.5 L205.5 338.2 L206 340 L206.5 341.8 L207 343.5 L207.5 345.2 L208 347 L208.5 348.8 L209 350.6 L209.5 352.5 L210 354.3 L210.5 356.1 L211 357.8 L211.5 359.5 L212 361 L212.5 362.5 L213 363.9 L213.5 365.4 L214 366.8 L214.5 368.1 L215 369.2 L215.5 370.2 L216 371 L216.5 371.7 L217 372.3 L217.5 372.8 L218 373 L218.5 372.9 L219 372.7 L219.5 372.3 L220 371.8 L220.5 371.2 L221 370.5 L221.5 369.8 L222 369 L222.5 367.9 L223 366.3 L223.5 364.4 L224 362.2 L224.5 359.8 L225 357.4 L225.5 355.1 L226 353 L226.5 351 L227 348.9 L227.5 346.9 L228 344.9 L228.5 342.8 L229 340.8 L229.5 338.9 L230 337 L230.5 335.1 L231 333.3 L231.5 331.4 L232 329.6 L232.5 327.8 L233 326.1 L233.5 324.5 L234 323 L234.5 321.6 L235 320.2 L235.5 318.8 L236 317.6 L236.5 316.3 L237 315.2 L237.5 314 L238 313 L238.5 312 L239 311.1 L239.5 310.2 L240 309.4 L240.5 308.6 L241 307.8 L241.5 307 L242 306.2 L242.5 305.5 L243 304.7 L243.5 303.9 L244 303 L244.5 302.1 L245 301.1 L245.5 300 L246 299 L246.5 297.9 L247 296.8 L247.5 295.8 L248 294.8 L248.5 293.9 L249 293.1 L249.5 292.5 L250 292 L250.5 291.6 L251 291.2 L251.5 290.9 L252 290.5 L252.5 290.2 L253 289.9 L253.5 289.6 L254 289.3 L254.5 289.1 L255 288.8 L255.5 288.6 L256 288.4 L256.5 288.2 L257 288 L257.5 287.8 L258 287.6 L258.5 287.5 L259 287.3 L259.5 287.1 L260 287 L260.5 286.9 L261 286.7 L261.5 286.6 L262 286.4 L262.5 286.3 L263 286.2 L263.5 286.1 L264 286 L264.5 285.8 L265 285.7 L265.5 285.6 L266 285.5 L266.5 285.4 L267 285.3 L267.5 285.2 L268 285.1 L268.5 285.1 L269 285 L269.5 284.9 L270 284.8 L270.5 284.7 L271 284.6 L271.5 284.5 L272 284.5 L272.5 284.4 L273 284.3 L273.5 284.2 L274 284.2 L274.5 284.1 L275 284 L275.5 283.9 L276 283.8 L276.5 283.8 L277 283.7 L277.5 283.6 L278 283.6 L278.5 283.5 L279 283.4 L279.5 283.3 L280 283.3 L280.5 283.2 L281 283.1 L281.5 283.1 L282 283 L282.5 283 L283 282.9 L283.5 282.8 L284 282.8 L284.5 282.7 L285 282.6 L285.5 282.6 L286 282.5 L286.5 282.5 L287 282.4 L287.5 282.3 L288 282.3 L288.5 282.2 L289 282.2 L289.5 282.1 L290 282.1 L290.5 282 L291 282 L291.5 281.9 L292 281.8 L292.5 281.8 L293 281.7 L293.5 281.7 L294 281.6 L294.5 281.6 L295 281.5 L295.5 281.5 L296 281.4 L296.5 281.4 L297 281.3 L297.5 281.3 L298 281.2 L298.5 281.2 L299 281.1 L299.5 281.1 L300 281 L300.5 280.9 L301 280.9 L301.5 280.8 L302 280.8 L302.5 280.7 L303 280.7 L303.5 280.6 L304 280.6 L304.5 280.5 L305 280.5 L305.5 280.4 L306 280.4 L306.5 280.4 L307 280.3 L307.5 280.3 L308 280.2 L308.5 280.2 L309 280.1 L309.5 280.1 L310 280 L310.5 280 L311 279.9 L311.5 279.9 L312 279.8 L312.5 279.8 L313 279.8 L313.5 279.7 L314 279.7 L314.5 279.6 L315 279.6 L315.5 279.5 L316 279.5" fill="none" stroke="#b81c1c" stroke-width="1.8" stroke-linejoin="round"/></g>
<g clip-path="url(#cd)"><rect x="129.3" y="385.7" width="1.4" height="124.8" fill="#7d8286"/>
<path d="M100.8 404.2h3.8v3.8h-3.8zM97.7 392.5h3.8v3.8h-3.8zM99.1 401.2h3.8v3.8h-3.8zM106.9 403.8h3.8v3.8h-3.8zM104.8 405h3.8v3.8h-3.8zM79.3 396.6h3.8v3.8h-3.8zM108.6 400.9h3.8v3.8h-3.8zM90.7 395.5h3.8v3.8h-3.8zM92.5 393h3.8v3.8h-3.8zM80.5 392.1h3.8v3.8h-3.8zM86 394.3h3.8v3.8h-3.8zM92.3 395.5h3.8v3.8h-3.8zM71.5 400.9h3.8v3.8h-3.8zM99.1 393.4h3.8v3.8h-3.8zM84.9 396.4h3.8v3.8h-3.8zM97.8 395.9h3.8v3.8h-3.8zM99.2 405.7h3.8v3.8h-3.8zM95.7 399.2h3.8v3.8h-3.8zM72.8 394.2h3.8v3.8h-3.8zM92.3 401.3h3.8v3.8h-3.8zM83.6 397h3.8v3.8h-3.8zM99.2 396.7h3.8v3.8h-3.8zM98.7 405.7h3.8v3.8h-3.8zM90.4 400.5h3.8v3.8h-3.8zM99.4 406.8h3.8v3.8h-3.8zM75.8 401.2h3.8v3.8h-3.8zM102.3 403.6h3.8v3.8h-3.8zM108.5 404.2h3.8v3.8h-3.8zM106.3 396.8h3.8v3.8h-3.8zM102.6 403.2h3.8v3.8h-3.8zM87.1 397.2h3.8v3.8h-3.8zM107 405.5h3.8v3.8h-3.8zM92.3 397.7h3.8v3.8h-3.8zM78.2 410.3h3.8v3.8h-3.8zM92.5 393.1h3.8v3.8h-3.8zM103.5 403.8h3.8v3.8h-3.8zM134 453.7h3.8v3.8h-3.8zM136.7 414.1h3.8v3.8h-3.8zM105.9 402.2h3.8v3.8h-3.8zM135.9 426.2h3.8v3.8h-3.8zM147.5 402.5h3.8v3.8h-3.8zM125.2 459.1h3.8v3.8h-3.8zM126.7 462.8h3.8v3.8h-3.8zM144 403.8h3.8v3.8h-3.8zM124.4 454.2h3.8v3.8h-3.8zM123.6 451.2h3.8v3.8h-3.8zM137.9 416.4h3.8v3.8h-3.8zM123.9 467.9h3.8v3.8h-3.8zM133.2 445.4h3.8v3.8h-3.8zM119.7 438.9h3.8v3.8h-3.8zM136.4 442.9h3.8v3.8h-3.8zM126.3 448.7h3.8v3.8h-3.8zM138.5 423.9h3.8v3.8h-3.8zM130 468.7h3.8v3.8h-3.8zM141.4 403.4h3.8v3.8h-3.8zM133 460.8h3.8v3.8h-3.8zM137.6 412.7h3.8v3.8h-3.8zM126.8 462.2h3.8v3.8h-3.8zM132.6 441.7h3.8v3.8h-3.8zM120.4 438.1h3.8v3.8h-3.8zM133 455.7h3.8v3.8h-3.8zM136.7 445.1h3.8v3.8h-3.8zM119.1 427h3.8v3.8h-3.8zM134.9 461.3h3.8v3.8h-3.8zM146.7 409.3h3.8v3.8h-3.8zM117.5 429.5h3.8v3.8h-3.8zM128.1 469.5h3.8v3.8h-3.8zM135.5 421.3h3.8v3.8h-3.8zM125.2 459.1h3.8v3.8h-3.8zM108.7 405.9h3.8v3.8h-3.8zM130.7 465.2h3.8v3.8h-3.8zM128.2 465.3h3.8v3.8h-3.8zM144.3 407.1h3.8v3.8h-3.8zM134.3 443.7h3.8v3.8h-3.8zM135.8 427.2h3.8v3.8h-3.8zM124 451.9h3.8v3.8h-3.8zM140.6 412.9h3.8v3.8h-3.8zM137.6 420h3.8v3.8h-3.8zM114.4 412.3h3.8v3.8h-3.8zM134.6 434.7h3.8v3.8h-3.8zM138.9 410.3h3.8v3.8h-3.8zM134.9 448.4h3.8v3.8h-3.8zM149.3 403.4h3.8v3.8h-3.8zM121.5 436.9h3.8v3.8h-3.8zM130.1 454.9h3.8v3.8h-3.8zM133.2 462.1h3.8v3.8h-3.8zM133.3 457.3h3.8v3.8h-3.8zM129 451.3h3.8v3.8h-3.8zM130.6 461.5h3.8v3.8h-3.8zM125.2 451.5h3.8v3.8h-3.8zM132.7 461.5h3.8v3.8h-3.8zM124.9 429.1h3.8v3.8h-3.8zM128.7 480.5h3.8v3.8h-3.8zM121 432.8h3.8v3.8h-3.8zM125.5 441.8h3.8v3.8h-3.8zM130.3 483.9h3.8v3.8h-3.8zM126.3 443.7h3.8v3.8h-3.8zM126.3 467.5h3.8v3.8h-3.8zM131.5 458.5h3.8v3.8h-3.8zM127.9 457.8h3.8v3.8h-3.8zM133.4 442.5h3.8v3.8h-3.8zM118.1 459.8h3.8v3.8h-3.8zM130.6 449.7h3.8v3.8h-3.8zM130.3 475.5h3.8v3.8h-3.8zM121.7 482.1h3.8v3.8h-3.8zM122.8 447.4h3.8v3.8h-3.8zM131.9 423h3.8v3.8h-3.8zM123.7 481.9h3.8v3.8h-3.8zM125.5 429.2h3.8v3.8h-3.8zM130.7 466.2h3.8v3.8h-3.8zM126.8 448.5h3.8v3.8h-3.8zM130.2 473h3.8v3.8h-3.8zM124.6 445.7h3.8v3.8h-3.8zM129.4 463h3.8v3.8h-3.8zM132.7 438.1h3.8v3.8h-3.8zM129.5 472.4h3.8v3.8h-3.8zM119 469.3h3.8v3.8h-3.8zM130.9 450.4h3.8v3.8h-3.8zM128.4 480.8h3.8v3.8h-3.8zM124.4 424.1h3.8v3.8h-3.8zM134 451.7h3.8v3.8h-3.8zM120.9 424.3h3.8v3.8h-3.8zM136 477.5h3.8v3.8h-3.8zM125.5 444.4h3.8v3.8h-3.8zM134.8 476.4h3.8v3.8h-3.8zM128 481.7h3.8v3.8h-3.8zM122.6 462.6h3.8v3.8h-3.8zM128.6 460.8h3.8v3.8h-3.8zM129.6 455.1h3.8v3.8h-3.8zM130.4 461.1h3.8v3.8h-3.8zM132.6 476.7h3.8v3.8h-3.8zM124.4 446.4h3.8v3.8h-3.8zM130.2 473h3.8v3.8h-3.8zM131.3 471.7h3.8v3.8h-3.8zM166.4 394h3.8v3.8h-3.8zM163.5 404.4h3.8v3.8h-3.8zM152.5 397.3h3.8v3.8h-3.8zM149.4 404.9h3.8v3.8h-3.8zM155.8 399.1h3.8v3.8h-3.8zM153.5 403.6h3.8v3.8h-3.8zM156.4 389.6h3.8v3.8h-3.8zM155.8 406.5h3.8v3.8h-3.8zM170.4 396h3.8v3.8h-3.8zM160.2 392.9h3.8v3.8h-3.8zM174.9 397.1h3.8v3.8h-3.8zM161.1 406.6h3.8v3.8h-3.8zM154.4 400.7h3.8v3.8h-3.8zM177.6 391.6h3.8v3.8h-3.8zM166.8 395.3h3.8v3.8h-3.8zM174.3 401.9h3.8v3.8h-3.8zM151.7 393.7h3.8v3.8h-3.8zM179.4 389.1h3.8v3.8h-3.8zM166.9 396h3.8v3.8h-3.8zM156.3 406.8h3.8v3.8h-3.8zM151.7 397.9h3.8v3.8h-3.8zM147.2 407h3.8v3.8h-3.8zM144.4 402.2h3.8v3.8h-3.8zM150.5 396.4h3.8v3.8h-3.8zM154.7 402.6h3.8v3.8h-3.8zM163.5 400h3.8v3.8h-3.8zM157.2 391.2h3.8v3.8h-3.8zM145.3 406.7h3.8v3.8h-3.8zM148 402.9h3.8v3.8h-3.8zM144.1 403.2h3.8v3.8h-3.8zM145.2 405.3h3.8v3.8h-3.8zM153.4 399.7h3.8v3.8h-3.8zM166.9 395.2h3.8v3.8h-3.8zM148.6 397.9h3.8v3.8h-3.8zM175.6 393.9h3.8v3.8h-3.8z" fill="#000"/>
<path d="M72 398 L72.5 398 L73 398 L73.5 398 L74 398 L74.5 398 L75 398 L75.5 398.1 L76 398.1 L76.5 398.1 L77 398.1 L77.5 398.1 L78 398.2 L78.5 398.2 L79 398.2 L79.5 398.2 L80 398.3 L80.5 398.3 L81 398.3 L81.5 398.4 L82 398.4 L82.5 398.5 L83 398.5 L83.5 398.5 L84 398.6 L84.5 398.6 L85 398.7 L85.5 398.7 L86 398.8 L86.5 398.8 L87 398.9 L87.5 398.9 L88 399 L88.5 399.1 L89 399.1 L89.5 399.2 L90 399.2 L90.5 399.3 L91 399.3 L91.5 399.4 L92 399.5 L92.5 399.5 L93 399.6 L93.5 399.7 L94 399.7 L94.5 399.8 L95 399.9 L95.5 399.9 L96 400 L96.5 400.1 L97 400.2 L97.5 400.2 L98 400.3 L98.5 400.4 L99 400.6 L99.5 400.7 L100 400.8 L100.5 400.9 L101 401.1 L101.5 401.2 L102 401.4 L102.5 401.5 L103 401.7 L103.5 401.8 L104 402 L104.5 402.2 L105 402.4 L105.5 402.6 L106 402.8 L106.5 403 L107 403.2 L107.5 403.5 L108 403.8 L108.5 404.1 L109 404.4 L109.5 404.7 L110 405.1 L110.5 405.5 L111 405.9 L111.5 406.4 L112 407 L112.5 407.6 L113 408.3 L113.5 409 L114 409.8 L114.5 410.6 L115 411.5 L115.5 412.4 L116 413.4 L116.5 414.4 L117 415.4 L117.5 416.5 L118 417.7 L118.5 419.1 L119 420.6 L119.5 422.2 L120 424 L120.5 425.8 L121 427.7 L121.5 429.7 L122 432 L122.5 434.6 L123 437.3 L123.5 440.2 L124 443 L124.5 445.9 L125 449 L125.5 452.1 L126 455.1 L126.5 457.9 L127 460.5 L127.5 463 L128 465.3 L128.5 467 L129 468.4 L129.5 469.7 L130 470.6 L130.5 471 L131 470.7 L131.5 469.9 L132 468.7 L132.5 467.3 L133 465.5 L133.5 462.8 L134 459.5 L134.5 455.9 L135 452.3 L135.5 448.8 L136 445.1 L136.5 441.2 L137 437 L137.5 432 L138 426.7 L138.5 422.9 L139 420.8 L139.5 419.2 L140 417.7 L140.5 416.5 L141 415.4 L141.5 414.4 L142 413.6 L142.5 412.8 L143 411.9 L143.5 411.1 L144 410.3 L144.5 409.5 L145 408.7 L145.5 407.9 L146 407.2 L146.5 406.5 L147 405.8 L147.5 405.1 L148 404.5 L148.5 404 L149 403.5 L149.5 403 L150 402.6 L150.5 402.3 L151 402.1 L151.5 401.9 L152 401.7 L152.5 401.6 L153 401.4 L153.5 401.3 L154 401.2 L154.5 401 L155 400.9 L155.5 400.8 L156 400.7 L156.5 400.6 L157 400.5 L157.5 400.4 L158 400.3 L158.5 400.3 L159 400.2 L159.5 400.1 L160 400 L160.5 400 L161 399.9 L161.5 399.9 L162 399.8 L162.5 399.7 L163 399.7 L163.5 399.6 L164 399.6 L164.5 399.5 L165 399.5 L165.5 399.5 L166 399.4 L166.5 399.4 L167 399.3 L167.5 399.3 L168 399.2 L168.5 399.2 L169 399.1 L169.5 399.1 L170 399.1 L170.5 399 L171 399 L171.5 399 L172 398.9 L172.5 398.9 L173 398.8 L173.5 398.8 L174 398.8 L174.5 398.7 L175 398.7 L175.5 398.7 L176 398.7 L176.5 398.6 L177 398.6 L177.5 398.6 L178 398.6 L178.5 398.6 L179 398.5 L179.5 398.5 L180 398.5 L180.5 398.5 L181 398.5 L181.5 398.5 L182 398.5" fill="none" stroke="#000" stroke-width="1.5" stroke-linejoin="round"/>
<path d="M146.2 404.9a2.3 2.3 0 1 0 4.6 0a2.3 2.3 0 1 0 -4.6 0M150.6 399.8a2.3 2.3 0 1 0 4.6 0a2.3 2.3 0 1 0 -4.6 0M150.3 399.7a2.3 2.3 0 1 0 4.6 0a2.3 2.3 0 1 0 -4.6 0M157.9 407.7a2.3 2.3 0 1 0 4.6 0a2.3 2.3 0 1 0 -4.6 0M148.8 396.4a2.3 2.3 0 1 0 4.6 0a2.3 2.3 0 1 0 -4.6 0M147.7 400.9a2.3 2.3 0 1 0 4.6 0a2.3 2.3 0 1 0 -4.6 0M145 392.8a2.3 2.3 0 1 0 4.6 0a2.3 2.3 0 1 0 -4.6 0M148.4 399.5a2.3 2.3 0 1 0 4.6 0a2.3 2.3 0 1 0 -4.6 0M151.5 398.3a2.3 2.3 0 1 0 4.6 0a2.3 2.3 0 1 0 -4.6 0M161.6 402.1a2.3 2.3 0 1 0 4.6 0a2.3 2.3 0 1 0 -4.6 0M127.3 402.9a2.3 2.3 0 1 0 4.6 0a2.3 2.3 0 1 0 -4.6 0M148.1 397.9a2.3 2.3 0 1 0 4.6 0a2.3 2.3 0 1 0 -4.6 0M124.7 398.7a2.3 2.3 0 1 0 4.6 0a2.3 2.3 0 1 0 -4.6 0M129.1 399.2a2.3 2.3 0 1 0 4.6 0a2.3 2.3 0 1 0 -4.6 0M160 402.1a2.3 2.3 0 1 0 4.6 0a2.3 2.3 0 1 0 -4.6 0M136.4 406.9a2.3 2.3 0 1 0 4.6 0a2.3 2.3 0 1 0 -4.6 0M144.2 398.7a2.3 2.3 0 1 0 4.6 0a2.3 2.3 0 1 0 -4.6 0M128.5 401.2a2.3 2.3 0 1 0 4.6 0a2.3 2.3 0 1 0 -4.6 0M141.2 395a2.3 2.3 0 1 0 4.6 0a2.3 2.3 0 1 0 -4.6 0M119.8 398.2a2.3 2.3 0 1 0 4.6 0a2.3 2.3 0 1 0 -4.6 0M143.9 399.5a2.3 2.3 0 1 0 4.6 0a2.3 2.3 0 1 0 -4.6 0M160.9 405a2.3 2.3 0 1 0 4.6 0a2.3 2.3 0 1 0 -4.6 0M149 398.7a2.3 2.3 0 1 0 4.6 0a2.3 2.3 0 1 0 -4.6 0M148.4 401.8a2.3 2.3 0 1 0 4.6 0a2.3 2.3 0 1 0 -4.6 0M143 407.8a2.3 2.3 0 1 0 4.6 0a2.3 2.3 0 1 0 -4.6 0M133.3 399.9a2.3 2.3 0 1 0 4.6 0a2.3 2.3 0 1 0 -4.6 0M152.8 401a2.3 2.3 0 1 0 4.6 0a2.3 2.3 0 1 0 -4.6 0M135.6 398.8a2.3 2.3 0 1 0 4.6 0a2.3 2.3 0 1 0 -4.6 0M133.3 411.7a2.3 2.3 0 1 0 4.6 0a2.3 2.3 0 1 0 -4.6 0M143.4 408a2.3 2.3 0 1 0 4.6 0a2.3 2.3 0 1 0 -4.6 0M161.7 409.9a2.3 2.3 0 1 0 4.6 0a2.3 2.3 0 1 0 -4.6 0M150.8 404.5a2.3 2.3 0 1 0 4.6 0a2.3 2.3 0 1 0 -4.6 0M148.6 398.1a2.3 2.3 0 1 0 4.6 0a2.3 2.3 0 1 0 -4.6 0M125.5 399.6a2.3 2.3 0 1 0 4.6 0a2.3 2.3 0 1 0 -4.6 0M155.3 402.9a2.3 2.3 0 1 0 4.6 0a2.3 2.3 0 1 0 -4.6 0M137.4 401.1a2.3 2.3 0 1 0 4.6 0a2.3 2.3 0 1 0 -4.6 0M147 397.3a2.3 2.3 0 1 0 4.6 0a2.3 2.3 0 1 0 -4.6 0M144.8 397.5a2.3 2.3 0 1 0 4.6 0a2.3 2.3 0 1 0 -4.6 0M153.5 404a2.3 2.3 0 1 0 4.6 0a2.3 2.3 0 1 0 -4.6 0M121.8 401.6a2.3 2.3 0 1 0 4.6 0a2.3 2.3 0 1 0 -4.6 0M122.6 391a2.3 2.3 0 1 0 4.6 0a2.3 2.3 0 1 0 -4.6 0M132.5 400.8a2.3 2.3 0 1 0 4.6 0a2.3 2.3 0 1 0 -4.6 0M128.4 411.2a2.3 2.3 0 1 0 4.6 0a2.3 2.3 0 1 0 -4.6 0M148.1 398.4a2.3 2.3 0 1 0 4.6 0a2.3 2.3 0 1 0 -4.6 0M125.1 401.3a2.3 2.3 0 1 0 4.6 0a2.3 2.3 0 1 0 -4.6 0M190 409.1a2.3 2.3 0 1 0 4.6 0a2.3 2.3 0 1 0 -4.6 0M167.8 432.8a2.3 2.3 0 1 0 4.6 0a2.3 2.3 0 1 0 -4.6 0M164.5 410.6a2.3 2.3 0 1 0 4.6 0a2.3 2.3 0 1 0 -4.6 0M179.8 447.8a2.3 2.3 0 1 0 4.6 0a2.3 2.3 0 1 0 -4.6 0M165.5 418.1a2.3 2.3 0 1 0 4.6 0a2.3 2.3 0 1 0 -4.6 0M179.1 458.8a2.3 2.3 0 1 0 4.6 0a2.3 2.3 0 1 0 -4.6 0M172.2 436.6a2.3 2.3 0 1 0 4.6 0a2.3 2.3 0 1 0 -4.6 0M165 411.2a2.3 2.3 0 1 0 4.6 0a2.3 2.3 0 1 0 -4.6 0M180.8 446.9a2.3 2.3 0 1 0 4.6 0a2.3 2.3 0 1 0 -4.6 0M181 431.8a2.3 2.3 0 1 0 4.6 0a2.3 2.3 0 1 0 -4.6 0M169.6 443.9a2.3 2.3 0 1 0 4.6 0a2.3 2.3 0 1 0 -4.6 0M169 431.7a2.3 2.3 0 1 0 4.6 0a2.3 2.3 0 1 0 -4.6 0M192.1 407.5a2.3 2.3 0 1 0 4.6 0a2.3 2.3 0 1 0 -4.6 0M169.9 432.3a2.3 2.3 0 1 0 4.6 0a2.3 2.3 0 1 0 -4.6 0M169.1 435.1a2.3 2.3 0 1 0 4.6 0a2.3 2.3 0 1 0 -4.6 0M168.6 449.7a2.3 2.3 0 1 0 4.6 0a2.3 2.3 0 1 0 -4.6 0M170.6 433.2a2.3 2.3 0 1 0 4.6 0a2.3 2.3 0 1 0 -4.6 0M170.1 435a2.3 2.3 0 1 0 4.6 0a2.3 2.3 0 1 0 -4.6 0M184.1 409.5a2.3 2.3 0 1 0 4.6 0a2.3 2.3 0 1 0 -4.6 0M165.7 417.8a2.3 2.3 0 1 0 4.6 0a2.3 2.3 0 1 0 -4.6 0M183.8 423.5a2.3 2.3 0 1 0 4.6 0a2.3 2.3 0 1 0 -4.6 0M175.9 462.8a2.3 2.3 0 1 0 4.6 0a2.3 2.3 0 1 0 -4.6 0M164.7 408.4a2.3 2.3 0 1 0 4.6 0a2.3 2.3 0 1 0 -4.6 0M169 421.6a2.3 2.3 0 1 0 4.6 0a2.3 2.3 0 1 0 -4.6 0M175.8 445.1a2.3 2.3 0 1 0 4.6 0a2.3 2.3 0 1 0 -4.6 0M176 453.4a2.3 2.3 0 1 0 4.6 0a2.3 2.3 0 1 0 -4.6 0M170.3 435.2a2.3 2.3 0 1 0 4.6 0a2.3 2.3 0 1 0 -4.6 0M171.9 439.7a2.3 2.3 0 1 0 4.6 0a2.3 2.3 0 1 0 -4.6 0M189.1 411.3a2.3 2.3 0 1 0 4.6 0a2.3 2.3 0 1 0 -4.6 0M176.6 435a2.3 2.3 0 1 0 4.6 0a2.3 2.3 0 1 0 -4.6 0M178.4 443.9a2.3 2.3 0 1 0 4.6 0a2.3 2.3 0 1 0 -4.6 0M187.7 415.6a2.3 2.3 0 1 0 4.6 0a2.3 2.3 0 1 0 -4.6 0M171.4 434.7a2.3 2.3 0 1 0 4.6 0a2.3 2.3 0 1 0 -4.6 0M173.8 443.4a2.3 2.3 0 1 0 4.6 0a2.3 2.3 0 1 0 -4.6 0M181 424a2.3 2.3 0 1 0 4.6 0a2.3 2.3 0 1 0 -4.6 0M172.3 456.9a2.3 2.3 0 1 0 4.6 0a2.3 2.3 0 1 0 -4.6 0M171.2 460.2a2.3 2.3 0 1 0 4.6 0a2.3 2.3 0 1 0 -4.6 0M183.3 423.5a2.3 2.3 0 1 0 4.6 0a2.3 2.3 0 1 0 -4.6 0M190.2 403.8a2.3 2.3 0 1 0 4.6 0a2.3 2.3 0 1 0 -4.6 0M186.5 418.7a2.3 2.3 0 1 0 4.6 0a2.3 2.3 0 1 0 -4.6 0M182.5 429.4a2.3 2.3 0 1 0 4.6 0a2.3 2.3 0 1 0 -4.6 0M173.9 448.5a2.3 2.3 0 1 0 4.6 0a2.3 2.3 0 1 0 -4.6 0M175.5 438.2a2.3 2.3 0 1 0 4.6 0a2.3 2.3 0 1 0 -4.6 0M167.9 432.3a2.3 2.3 0 1 0 4.6 0a2.3 2.3 0 1 0 -4.6 0M171 438.9a2.3 2.3 0 1 0 4.6 0a2.3 2.3 0 1 0 -4.6 0M166.3 429.2a2.3 2.3 0 1 0 4.6 0a2.3 2.3 0 1 0 -4.6 0M178.5 439.2a2.3 2.3 0 1 0 4.6 0a2.3 2.3 0 1 0 -4.6 0M187.8 410.8a2.3 2.3 0 1 0 4.6 0a2.3 2.3 0 1 0 -4.6 0M182 429.4a2.3 2.3 0 1 0 4.6 0a2.3 2.3 0 1 0 -4.6 0M170.4 437.2a2.3 2.3 0 1 0 4.6 0a2.3 2.3 0 1 0 -4.6 0M179 446a2.3 2.3 0 1 0 4.6 0a2.3 2.3 0 1 0 -4.6 0M170.3 448.3a2.3 2.3 0 1 0 4.6 0a2.3 2.3 0 1 0 -4.6 0M182.3 423.1a2.3 2.3 0 1 0 4.6 0a2.3 2.3 0 1 0 -4.6 0M174.1 463.4a2.3 2.3 0 1 0 4.6 0a2.3 2.3 0 1 0 -4.6 0M170.9 434.1a2.3 2.3 0 1 0 4.6 0a2.3 2.3 0 1 0 -4.6 0M177.9 467.3a2.3 2.3 0 1 0 4.6 0a2.3 2.3 0 1 0 -4.6 0M172.7 459.9a2.3 2.3 0 1 0 4.6 0a2.3 2.3 0 1 0 -4.6 0M180.9 469.3a2.3 2.3 0 1 0 4.6 0a2.3 2.3 0 1 0 -4.6 0M179.7 470.1a2.3 2.3 0 1 0 4.6 0a2.3 2.3 0 1 0 -4.6 0M179.7 468.3a2.3 2.3 0 1 0 4.6 0a2.3 2.3 0 1 0 -4.6 0M178.3 458.8a2.3 2.3 0 1 0 4.6 0a2.3 2.3 0 1 0 -4.6 0M171.4 472.7a2.3 2.3 0 1 0 4.6 0a2.3 2.3 0 1 0 -4.6 0M179 468.7a2.3 2.3 0 1 0 4.6 0a2.3 2.3 0 1 0 -4.6 0M170.5 470a2.3 2.3 0 1 0 4.6 0a2.3 2.3 0 1 0 -4.6 0M170 472a2.3 2.3 0 1 0 4.6 0a2.3 2.3 0 1 0 -4.6 0M175.8 477a2.3 2.3 0 1 0 4.6 0a2.3 2.3 0 1 0 -4.6 0M170.5 467.1a2.3 2.3 0 1 0 4.6 0a2.3 2.3 0 1 0 -4.6 0M169.7 477.2a2.3 2.3 0 1 0 4.6 0a2.3 2.3 0 1 0 -4.6 0M177.2 461.7a2.3 2.3 0 1 0 4.6 0a2.3 2.3 0 1 0 -4.6 0M183.3 467.5a2.3 2.3 0 1 0 4.6 0a2.3 2.3 0 1 0 -4.6 0M168.6 461.7a2.3 2.3 0 1 0 4.6 0a2.3 2.3 0 1 0 -4.6 0M202.6 391a2.3 2.3 0 1 0 4.6 0a2.3 2.3 0 1 0 -4.6 0M223.4 403.1a2.3 2.3 0 1 0 4.6 0a2.3 2.3 0 1 0 -4.6 0M226 396.6a2.3 2.3 0 1 0 4.6 0a2.3 2.3 0 1 0 -4.6 0M206.3 404.2a2.3 2.3 0 1 0 4.6 0a2.3 2.3 0 1 0 -4.6 0M198.6 401.9a2.3 2.3 0 1 0 4.6 0a2.3 2.3 0 1 0 -4.6 0M200.2 401.3a2.3 2.3 0 1 0 4.6 0a2.3 2.3 0 1 0 -4.6 0M222.9 400.1a2.3 2.3 0 1 0 4.6 0a2.3 2.3 0 1 0 -4.6 0M204.8 402.7a2.3 2.3 0 1 0 4.6 0a2.3 2.3 0 1 0 -4.6 0M195.5 397.7a2.3 2.3 0 1 0 4.6 0a2.3 2.3 0 1 0 -4.6 0M219.8 402.6a2.3 2.3 0 1 0 4.6 0a2.3 2.3 0 1 0 -4.6 0M207.2 394.7a2.3 2.3 0 1 0 4.6 0a2.3 2.3 0 1 0 -4.6 0M204.6 400.5a2.3 2.3 0 1 0 4.6 0a2.3 2.3 0 1 0 -4.6 0M222.7 408.4a2.3 2.3 0 1 0 4.6 0a2.3 2.3 0 1 0 -4.6 0M215.6 398a2.3 2.3 0 1 0 4.6 0a2.3 2.3 0 1 0 -4.6 0M188.3 416.5a2.3 2.3 0 1 0 4.6 0a2.3 2.3 0 1 0 -4.6 0M224.2 395.5a2.3 2.3 0 1 0 4.6 0a2.3 2.3 0 1 0 -4.6 0M206.3 402.1a2.3 2.3 0 1 0 4.6 0a2.3 2.3 0 1 0 -4.6 0M195 403.7a2.3 2.3 0 1 0 4.6 0a2.3 2.3 0 1 0 -4.6 0M223.5 391a2.3 2.3 0 1 0 4.6 0a2.3 2.3 0 1 0 -4.6 0M203.7 395.9a2.3 2.3 0 1 0 4.6 0a2.3 2.3 0 1 0 -4.6 0M213.8 393.9a2.3 2.3 0 1 0 4.6 0a2.3 2.3 0 1 0 -4.6 0M216.8 399.1a2.3 2.3 0 1 0 4.6 0a2.3 2.3 0 1 0 -4.6 0M195.3 396.2a2.3 2.3 0 1 0 4.6 0a2.3 2.3 0 1 0 -4.6 0M225.6 393.3a2.3 2.3 0 1 0 4.6 0a2.3 2.3 0 1 0 -4.6 0M209.7 401.4a2.3 2.3 0 1 0 4.6 0a2.3 2.3 0 1 0 -4.6 0M190.2 404.5a2.3 2.3 0 1 0 4.6 0a2.3 2.3 0 1 0 -4.6 0M208.9 394.9a2.3 2.3 0 1 0 4.6 0a2.3 2.3 0 1 0 -4.6 0M187.9 404a2.3 2.3 0 1 0 4.6 0a2.3 2.3 0 1 0 -4.6 0M224.8 397.7a2.3 2.3 0 1 0 4.6 0a2.3 2.3 0 1 0 -4.6 0M213.6 396.4a2.3 2.3 0 1 0 4.6 0a2.3 2.3 0 1 0 -4.6 0M202.1 400.7a2.3 2.3 0 1 0 4.6 0a2.3 2.3 0 1 0 -4.6 0M219 396.6a2.3 2.3 0 1 0 4.6 0a2.3 2.3 0 1 0 -4.6 0M219.4 405.6a2.3 2.3 0 1 0 4.6 0a2.3 2.3 0 1 0 -4.6 0M215.8 395.9a2.3 2.3 0 1 0 4.6 0a2.3 2.3 0 1 0 -4.6 0M197 393.6a2.3 2.3 0 1 0 4.6 0a2.3 2.3 0 1 0 -4.6 0" fill="#b71c1f"/>
<path d="M122 400.4 L122.5 400.4 L123 400.4 L123.5 400.4 L124 400.4 L124.5 400.4 L125 400.4 L125.5 400.4 L126 400.4 L126.5 400.4 L127 400.4 L127.5 400.4 L128 400.4 L128.5 400.4 L129 400.4 L129.5 400.5 L130 400.5 L130.5 400.5 L131 400.5 L131.5 400.5 L132 400.5 L132.5 400.5 L133 400.5 L133.5 400.5 L134 400.5 L134.5 400.6 L135 400.6 L135.5 400.6 L136 400.6 L136.5 400.6 L137 400.6 L137.5 400.6 L138 400.7 L138.5 400.7 L139 400.7 L139.5 400.7 L140 400.7 L140.5 400.8 L141 400.8 L141.5 400.8 L142 400.8 L142.5 400.8 L143 400.9 L143.5 400.9 L144 400.9 L144.5 400.9 L145 401 L145.5 401 L146 401 L146.5 401.1 L147 401.1 L147.5 401.1 L148 401.2 L148.5 401.2 L149 401.2 L149.5 401.3 L150 401.3 L150.5 401.3 L151 401.4 L151.5 401.4 L152 401.4 L152.5 401.5 L153 401.5 L153.5 401.6 L154 401.6 L154.5 401.7 L155 401.7 L155.5 401.8 L156 401.9 L156.5 402 L157 402.2 L157.5 402.5 L158 402.7 L158.5 403 L159 403.3 L159.5 403.7 L160 404 L160.5 404.4 L161 404.8 L161.5 405.2 L162 405.6 L162.5 406 L163 406.5 L163.5 407 L164 407.6 L164.5 408.3 L165 409 L165.5 409.8 L166 410.7 L166.5 411.7 L167 412.9 L167.5 414.3 L168 415.8 L168.5 417.6 L169 419.4 L169.5 421.4 L170 423.6 L170.5 426.2 L171 429.4 L171.5 432.8 L172 436.4 L172.5 440.3 L173 444.5 L173.5 448.5 L174 451.9 L174.5 454.8 L175 457.8 L175.5 460.6 L176 462.9 L176.5 464.4 L177 465 L177.5 464.2 L178 462.2 L178.5 459.2 L179 455.9 L179.5 452.4 L180 449.3 L180.5 446.4 L181 443.2 L181.5 440 L182 436.8 L182.5 433.9 L183 431.3 L183.5 428.9 L184 426.6 L184.5 424.4 L185 422.3 L185.5 420.4 L186 418.7 L186.5 417.2 L187 415.9 L187.5 414.8 L188 413.8 L188.5 412.9 L189 412 L189.5 411.1 L190 410.4 L190.5 409.6 L191 409 L191.5 408.4 L192 407.8 L192.5 407.3 L193 406.9 L193.5 406.5 L194 406.1 L194.5 405.7 L195 405.3 L195.5 404.9 L196 404.6 L196.5 404.2 L197 403.9 L197.5 403.6 L198 403.3 L198.5 403 L199 402.7 L199.5 402.4 L200 402.2 L200.5 401.9 L201 401.7 L201.5 401.5 L202 401.3 L202.5 401.1 L203 400.9 L203.5 400.8 L204 400.6 L204.5 400.5 L205 400.4 L205.5 400.3 L206 400.2 L206.5 400.1 L207 400 L207.5 399.9 L208 399.8 L208.5 399.7 L209 399.6 L209.5 399.5 L210 399.4 L210.5 399.3 L211 399.2 L211.5 399.1 L212 399.1 L212.5 399 L213 398.9 L213.5 398.8 L214 398.7 L214.5 398.7 L215 398.6 L215.5 398.5 L216 398.4 L216.5 398.4 L217 398.3 L217.5 398.2 L218 398.2 L218.5 398.1 L219 398.1 L219.5 398 L220 398 L220.5 397.9 L221 397.9 L221.5 397.8 L222 397.8 L222.5 397.8 L223 397.7 L223.5 397.7 L224 397.6 L224.5 397.6 L225 397.6 L225.5 397.6 L226 397.6 L226.5 397.5 L227 397.5 L227.5 397.5 L228 397.5 L228.5 397.5 L229 397.5" fill="none" stroke="#b81c1c" stroke-width="1.8" stroke-linejoin="round"/></g>
<g clip-path="url(#ce)"><path d="M260.8 576.2h3.8v3.8h-3.8zM270 572.1h3.8v3.8h-3.8zM264.8 587.2h3.8v3.8h-3.8zM268.5 572.1h3.8v3.8h-3.8zM260.7 576.3h3.8v3.8h-3.8zM265.7 581h3.8v3.8h-3.8zM267.2 572.1h3.8v3.8h-3.8zM270.3 581.4h3.8v3.8h-3.8zM260.5 585.6h3.8v3.8h-3.8zM271.4 578.2h3.8v3.8h-3.8zM260.9 572.1h3.8v3.8h-3.8zM279.8 585.8h3.8v3.8h-3.8zM261.9 574.6h3.8v3.8h-3.8zM259.2 572.1h3.8v3.8h-3.8zM262.5 572.1h3.8v3.8h-3.8zM269.3 575.1h3.8v3.8h-3.8zM265.9 575.2h3.8v3.8h-3.8zM271.8 579.9h3.8v3.8h-3.8zM258.2 572.1h3.8v3.8h-3.8zM266.3 591.6h3.8v3.8h-3.8zM270.2 581h3.8v3.8h-3.8zM278.4 593.5h3.8v3.8h-3.8zM321.6 587.3h3.8v3.8h-3.8zM288.4 662.5h3.8v3.8h-3.8zM319.9 580.4h3.8v3.8h-3.8zM281.7 604.2h3.8v3.8h-3.8zM306.4 604h3.8v3.8h-3.8zM295.8 661h3.8v3.8h-3.8zM284.7 620.8h3.8v3.8h-3.8zM294.2 649.8h3.8v3.8h-3.8zM280.8 585h3.8v3.8h-3.8zM286.2 617.6h3.8v3.8h-3.8zM303.2 593.6h3.8v3.8h-3.8zM298.4 657.1h3.8v3.8h-3.8zM287.8 643.2h3.8v3.8h-3.8zM277.4 605.4h3.8v3.8h-3.8zM285.1 608.2h3.8v3.8h-3.8zM286.6 619.9h3.8v3.8h-3.8zM293.4 663.9h3.8v3.8h-3.8zM273.8 581.6h3.8v3.8h-3.8zM283.2 618.5h3.8v3.8h-3.8zM288.9 654.7h3.8v3.8h-3.8zM311.6 587.8h3.8v3.8h-3.8zM306.4 588.8h3.8v3.8h-3.8zM321.9 580.7h3.8v3.8h-3.8zM286.3 620.8h3.8v3.8h-3.8zM277 602.9h3.8v3.8h-3.8zM311.4 599.7h3.8v3.8h-3.8zM302.7 626.2h3.8v3.8h-3.8zM284.7 620.7h3.8v3.8h-3.8zM291 659.3h3.8v3.8h-3.8zM312.3 581.2h3.8v3.8h-3.8zM305.9 601.5h3.8v3.8h-3.8zM312.8 585.9h3.8v3.8h-3.8zM294.6 663.2h3.8v3.8h-3.8zM287.7 615.4h3.8v3.8h-3.8zM302.4 653.2h3.8v3.8h-3.8zM281 593.6h3.8v3.8h-3.8zM279.6 594.3h3.8v3.8h-3.8zM283.2 593.8h3.8v3.8h-3.8zM286 625.9h3.8v3.8h-3.8zM284.1 610.9h3.8v3.8h-3.8zM287.8 630.9h3.8v3.8h-3.8zM299.7 623.8h3.8v3.8h-3.8zM303.9 628.6h3.8v3.8h-3.8zM271.8 584.8h3.8v3.8h-3.8zM311.6 592.7h3.8v3.8h-3.8zM301.8 597.3h3.8v3.8h-3.8zM318.6 584.8h3.8v3.8h-3.8zM283.6 619.1h3.8v3.8h-3.8zM304.6 617.8h3.8v3.8h-3.8zM301.7 640.8h3.8v3.8h-3.8zM303.3 621.4h3.8v3.8h-3.8zM314.6 582.1h3.8v3.8h-3.8zM281.6 587.5h3.8v3.8h-3.8zM306.6 595.4h3.8v3.8h-3.8zM303.5 591.9h3.8v3.8h-3.8zM296.2 634.6h3.8v3.8h-3.8zM283.9 661.1h3.8v3.8h-3.8zM299.4 653h3.8v3.8h-3.8zM282.2 607.6h3.8v3.8h-3.8zM302.8 612.7h3.8v3.8h-3.8zM300.3 657.2h3.8v3.8h-3.8zM299.8 643.6h3.8v3.8h-3.8zM300.1 621.2h3.8v3.8h-3.8zM277.7 595.2h3.8v3.8h-3.8zM273.9 585.6h3.8v3.8h-3.8zM284.9 600.8h3.8v3.8h-3.8zM282.6 587.6h3.8v3.8h-3.8zM301.5 603.6h3.8v3.8h-3.8zM281.8 600h3.8v3.8h-3.8zM289.8 648.7h3.8v3.8h-3.8zM305.7 631.9h3.8v3.8h-3.8zM284.8 624.8h3.8v3.8h-3.8zM315 584.3h3.8v3.8h-3.8zM317.7 582.3h3.8v3.8h-3.8zM284.9 652.4h3.8v3.8h-3.8zM298.9 642.9h3.8v3.8h-3.8zM304 607.4h3.8v3.8h-3.8zM325.1 576.5h3.8v3.8h-3.8zM307.3 627.3h3.8v3.8h-3.8zM293.9 659.6h3.8v3.8h-3.8zM278.7 588.1h3.8v3.8h-3.8zM299.3 632.8h3.8v3.8h-3.8zM303.9 631.8h3.8v3.8h-3.8zM303.8 623.6h3.8v3.8h-3.8zM286.9 644.6h3.8v3.8h-3.8zM307.3 592.4h3.8v3.8h-3.8zM297.2 646.3h3.8v3.8h-3.8zM288.6 650.7h3.8v3.8h-3.8zM288 624.5h3.8v3.8h-3.8zM279.6 587h3.8v3.8h-3.8zM303.9 618.8h3.8v3.8h-3.8zM289.5 639.9h3.8v3.8h-3.8zM306.2 593.9h3.8v3.8h-3.8zM286.5 634.5h3.8v3.8h-3.8zM290.3 636h3.8v3.8h-3.8zM305.1 605.8h3.8v3.8h-3.8zM286.9 653.1h3.8v3.8h-3.8zM328.8 578.5h3.8v3.8h-3.8zM302.1 648.6h3.8v3.8h-3.8zM320.5 583.3h3.8v3.8h-3.8zM282.3 595.4h3.8v3.8h-3.8zM277.2 587.1h3.8v3.8h-3.8zM276.7 577.8h3.8v3.8h-3.8zM313.7 606.2h3.8v3.8h-3.8zM295.6 668.5h3.8v3.8h-3.8zM301.2 616.3h3.8v3.8h-3.8zM299.7 652.4h3.8v3.8h-3.8zM321.2 581.2h3.8v3.8h-3.8zM305.6 602.2h3.8v3.8h-3.8zM294.9 665.9h3.8v3.8h-3.8zM286.4 610.4h3.8v3.8h-3.8zM289.2 647.1h3.8v3.8h-3.8zM291.6 650.7h3.8v3.8h-3.8zM293.8 643.2h3.8v3.8h-3.8zM302 624.1h3.8v3.8h-3.8zM304.4 595.1h3.8v3.8h-3.8zM307.1 596.5h3.8v3.8h-3.8zM284.3 614h3.8v3.8h-3.8zM284 605.8h3.8v3.8h-3.8zM300.5 627.3h3.8v3.8h-3.8zM304.2 616h3.8v3.8h-3.8zM304.2 605.6h3.8v3.8h-3.8zM308.1 585.5h3.8v3.8h-3.8zM287.3 643.6h3.8v3.8h-3.8zM280.6 590.8h3.8v3.8h-3.8zM291.4 644h3.8v3.8h-3.8zM286.3 637.3h3.8v3.8h-3.8zM279.7 599.5h3.8v3.8h-3.8zM304.8 625.1h3.8v3.8h-3.8zM296.8 658.9h3.8v3.8h-3.8zM301.5 637.3h3.8v3.8h-3.8zM310.1 592.4h3.8v3.8h-3.8zM302.1 646.1h3.8v3.8h-3.8zM311 583.6h3.8v3.8h-3.8zM302.5 599h3.8v3.8h-3.8zM301.4 656.5h3.8v3.8h-3.8zM300.2 636h3.8v3.8h-3.8zM292.9 669.2h3.8v3.8h-3.8zM293.8 650.5h3.8v3.8h-3.8zM304.9 616.2h3.8v3.8h-3.8zM298.3 643.5h3.8v3.8h-3.8zM287.4 646.9h3.8v3.8h-3.8zM301.2 632h3.8v3.8h-3.8zM297.5 654h3.8v3.8h-3.8zM277.1 596.2h3.8v3.8h-3.8zM305 611.9h3.8v3.8h-3.8zM299.1 659.7h3.8v3.8h-3.8zM317.8 586.2h3.8v3.8h-3.8zM311.6 585.2h3.8v3.8h-3.8zM282.3 597.4h3.8v3.8h-3.8zM288 626.2h3.8v3.8h-3.8zM299.8 625h3.8v3.8h-3.8zM283.8 619.4h3.8v3.8h-3.8zM304.3 596.9h3.8v3.8h-3.8zM303.7 629.1h3.8v3.8h-3.8zM321.7 582.1h3.8v3.8h-3.8zM285 642.9h3.8v3.8h-3.8zM300.7 626.2h3.8v3.8h-3.8zM305.1 638.5h3.8v3.8h-3.8zM299.8 628.2h3.8v3.8h-3.8zM321.1 582.5h3.8v3.8h-3.8zM286.7 641.4h3.8v3.8h-3.8zM288.5 624.4h3.8v3.8h-3.8zM304.6 604.8h3.8v3.8h-3.8zM282 608.2h3.8v3.8h-3.8zM296.9 647.8h3.8v3.8h-3.8zM316.3 583.1h3.8v3.8h-3.8zM309.1 593.8h3.8v3.8h-3.8zM303.8 625.8h3.8v3.8h-3.8zM272.6 583.5h3.8v3.8h-3.8zM330.2 575.5h3.8v3.8h-3.8zM291.4 662.6h3.8v3.8h-3.8zM284.5 631.7h3.8v3.8h-3.8zM280 592h3.8v3.8h-3.8zM281.3 604h3.8v3.8h-3.8zM276.9 582.7h3.8v3.8h-3.8zM298.4 649.1h3.8v3.8h-3.8zM288.6 646.8h3.8v3.8h-3.8zM285.9 630.8h3.8v3.8h-3.8zM301.3 600.3h3.8v3.8h-3.8zM281.6 590.9h3.8v3.8h-3.8zM288.8 657.7h3.8v3.8h-3.8zM307.6 599.5h3.8v3.8h-3.8zM307.2 603.5h3.8v3.8h-3.8zM303.9 623.9h3.8v3.8h-3.8zM299.3 658h3.8v3.8h-3.8zM286.4 603.9h3.8v3.8h-3.8zM288.4 646.9h3.8v3.8h-3.8zM300.4 615.1h3.8v3.8h-3.8zM304.7 606.7h3.8v3.8h-3.8zM294.6 645.2h3.8v3.8h-3.8zM311.6 589.8h3.8v3.8h-3.8zM300.6 647.4h3.8v3.8h-3.8zM306.1 597.7h3.8v3.8h-3.8zM316.4 588.9h3.8v3.8h-3.8zM285.3 608.7h3.8v3.8h-3.8zM283.1 607.3h3.8v3.8h-3.8zM327 580.3h3.8v3.8h-3.8zM289.7 631.5h3.8v3.8h-3.8zM290.1 659.1h3.8v3.8h-3.8zM289.1 657h3.8v3.8h-3.8zM309 597.1h3.8v3.8h-3.8zM277 576.8h3.8v3.8h-3.8zM301.5 658.6h3.8v3.8h-3.8zM292.3 667.8h3.8v3.8h-3.8zM276.7 589.1h3.8v3.8h-3.8zM293.1 665.7h3.8v3.8h-3.8zM312.4 589.3h3.8v3.8h-3.8zM278.3 588.5h3.8v3.8h-3.8zM289.7 628.6h3.8v3.8h-3.8zM305.2 637h3.8v3.8h-3.8zM297.9 650.2h3.8v3.8h-3.8zM302.2 616.5h3.8v3.8h-3.8zM285 641.2h3.8v3.8h-3.8zM283.4 599.8h3.8v3.8h-3.8zM290.2 647.7h3.8v3.8h-3.8zM307.4 600.5h3.8v3.8h-3.8zM287.8 662.7h3.8v3.8h-3.8zM287.4 652.5h3.8v3.8h-3.8zM300.5 606.3h3.8v3.8h-3.8zM296.7 644.6h3.8v3.8h-3.8zM279.3 603.4h3.8v3.8h-3.8zM285 652.2h3.8v3.8h-3.8zM313.6 585.8h3.8v3.8h-3.8zM278 587.2h3.8v3.8h-3.8zM304.9 608.8h3.8v3.8h-3.8zM287.3 636.6h3.8v3.8h-3.8zM301.5 617.6h3.8v3.8h-3.8zM283.5 611h3.8v3.8h-3.8zM303.1 631.9h3.8v3.8h-3.8zM307.4 590.6h3.8v3.8h-3.8zM279.7 587.8h3.8v3.8h-3.8zM321.6 581h3.8v3.8h-3.8zM280.2 597.7h3.8v3.8h-3.8zM275.7 579.6h3.8v3.8h-3.8zM302.9 596h3.8v3.8h-3.8zM300.8 656.7h3.8v3.8h-3.8zM273.8 585.1h3.8v3.8h-3.8zM302.8 633.3h3.8v3.8h-3.8zM294.8 655.9h3.8v3.8h-3.8zM290.8 680.2h3.8v3.8h-3.8zM298.8 683.3h3.8v3.8h-3.8zM296.8 668.6h3.8v3.8h-3.8zM289.5 671.4h3.8v3.8h-3.8zM298.5 659.5h3.8v3.8h-3.8zM288.4 673.2h3.8v3.8h-3.8zM299 666.9h3.8v3.8h-3.8zM298.9 673.4h3.8v3.8h-3.8zM289.3 675.5h3.8v3.8h-3.8zM301 663.1h3.8v3.8h-3.8zM299.8 660.3h3.8v3.8h-3.8zM290 678.8h3.8v3.8h-3.8zM296.4 679h3.8v3.8h-3.8zM293.9 686.7h3.8v3.8h-3.8zM289.6 672.7h3.8v3.8h-3.8zM290.4 660.1h3.8v3.8h-3.8zM290.4 660.3h3.8v3.8h-3.8zM296.7 686.2h3.8v3.8h-3.8zM295.3 679.4h3.8v3.8h-3.8zM300.7 662.9h3.8v3.8h-3.8zM291.7 670.4h3.8v3.8h-3.8zM294.1 663.8h3.8v3.8h-3.8zM292.6 680.6h3.8v3.8h-3.8zM292.8 679.3h3.8v3.8h-3.8zM295.5 685h3.8v3.8h-3.8zM298.2 677.2h3.8v3.8h-3.8zM296.8 669.8h3.8v3.8h-3.8zM289.2 684.5h3.8v3.8h-3.8zM291.3 669.2h3.8v3.8h-3.8zM296.1 679.4h3.8v3.8h-3.8zM315.7 588.4h3.8v3.8h-3.8zM318 572.1h3.8v3.8h-3.8zM325.2 578.5h3.8v3.8h-3.8zM317.4 579h3.8v3.8h-3.8zM332.7 584.5h3.8v3.8h-3.8zM323.8 580.6h3.8v3.8h-3.8zM334.2 580.1h3.8v3.8h-3.8zM326.8 588.2h3.8v3.8h-3.8zM325.1 587.4h3.8v3.8h-3.8zM323.4 581.6h3.8v3.8h-3.8zM314.9 586.8h3.8v3.8h-3.8zM320.1 581.5h3.8v3.8h-3.8zM333.8 583.8h3.8v3.8h-3.8zM327.9 583.5h3.8v3.8h-3.8zM329.3 583.6h3.8v3.8h-3.8zM321.1 582.3h3.8v3.8h-3.8zM315.1 583.2h3.8v3.8h-3.8zM331 573.3h3.8v3.8h-3.8zM321.4 580.4h3.8v3.8h-3.8zM330 572.1h3.8v3.8h-3.8zM312 589.2h3.8v3.8h-3.8zM319.7 586.5h3.8v3.8h-3.8zM327.1 579.9h3.8v3.8h-3.8zM334.2 575.5h3.8v3.8h-3.8zM314.8 585h3.8v3.8h-3.8zM335.3 593.3h3.8v3.8h-3.8zM327 581.3h3.8v3.8h-3.8zM315.8 593.1h3.8v3.8h-3.8zM310.6 585.1h3.8v3.8h-3.8zM333.6 579.4h3.8v3.8h-3.8z" fill="#000"/>
<path d="M260 578 L260.5 577.9 L261 577.9 L261.5 577.8 L262 577.8 L262.5 577.7 L263 577.7 L263.5 577.6 L264 577.6 L264.5 577.6 L265 577.6 L265.5 577.5 L266 577.5 L266.5 577.5 L267 577.5 L267.5 577.5 L268 577.5 L268.5 577.5 L269 577.5 L269.5 577.5 L270 577.5 L270.5 577.5 L271 577.6 L271.5 577.7 L272 577.8 L272.5 578 L273 578.2 L273.5 578.5 L274 578.7 L274.5 579 L275 579.3 L275.5 579.7 L276 580 L276.5 580.5 L277 581.2 L277.5 582 L278 583 L278.5 584 L279 585 L279.5 586.1 L280 587.2 L280.5 588.5 L281 589.8 L281.5 591.3 L282 593 L282.5 594.9 L283 597.2 L283.5 599.7 L284 602.3 L284.5 605 L285 607.7 L285.5 610.6 L286 613.6 L286.5 616.7 L287 620 L287.5 623.4 L288 627 L288.5 630.9 L289 635 L289.5 640 L290 645.5 L290.5 650 L291 653.5 L291.5 656.6 L292 659.2 L292.5 661 L293 662.3 L293.5 663.6 L294 664.7 L294.5 665.6 L295 666.4 L295.5 666.8 L296 667 L296.5 666.9 L297 666.5 L297.5 666 L298 665.3 L298.5 664.4 L299 663.4 L299.5 662.2 L300 661 L300.5 659.2 L301 656.7 L301.5 653.5 L302 650 L302.5 645.9 L303 640.8 L303.5 635 L304 627.3 L304.5 620 L305 615.1 L305.5 611.1 L306 608 L306.5 605.4 L307 603.1 L307.5 601.1 L308 599.4 L308.5 598 L309 596.8 L309.5 595.6 L310 594.6 L310.5 593.6 L311 592.7 L311.5 591.9 L312 591.2 L312.5 590.6 L313 590 L313.5 589.5 L314 589 L314.5 588.6 L315 588.1 L315.5 587.7 L316 587.4 L316.5 587 L317 586.7 L317.5 586.4 L318 586.1 L318.5 585.8 L319 585.5 L319.5 585.3 L320 585 L320.5 584.8 L321 584.5 L321.5 584.3 L322 584.1 L322.5 583.9 L323 583.7 L323.5 583.5 L324 583.3 L324.5 583.2 L325 583 L325.5 582.8 L326 582.7 L326.5 582.5 L327 582.3 L327.5 582.2 L328 582 L328.5 581.8 L329 581.7 L329.5 581.5 L330 581.3 L330.5 581.2 L331 581 L331.5 580.9 L332 580.7 L332.5 580.6 L333 580.4 L333.5 580.3 L334 580.1 L334.5 580 L335 579.8 L335.5 579.7 L336 579.5 L336.5 579.4 L337 579.3 L337.5 579.1 L338 579" fill="none" stroke="#000" stroke-width="1.5" stroke-linejoin="round"/>
<path d="M84.2 594.4a2.3 2.3 0 1 0 4.6 0a2.3 2.3 0 1 0 -4.6 0M75.7 581.8a2.3 2.3 0 1 0 4.6 0a2.3 2.3 0 1 0 -4.6 0M71.4 589.8a2.3 2.3 0 1 0 4.6 0a2.3 2.3 0 1 0 -4.6 0M73.8 587.8a2.3 2.3 0 1 0 4.6 0a2.3 2.3 0 1 0 -4.6 0M82.3 580.7a2.3 2.3 0 1 0 4.6 0a2.3 2.3 0 1 0 -4.6 0M75.8 587.7a2.3 2.3 0 1 0 4.6 0a2.3 2.3 0 1 0 -4.6 0M86.8 600.5a2.3 2.3 0 1 0 4.6 0a2.3 2.3 0 1 0 -4.6 0M72.3 588.4a2.3 2.3 0 1 0 4.6 0a2.3 2.3 0 1 0 -4.6 0M84.6 595.9a2.3 2.3 0 1 0 4.6 0a2.3 2.3 0 1 0 -4.6 0M79.6 594.6a2.3 2.3 0 1 0 4.6 0a2.3 2.3 0 1 0 -4.6 0M75.5 588.4a2.3 2.3 0 1 0 4.6 0a2.3 2.3 0 1 0 -4.6 0M75.1 591.9a2.3 2.3 0 1 0 4.6 0a2.3 2.3 0 1 0 -4.6 0M77.3 588.9a2.3 2.3 0 1 0 4.6 0a2.3 2.3 0 1 0 -4.6 0M77.9 590.2a2.3 2.3 0 1 0 4.6 0a2.3 2.3 0 1 0 -4.6 0M74.3 586.3a2.3 2.3 0 1 0 4.6 0a2.3 2.3 0 1 0 -4.6 0M74.6 590.8a2.3 2.3 0 1 0 4.6 0a2.3 2.3 0 1 0 -4.6 0M87 601.6a2.3 2.3 0 1 0 4.6 0a2.3 2.3 0 1 0 -4.6 0M77.6 587.8a2.3 2.3 0 1 0 4.6 0a2.3 2.3 0 1 0 -4.6 0M81.1 593.6a2.3 2.3 0 1 0 4.6 0a2.3 2.3 0 1 0 -4.6 0M82.4 593.1a2.3 2.3 0 1 0 4.6 0a2.3 2.3 0 1 0 -4.6 0M75.5 582.9a2.3 2.3 0 1 0 4.6 0a2.3 2.3 0 1 0 -4.6 0M85.6 596.9a2.3 2.3 0 1 0 4.6 0a2.3 2.3 0 1 0 -4.6 0M151.8 604.9a2.3 2.3 0 1 0 4.6 0a2.3 2.3 0 1 0 -4.6 0M87.7 597.5a2.3 2.3 0 1 0 4.6 0a2.3 2.3 0 1 0 -4.6 0M131.6 630.9a2.3 2.3 0 1 0 4.6 0a2.3 2.3 0 1 0 -4.6 0M140.8 666.7a2.3 2.3 0 1 0 4.6 0a2.3 2.3 0 1 0 -4.6 0M117.2 633.7a2.3 2.3 0 1 0 4.6 0a2.3 2.3 0 1 0 -4.6 0M95.2 618.2a2.3 2.3 0 1 0 4.6 0a2.3 2.3 0 1 0 -4.6 0M143.4 642.5a2.3 2.3 0 1 0 4.6 0a2.3 2.3 0 1 0 -4.6 0M139.8 654.3a2.3 2.3 0 1 0 4.6 0a2.3 2.3 0 1 0 -4.6 0M115.3 632.1a2.3 2.3 0 1 0 4.6 0a2.3 2.3 0 1 0 -4.6 0M99 624.1a2.3 2.3 0 1 0 4.6 0a2.3 2.3 0 1 0 -4.6 0M148.1 630.1a2.3 2.3 0 1 0 4.6 0a2.3 2.3 0 1 0 -4.6 0M148.8 648.7a2.3 2.3 0 1 0 4.6 0a2.3 2.3 0 1 0 -4.6 0M146.1 626.9a2.3 2.3 0 1 0 4.6 0a2.3 2.3 0 1 0 -4.6 0M141.9 636a2.3 2.3 0 1 0 4.6 0a2.3 2.3 0 1 0 -4.6 0M110.8 673.2a2.3 2.3 0 1 0 4.6 0a2.3 2.3 0 1 0 -4.6 0M135.8 648.5a2.3 2.3 0 1 0 4.6 0a2.3 2.3 0 1 0 -4.6 0M117.9 605.5a2.3 2.3 0 1 0 4.6 0a2.3 2.3 0 1 0 -4.6 0M113.1 632.2a2.3 2.3 0 1 0 4.6 0a2.3 2.3 0 1 0 -4.6 0M117.7 624.3a2.3 2.3 0 1 0 4.6 0a2.3 2.3 0 1 0 -4.6 0M138.7 661.5a2.3 2.3 0 1 0 4.6 0a2.3 2.3 0 1 0 -4.6 0M164.7 580.3a2.3 2.3 0 1 0 4.6 0a2.3 2.3 0 1 0 -4.6 0M120.7 601.7a2.3 2.3 0 1 0 4.6 0a2.3 2.3 0 1 0 -4.6 0M114 640.8a2.3 2.3 0 1 0 4.6 0a2.3 2.3 0 1 0 -4.6 0M131.2 650.6a2.3 2.3 0 1 0 4.6 0a2.3 2.3 0 1 0 -4.6 0M131 647.8a2.3 2.3 0 1 0 4.6 0a2.3 2.3 0 1 0 -4.6 0M117.6 626a2.3 2.3 0 1 0 4.6 0a2.3 2.3 0 1 0 -4.6 0M134.3 658.1a2.3 2.3 0 1 0 4.6 0a2.3 2.3 0 1 0 -4.6 0M134.4 654a2.3 2.3 0 1 0 4.6 0a2.3 2.3 0 1 0 -4.6 0M137.4 658.7a2.3 2.3 0 1 0 4.6 0a2.3 2.3 0 1 0 -4.6 0M105.5 649.4a2.3 2.3 0 1 0 4.6 0a2.3 2.3 0 1 0 -4.6 0M133.5 654a2.3 2.3 0 1 0 4.6 0a2.3 2.3 0 1 0 -4.6 0M117.4 621.6a2.3 2.3 0 1 0 4.6 0a2.3 2.3 0 1 0 -4.6 0M146.1 612.7a2.3 2.3 0 1 0 4.6 0a2.3 2.3 0 1 0 -4.6 0M133.9 646.4a2.3 2.3 0 1 0 4.6 0a2.3 2.3 0 1 0 -4.6 0M142.2 632.7a2.3 2.3 0 1 0 4.6 0a2.3 2.3 0 1 0 -4.6 0M145.7 634.6a2.3 2.3 0 1 0 4.6 0a2.3 2.3 0 1 0 -4.6 0M104.4 659.3a2.3 2.3 0 1 0 4.6 0a2.3 2.3 0 1 0 -4.6 0M97.5 617.5a2.3 2.3 0 1 0 4.6 0a2.3 2.3 0 1 0 -4.6 0M141.2 655.7a2.3 2.3 0 1 0 4.6 0a2.3 2.3 0 1 0 -4.6 0M92.4 611.1a2.3 2.3 0 1 0 4.6 0a2.3 2.3 0 1 0 -4.6 0M154.9 597.1a2.3 2.3 0 1 0 4.6 0a2.3 2.3 0 1 0 -4.6 0M143.4 670.9a2.3 2.3 0 1 0 4.6 0a2.3 2.3 0 1 0 -4.6 0M114.6 621.9a2.3 2.3 0 1 0 4.6 0a2.3 2.3 0 1 0 -4.6 0M137.5 660.9a2.3 2.3 0 1 0 4.6 0a2.3 2.3 0 1 0 -4.6 0M97.8 634.2a2.3 2.3 0 1 0 4.6 0a2.3 2.3 0 1 0 -4.6 0M135.2 660a2.3 2.3 0 1 0 4.6 0a2.3 2.3 0 1 0 -4.6 0M153.7 608.2a2.3 2.3 0 1 0 4.6 0a2.3 2.3 0 1 0 -4.6 0M86.1 595.9a2.3 2.3 0 1 0 4.6 0a2.3 2.3 0 1 0 -4.6 0M154.8 599.3a2.3 2.3 0 1 0 4.6 0a2.3 2.3 0 1 0 -4.6 0M113.1 658.9a2.3 2.3 0 1 0 4.6 0a2.3 2.3 0 1 0 -4.6 0M115.6 627.9a2.3 2.3 0 1 0 4.6 0a2.3 2.3 0 1 0 -4.6 0M153.9 601.6a2.3 2.3 0 1 0 4.6 0a2.3 2.3 0 1 0 -4.6 0M141.3 641.9a2.3 2.3 0 1 0 4.6 0a2.3 2.3 0 1 0 -4.6 0M115.6 632.5a2.3 2.3 0 1 0 4.6 0a2.3 2.3 0 1 0 -4.6 0M159.9 591.4a2.3 2.3 0 1 0 4.6 0a2.3 2.3 0 1 0 -4.6 0M90.7 589.7a2.3 2.3 0 1 0 4.6 0a2.3 2.3 0 1 0 -4.6 0M137.7 660.8a2.3 2.3 0 1 0 4.6 0a2.3 2.3 0 1 0 -4.6 0M127.5 607.6a2.3 2.3 0 1 0 4.6 0a2.3 2.3 0 1 0 -4.6 0M150.1 611.8a2.3 2.3 0 1 0 4.6 0a2.3 2.3 0 1 0 -4.6 0M91.6 598.8a2.3 2.3 0 1 0 4.6 0a2.3 2.3 0 1 0 -4.6 0M108.1 652.4a2.3 2.3 0 1 0 4.6 0a2.3 2.3 0 1 0 -4.6 0M123.6 603.6a2.3 2.3 0 1 0 4.6 0a2.3 2.3 0 1 0 -4.6 0M95.1 614.1a2.3 2.3 0 1 0 4.6 0a2.3 2.3 0 1 0 -4.6 0M134.8 655a2.3 2.3 0 1 0 4.6 0a2.3 2.3 0 1 0 -4.6 0M144.2 623.5a2.3 2.3 0 1 0 4.6 0a2.3 2.3 0 1 0 -4.6 0M151.7 606.4a2.3 2.3 0 1 0 4.6 0a2.3 2.3 0 1 0 -4.6 0M102.6 635.3a2.3 2.3 0 1 0 4.6 0a2.3 2.3 0 1 0 -4.6 0M128.8 612a2.3 2.3 0 1 0 4.6 0a2.3 2.3 0 1 0 -4.6 0M162.9 582.7a2.3 2.3 0 1 0 4.6 0a2.3 2.3 0 1 0 -4.6 0M96.5 616.8a2.3 2.3 0 1 0 4.6 0a2.3 2.3 0 1 0 -4.6 0M143.1 671.5a2.3 2.3 0 1 0 4.6 0a2.3 2.3 0 1 0 -4.6 0M114.7 663.9a2.3 2.3 0 1 0 4.6 0a2.3 2.3 0 1 0 -4.6 0M153.5 609.3a2.3 2.3 0 1 0 4.6 0a2.3 2.3 0 1 0 -4.6 0M132.7 643.5a2.3 2.3 0 1 0 4.6 0a2.3 2.3 0 1 0 -4.6 0M149.8 606.2a2.3 2.3 0 1 0 4.6 0a2.3 2.3 0 1 0 -4.6 0M93.6 609.7a2.3 2.3 0 1 0 4.6 0a2.3 2.3 0 1 0 -4.6 0M132.7 635.9a2.3 2.3 0 1 0 4.6 0a2.3 2.3 0 1 0 -4.6 0M116.6 621.9a2.3 2.3 0 1 0 4.6 0a2.3 2.3 0 1 0 -4.6 0M99.2 626a2.3 2.3 0 1 0 4.6 0a2.3 2.3 0 1 0 -4.6 0M115.8 621.7a2.3 2.3 0 1 0 4.6 0a2.3 2.3 0 1 0 -4.6 0M141.1 660.8a2.3 2.3 0 1 0 4.6 0a2.3 2.3 0 1 0 -4.6 0M131.5 634.2a2.3 2.3 0 1 0 4.6 0a2.3 2.3 0 1 0 -4.6 0M130.2 643.2a2.3 2.3 0 1 0 4.6 0a2.3 2.3 0 1 0 -4.6 0M109.7 665.6a2.3 2.3 0 1 0 4.6 0a2.3 2.3 0 1 0 -4.6 0M122.1 615.7a2.3 2.3 0 1 0 4.6 0a2.3 2.3 0 1 0 -4.6 0M120.7 615.9a2.3 2.3 0 1 0 4.6 0a2.3 2.3 0 1 0 -4.6 0M150.9 604.8a2.3 2.3 0 1 0 4.6 0a2.3 2.3 0 1 0 -4.6 0M148.3 614.5a2.3 2.3 0 1 0 4.6 0a2.3 2.3 0 1 0 -4.6 0M119.4 618.7a2.3 2.3 0 1 0 4.6 0a2.3 2.3 0 1 0 -4.6 0M126.8 609.2a2.3 2.3 0 1 0 4.6 0a2.3 2.3 0 1 0 -4.6 0M109.6 662.8a2.3 2.3 0 1 0 4.6 0a2.3 2.3 0 1 0 -4.6 0M134.1 629.5a2.3 2.3 0 1 0 4.6 0a2.3 2.3 0 1 0 -4.6 0M98.1 631.3a2.3 2.3 0 1 0 4.6 0a2.3 2.3 0 1 0 -4.6 0M160.4 588.7a2.3 2.3 0 1 0 4.6 0a2.3 2.3 0 1 0 -4.6 0M121.5 620.9a2.3 2.3 0 1 0 4.6 0a2.3 2.3 0 1 0 -4.6 0M86.1 592.9a2.3 2.3 0 1 0 4.6 0a2.3 2.3 0 1 0 -4.6 0M111.6 660.4a2.3 2.3 0 1 0 4.6 0a2.3 2.3 0 1 0 -4.6 0M153.7 598.4a2.3 2.3 0 1 0 4.6 0a2.3 2.3 0 1 0 -4.6 0M114.8 660.5a2.3 2.3 0 1 0 4.6 0a2.3 2.3 0 1 0 -4.6 0M115.7 632.1a2.3 2.3 0 1 0 4.6 0a2.3 2.3 0 1 0 -4.6 0M157.9 587.8a2.3 2.3 0 1 0 4.6 0a2.3 2.3 0 1 0 -4.6 0M147.4 647.7a2.3 2.3 0 1 0 4.6 0a2.3 2.3 0 1 0 -4.6 0M117.5 643.8a2.3 2.3 0 1 0 4.6 0a2.3 2.3 0 1 0 -4.6 0M99.6 645.8a2.3 2.3 0 1 0 4.6 0a2.3 2.3 0 1 0 -4.6 0M119.2 629.8a2.3 2.3 0 1 0 4.6 0a2.3 2.3 0 1 0 -4.6 0M116.4 635.7a2.3 2.3 0 1 0 4.6 0a2.3 2.3 0 1 0 -4.6 0M155.4 613.6a2.3 2.3 0 1 0 4.6 0a2.3 2.3 0 1 0 -4.6 0M132 627.1a2.3 2.3 0 1 0 4.6 0a2.3 2.3 0 1 0 -4.6 0M151.6 600.3a2.3 2.3 0 1 0 4.6 0a2.3 2.3 0 1 0 -4.6 0M162.9 580.8a2.3 2.3 0 1 0 4.6 0a2.3 2.3 0 1 0 -4.6 0M146.2 620.9a2.3 2.3 0 1 0 4.6 0a2.3 2.3 0 1 0 -4.6 0M117.5 625.5a2.3 2.3 0 1 0 4.6 0a2.3 2.3 0 1 0 -4.6 0M116.7 631.2a2.3 2.3 0 1 0 4.6 0a2.3 2.3 0 1 0 -4.6 0M130.3 626.6a2.3 2.3 0 1 0 4.6 0a2.3 2.3 0 1 0 -4.6 0M137.9 666.1a2.3 2.3 0 1 0 4.6 0a2.3 2.3 0 1 0 -4.6 0M143.9 622.8a2.3 2.3 0 1 0 4.6 0a2.3 2.3 0 1 0 -4.6 0M143.9 631.5a2.3 2.3 0 1 0 4.6 0a2.3 2.3 0 1 0 -4.6 0M115.8 655.9a2.3 2.3 0 1 0 4.6 0a2.3 2.3 0 1 0 -4.6 0M145.2 659.8a2.3 2.3 0 1 0 4.6 0a2.3 2.3 0 1 0 -4.6 0M115.7 636.2a2.3 2.3 0 1 0 4.6 0a2.3 2.3 0 1 0 -4.6 0M144 646.4a2.3 2.3 0 1 0 4.6 0a2.3 2.3 0 1 0 -4.6 0M87.9 596.7a2.3 2.3 0 1 0 4.6 0a2.3 2.3 0 1 0 -4.6 0M147.2 622.5a2.3 2.3 0 1 0 4.6 0a2.3 2.3 0 1 0 -4.6 0M136 670.9a2.3 2.3 0 1 0 4.6 0a2.3 2.3 0 1 0 -4.6 0M102.2 638.2a2.3 2.3 0 1 0 4.6 0a2.3 2.3 0 1 0 -4.6 0M105.5 673.9a2.3 2.3 0 1 0 4.6 0a2.3 2.3 0 1 0 -4.6 0M112.9 659.6a2.3 2.3 0 1 0 4.6 0a2.3 2.3 0 1 0 -4.6 0M121.3 612.4a2.3 2.3 0 1 0 4.6 0a2.3 2.3 0 1 0 -4.6 0M150.9 605.5a2.3 2.3 0 1 0 4.6 0a2.3 2.3 0 1 0 -4.6 0M162.2 592.8a2.3 2.3 0 1 0 4.6 0a2.3 2.3 0 1 0 -4.6 0M127.1 642.4a2.3 2.3 0 1 0 4.6 0a2.3 2.3 0 1 0 -4.6 0M100.9 628.7a2.3 2.3 0 1 0 4.6 0a2.3 2.3 0 1 0 -4.6 0M162.3 588.2a2.3 2.3 0 1 0 4.6 0a2.3 2.3 0 1 0 -4.6 0M155.7 594.3a2.3 2.3 0 1 0 4.6 0a2.3 2.3 0 1 0 -4.6 0M92.7 622.9a2.3 2.3 0 1 0 4.6 0a2.3 2.3 0 1 0 -4.6 0M139.1 663.2a2.3 2.3 0 1 0 4.6 0a2.3 2.3 0 1 0 -4.6 0M137.1 663.7a2.3 2.3 0 1 0 4.6 0a2.3 2.3 0 1 0 -4.6 0M137.4 658.1a2.3 2.3 0 1 0 4.6 0a2.3 2.3 0 1 0 -4.6 0M141.6 664.6a2.3 2.3 0 1 0 4.6 0a2.3 2.3 0 1 0 -4.6 0M85 595.1a2.3 2.3 0 1 0 4.6 0a2.3 2.3 0 1 0 -4.6 0M114.3 657.5a2.3 2.3 0 1 0 4.6 0a2.3 2.3 0 1 0 -4.6 0M112.2 648.1a2.3 2.3 0 1 0 4.6 0a2.3 2.3 0 1 0 -4.6 0M137.2 657.1a2.3 2.3 0 1 0 4.6 0a2.3 2.3 0 1 0 -4.6 0M92.9 622.8a2.3 2.3 0 1 0 4.6 0a2.3 2.3 0 1 0 -4.6 0M108 666.7a2.3 2.3 0 1 0 4.6 0a2.3 2.3 0 1 0 -4.6 0M99 640.8a2.3 2.3 0 1 0 4.6 0a2.3 2.3 0 1 0 -4.6 0M95.8 609.5a2.3 2.3 0 1 0 4.6 0a2.3 2.3 0 1 0 -4.6 0M117.7 605.8a2.3 2.3 0 1 0 4.6 0a2.3 2.3 0 1 0 -4.6 0M101.7 655.6a2.3 2.3 0 1 0 4.6 0a2.3 2.3 0 1 0 -4.6 0M125.2 604.3a2.3 2.3 0 1 0 4.6 0a2.3 2.3 0 1 0 -4.6 0M104.9 659.2a2.3 2.3 0 1 0 4.6 0a2.3 2.3 0 1 0 -4.6 0M149.6 644.4a2.3 2.3 0 1 0 4.6 0a2.3 2.3 0 1 0 -4.6 0M101.8 623.9a2.3 2.3 0 1 0 4.6 0a2.3 2.3 0 1 0 -4.6 0M145.4 641a2.3 2.3 0 1 0 4.6 0a2.3 2.3 0 1 0 -4.6 0M137.4 657.7a2.3 2.3 0 1 0 4.6 0a2.3 2.3 0 1 0 -4.6 0M97 646.7a2.3 2.3 0 1 0 4.6 0a2.3 2.3 0 1 0 -4.6 0M114.2 632.9a2.3 2.3 0 1 0 4.6 0a2.3 2.3 0 1 0 -4.6 0M115.5 632.8a2.3 2.3 0 1 0 4.6 0a2.3 2.3 0 1 0 -4.6 0M119.1 607.5a2.3 2.3 0 1 0 4.6 0a2.3 2.3 0 1 0 -4.6 0M134.2 663.4a2.3 2.3 0 1 0 4.6 0a2.3 2.3 0 1 0 -4.6 0M86.5 598.8a2.3 2.3 0 1 0 4.6 0a2.3 2.3 0 1 0 -4.6 0M99.7 640.6a2.3 2.3 0 1 0 4.6 0a2.3 2.3 0 1 0 -4.6 0M142.1 665.4a2.3 2.3 0 1 0 4.6 0a2.3 2.3 0 1 0 -4.6 0M97.4 623.6a2.3 2.3 0 1 0 4.6 0a2.3 2.3 0 1 0 -4.6 0M146.2 627.4a2.3 2.3 0 1 0 4.6 0a2.3 2.3 0 1 0 -4.6 0M115.2 636a2.3 2.3 0 1 0 4.6 0a2.3 2.3 0 1 0 -4.6 0M92.3 606.4a2.3 2.3 0 1 0 4.6 0a2.3 2.3 0 1 0 -4.6 0M142.4 654.2a2.3 2.3 0 1 0 4.6 0a2.3 2.3 0 1 0 -4.6 0M106 666a2.3 2.3 0 1 0 4.6 0a2.3 2.3 0 1 0 -4.6 0M163.4 583.6a2.3 2.3 0 1 0 4.6 0a2.3 2.3 0 1 0 -4.6 0M154 604.9a2.3 2.3 0 1 0 4.6 0a2.3 2.3 0 1 0 -4.6 0M151 612.5a2.3 2.3 0 1 0 4.6 0a2.3 2.3 0 1 0 -4.6 0M149.6 613.8a2.3 2.3 0 1 0 4.6 0a2.3 2.3 0 1 0 -4.6 0M96.2 618.1a2.3 2.3 0 1 0 4.6 0a2.3 2.3 0 1 0 -4.6 0M91.2 600.7a2.3 2.3 0 1 0 4.6 0a2.3 2.3 0 1 0 -4.6 0M121.5 624.8a2.3 2.3 0 1 0 4.6 0a2.3 2.3 0 1 0 -4.6 0M118.2 619.6a2.3 2.3 0 1 0 4.6 0a2.3 2.3 0 1 0 -4.6 0M114.4 621.9a2.3 2.3 0 1 0 4.6 0a2.3 2.3 0 1 0 -4.6 0M129.3 640.9a2.3 2.3 0 1 0 4.6 0a2.3 2.3 0 1 0 -4.6 0M146.1 642.9a2.3 2.3 0 1 0 4.6 0a2.3 2.3 0 1 0 -4.6 0M147 647.8a2.3 2.3 0 1 0 4.6 0a2.3 2.3 0 1 0 -4.6 0M155.1 596.3a2.3 2.3 0 1 0 4.6 0a2.3 2.3 0 1 0 -4.6 0M139.3 665.2a2.3 2.3 0 1 0 4.6 0a2.3 2.3 0 1 0 -4.6 0M148.9 613.2a2.3 2.3 0 1 0 4.6 0a2.3 2.3 0 1 0 -4.6 0M93.1 620.8a2.3 2.3 0 1 0 4.6 0a2.3 2.3 0 1 0 -4.6 0M88.8 603.5a2.3 2.3 0 1 0 4.6 0a2.3 2.3 0 1 0 -4.6 0M115.3 613.7a2.3 2.3 0 1 0 4.6 0a2.3 2.3 0 1 0 -4.6 0M147.9 617.8a2.3 2.3 0 1 0 4.6 0a2.3 2.3 0 1 0 -4.6 0M113.4 632.3a2.3 2.3 0 1 0 4.6 0a2.3 2.3 0 1 0 -4.6 0M97.9 628.1a2.3 2.3 0 1 0 4.6 0a2.3 2.3 0 1 0 -4.6 0M98.4 633.3a2.3 2.3 0 1 0 4.6 0a2.3 2.3 0 1 0 -4.6 0M101.4 667a2.3 2.3 0 1 0 4.6 0a2.3 2.3 0 1 0 -4.6 0M149.5 620.1a2.3 2.3 0 1 0 4.6 0a2.3 2.3 0 1 0 -4.6 0M115.9 651.1a2.3 2.3 0 1 0 4.6 0a2.3 2.3 0 1 0 -4.6 0M144.6 623.2a2.3 2.3 0 1 0 4.6 0a2.3 2.3 0 1 0 -4.6 0M155 599a2.3 2.3 0 1 0 4.6 0a2.3 2.3 0 1 0 -4.6 0M145.8 651a2.3 2.3 0 1 0 4.6 0a2.3 2.3 0 1 0 -4.6 0M152 603.7a2.3 2.3 0 1 0 4.6 0a2.3 2.3 0 1 0 -4.6 0M109.5 672.2a2.3 2.3 0 1 0 4.6 0a2.3 2.3 0 1 0 -4.6 0M104 653.6a2.3 2.3 0 1 0 4.6 0a2.3 2.3 0 1 0 -4.6 0M108.7 666.8a2.3 2.3 0 1 0 4.6 0a2.3 2.3 0 1 0 -4.6 0M89.4 598.1a2.3 2.3 0 1 0 4.6 0a2.3 2.3 0 1 0 -4.6 0M153.1 599.5a2.3 2.3 0 1 0 4.6 0a2.3 2.3 0 1 0 -4.6 0M105.5 660.2a2.3 2.3 0 1 0 4.6 0a2.3 2.3 0 1 0 -4.6 0M135.6 645.7a2.3 2.3 0 1 0 4.6 0a2.3 2.3 0 1 0 -4.6 0M111.1 672.5a2.3 2.3 0 1 0 4.6 0a2.3 2.3 0 1 0 -4.6 0M127.3 621.1a2.3 2.3 0 1 0 4.6 0a2.3 2.3 0 1 0 -4.6 0M116.6 619.1a2.3 2.3 0 1 0 4.6 0a2.3 2.3 0 1 0 -4.6 0M141.2 669.7a2.3 2.3 0 1 0 4.6 0a2.3 2.3 0 1 0 -4.6 0M102.7 650.8a2.3 2.3 0 1 0 4.6 0a2.3 2.3 0 1 0 -4.6 0M111.3 663.1a2.3 2.3 0 1 0 4.6 0a2.3 2.3 0 1 0 -4.6 0M100 639.2a2.3 2.3 0 1 0 4.6 0a2.3 2.3 0 1 0 -4.6 0M113.3 646.6a2.3 2.3 0 1 0 4.6 0a2.3 2.3 0 1 0 -4.6 0M146.4 632.5a2.3 2.3 0 1 0 4.6 0a2.3 2.3 0 1 0 -4.6 0M158.2 588a2.3 2.3 0 1 0 4.6 0a2.3 2.3 0 1 0 -4.6 0M92 597a2.3 2.3 0 1 0 4.6 0a2.3 2.3 0 1 0 -4.6 0M149.6 627.5a2.3 2.3 0 1 0 4.6 0a2.3 2.3 0 1 0 -4.6 0M141.3 658.8a2.3 2.3 0 1 0 4.6 0a2.3 2.3 0 1 0 -4.6 0M96.5 618.1a2.3 2.3 0 1 0 4.6 0a2.3 2.3 0 1 0 -4.6 0M100.4 642.2a2.3 2.3 0 1 0 4.6 0a2.3 2.3 0 1 0 -4.6 0M147.7 618.7a2.3 2.3 0 1 0 4.6 0a2.3 2.3 0 1 0 -4.6 0M103 656.1a2.3 2.3 0 1 0 4.6 0a2.3 2.3 0 1 0 -4.6 0M149.3 614.8a2.3 2.3 0 1 0 4.6 0a2.3 2.3 0 1 0 -4.6 0M125.2 622.1a2.3 2.3 0 1 0 4.6 0a2.3 2.3 0 1 0 -4.6 0M157.5 587a2.3 2.3 0 1 0 4.6 0a2.3 2.3 0 1 0 -4.6 0M126.8 609.8a2.3 2.3 0 1 0 4.6 0a2.3 2.3 0 1 0 -4.6 0M101.7 632.6a2.3 2.3 0 1 0 4.6 0a2.3 2.3 0 1 0 -4.6 0M130.2 643.2a2.3 2.3 0 1 0 4.6 0a2.3 2.3 0 1 0 -4.6 0M119.9 616.6a2.3 2.3 0 1 0 4.6 0a2.3 2.3 0 1 0 -4.6 0M94.1 615.4a2.3 2.3 0 1 0 4.6 0a2.3 2.3 0 1 0 -4.6 0M146.3 637.7a2.3 2.3 0 1 0 4.6 0a2.3 2.3 0 1 0 -4.6 0M148 609a2.3 2.3 0 1 0 4.6 0a2.3 2.3 0 1 0 -4.6 0M157.4 595.8a2.3 2.3 0 1 0 4.6 0a2.3 2.3 0 1 0 -4.6 0M134.6 651a2.3 2.3 0 1 0 4.6 0a2.3 2.3 0 1 0 -4.6 0M125.4 636.6a2.3 2.3 0 1 0 4.6 0a2.3 2.3 0 1 0 -4.6 0M104 655.9a2.3 2.3 0 1 0 4.6 0a2.3 2.3 0 1 0 -4.6 0M157.6 590.6a2.3 2.3 0 1 0 4.6 0a2.3 2.3 0 1 0 -4.6 0M137.1 660.3a2.3 2.3 0 1 0 4.6 0a2.3 2.3 0 1 0 -4.6 0M138.1 659.9a2.3 2.3 0 1 0 4.6 0a2.3 2.3 0 1 0 -4.6 0M139.1 670.1a2.3 2.3 0 1 0 4.6 0a2.3 2.3 0 1 0 -4.6 0M147.2 628.4a2.3 2.3 0 1 0 4.6 0a2.3 2.3 0 1 0 -4.6 0M115.4 643.5a2.3 2.3 0 1 0 4.6 0a2.3 2.3 0 1 0 -4.6 0M96.8 625.7a2.3 2.3 0 1 0 4.6 0a2.3 2.3 0 1 0 -4.6 0M162.5 586a2.3 2.3 0 1 0 4.6 0a2.3 2.3 0 1 0 -4.6 0M90.1 605.1a2.3 2.3 0 1 0 4.6 0a2.3 2.3 0 1 0 -4.6 0M108.7 667.9a2.3 2.3 0 1 0 4.6 0a2.3 2.3 0 1 0 -4.6 0M130.2 604.3a2.3 2.3 0 1 0 4.6 0a2.3 2.3 0 1 0 -4.6 0M96.2 603.7a2.3 2.3 0 1 0 4.6 0a2.3 2.3 0 1 0 -4.6 0M111.3 662.5a2.3 2.3 0 1 0 4.6 0a2.3 2.3 0 1 0 -4.6 0M147.2 620a2.3 2.3 0 1 0 4.6 0a2.3 2.3 0 1 0 -4.6 0M103.6 673.5a2.3 2.3 0 1 0 4.6 0a2.3 2.3 0 1 0 -4.6 0M106.3 672.8a2.3 2.3 0 1 0 4.6 0a2.3 2.3 0 1 0 -4.6 0M113 671a2.3 2.3 0 1 0 4.6 0a2.3 2.3 0 1 0 -4.6 0M111.7 678.9a2.3 2.3 0 1 0 4.6 0a2.3 2.3 0 1 0 -4.6 0M104.2 674a2.3 2.3 0 1 0 4.6 0a2.3 2.3 0 1 0 -4.6 0M109 668.1a2.3 2.3 0 1 0 4.6 0a2.3 2.3 0 1 0 -4.6 0M101.8 671.5a2.3 2.3 0 1 0 4.6 0a2.3 2.3 0 1 0 -4.6 0M112.6 678.6a2.3 2.3 0 1 0 4.6 0a2.3 2.3 0 1 0 -4.6 0M113 679.2a2.3 2.3 0 1 0 4.6 0a2.3 2.3 0 1 0 -4.6 0M104.3 668.3a2.3 2.3 0 1 0 4.6 0a2.3 2.3 0 1 0 -4.6 0M140.7 669.5a2.3 2.3 0 1 0 4.6 0a2.3 2.3 0 1 0 -4.6 0M141.7 674.2a2.3 2.3 0 1 0 4.6 0a2.3 2.3 0 1 0 -4.6 0M141.7 670a2.3 2.3 0 1 0 4.6 0a2.3 2.3 0 1 0 -4.6 0M141.9 672a2.3 2.3 0 1 0 4.6 0a2.3 2.3 0 1 0 -4.6 0M143.3 672.9a2.3 2.3 0 1 0 4.6 0a2.3 2.3 0 1 0 -4.6 0M138.4 675.3a2.3 2.3 0 1 0 4.6 0a2.3 2.3 0 1 0 -4.6 0M144.1 668.7a2.3 2.3 0 1 0 4.6 0a2.3 2.3 0 1 0 -4.6 0M139.6 674.7a2.3 2.3 0 1 0 4.6 0a2.3 2.3 0 1 0 -4.6 0M135.4 667.7a2.3 2.3 0 1 0 4.6 0a2.3 2.3 0 1 0 -4.6 0M141.9 676.7a2.3 2.3 0 1 0 4.6 0a2.3 2.3 0 1 0 -4.6 0M173.2 587.6a2.3 2.3 0 1 0 4.6 0a2.3 2.3 0 1 0 -4.6 0M165.5 587.1a2.3 2.3 0 1 0 4.6 0a2.3 2.3 0 1 0 -4.6 0M164.7 582.4a2.3 2.3 0 1 0 4.6 0a2.3 2.3 0 1 0 -4.6 0M190.9 586.4a2.3 2.3 0 1 0 4.6 0a2.3 2.3 0 1 0 -4.6 0M178.2 582.5a2.3 2.3 0 1 0 4.6 0a2.3 2.3 0 1 0 -4.6 0M190 580.5a2.3 2.3 0 1 0 4.6 0a2.3 2.3 0 1 0 -4.6 0M176.9 584.4a2.3 2.3 0 1 0 4.6 0a2.3 2.3 0 1 0 -4.6 0M183.5 579.7a2.3 2.3 0 1 0 4.6 0a2.3 2.3 0 1 0 -4.6 0M204.2 578.4a2.3 2.3 0 1 0 4.6 0a2.3 2.3 0 1 0 -4.6 0M205.9 589.1a2.3 2.3 0 1 0 4.6 0a2.3 2.3 0 1 0 -4.6 0M164.6 578.5a2.3 2.3 0 1 0 4.6 0a2.3 2.3 0 1 0 -4.6 0M206.7 587.1a2.3 2.3 0 1 0 4.6 0a2.3 2.3 0 1 0 -4.6 0M186.8 577.6a2.3 2.3 0 1 0 4.6 0a2.3 2.3 0 1 0 -4.6 0M198.4 594.1a2.3 2.3 0 1 0 4.6 0a2.3 2.3 0 1 0 -4.6 0M205.7 584.1a2.3 2.3 0 1 0 4.6 0a2.3 2.3 0 1 0 -4.6 0M171.9 581.8a2.3 2.3 0 1 0 4.6 0a2.3 2.3 0 1 0 -4.6 0M181.1 576a2.3 2.3 0 1 0 4.6 0a2.3 2.3 0 1 0 -4.6 0M204.1 583.7a2.3 2.3 0 1 0 4.6 0a2.3 2.3 0 1 0 -4.6 0M186.9 582.8a2.3 2.3 0 1 0 4.6 0a2.3 2.3 0 1 0 -4.6 0M204.4 581.1a2.3 2.3 0 1 0 4.6 0a2.3 2.3 0 1 0 -4.6 0M201.7 583.4a2.3 2.3 0 1 0 4.6 0a2.3 2.3 0 1 0 -4.6 0M209.7 590.3a2.3 2.3 0 1 0 4.6 0a2.3 2.3 0 1 0 -4.6 0M194.1 580.4a2.3 2.3 0 1 0 4.6 0a2.3 2.3 0 1 0 -4.6 0M165.9 585.3a2.3 2.3 0 1 0 4.6 0a2.3 2.3 0 1 0 -4.6 0M205.5 580.3a2.3 2.3 0 1 0 4.6 0a2.3 2.3 0 1 0 -4.6 0M171.5 584.7a2.3 2.3 0 1 0 4.6 0a2.3 2.3 0 1 0 -4.6 0M169.5 580.7a2.3 2.3 0 1 0 4.6 0a2.3 2.3 0 1 0 -4.6 0M180.8 591.5a2.3 2.3 0 1 0 4.6 0a2.3 2.3 0 1 0 -4.6 0M173 586.4a2.3 2.3 0 1 0 4.6 0a2.3 2.3 0 1 0 -4.6 0M168.9 585.2a2.3 2.3 0 1 0 4.6 0a2.3 2.3 0 1 0 -4.6 0M193.6 587.8a2.3 2.3 0 1 0 4.6 0a2.3 2.3 0 1 0 -4.6 0M205.7 581a2.3 2.3 0 1 0 4.6 0a2.3 2.3 0 1 0 -4.6 0M175.2 586.7a2.3 2.3 0 1 0 4.6 0a2.3 2.3 0 1 0 -4.6 0M181.2 581a2.3 2.3 0 1 0 4.6 0a2.3 2.3 0 1 0 -4.6 0M191.6 580.8a2.3 2.3 0 1 0 4.6 0a2.3 2.3 0 1 0 -4.6 0M176 591.6a2.3 2.3 0 1 0 4.6 0a2.3 2.3 0 1 0 -4.6 0M186.2 583.7a2.3 2.3 0 1 0 4.6 0a2.3 2.3 0 1 0 -4.6 0M205.5 597.2a2.3 2.3 0 1 0 4.6 0a2.3 2.3 0 1 0 -4.6 0M167.7 578.8a2.3 2.3 0 1 0 4.6 0a2.3 2.3 0 1 0 -4.6 0M188.6 583.9a2.3 2.3 0 1 0 4.6 0a2.3 2.3 0 1 0 -4.6 0M173 581.4a2.3 2.3 0 1 0 4.6 0a2.3 2.3 0 1 0 -4.6 0M198.4 582.3a2.3 2.3 0 1 0 4.6 0a2.3 2.3 0 1 0 -4.6 0M172.2 576.6a2.3 2.3 0 1 0 4.6 0a2.3 2.3 0 1 0 -4.6 0M201.2 586.7a2.3 2.3 0 1 0 4.6 0a2.3 2.3 0 1 0 -4.6 0M182.5 583.6a2.3 2.3 0 1 0 4.6 0a2.3 2.3 0 1 0 -4.6 0M239 588.2a2.3 2.3 0 1 0 4.6 0a2.3 2.3 0 1 0 -4.6 0M238.9 591.4a2.3 2.3 0 1 0 4.6 0a2.3 2.3 0 1 0 -4.6 0M229.7 634.1a2.3 2.3 0 1 0 4.6 0a2.3 2.3 0 1 0 -4.6 0M227.2 636.7a2.3 2.3 0 1 0 4.6 0a2.3 2.3 0 1 0 -4.6 0M222.3 629.5a2.3 2.3 0 1 0 4.6 0a2.3 2.3 0 1 0 -4.6 0M234.5 612.8a2.3 2.3 0 1 0 4.6 0a2.3 2.3 0 1 0 -4.6 0M218.8 607.8a2.3 2.3 0 1 0 4.6 0a2.3 2.3 0 1 0 -4.6 0M226.1 623.8a2.3 2.3 0 1 0 4.6 0a2.3 2.3 0 1 0 -4.6 0M212.1 597a2.3 2.3 0 1 0 4.6 0a2.3 2.3 0 1 0 -4.6 0M227.2 631a2.3 2.3 0 1 0 4.6 0a2.3 2.3 0 1 0 -4.6 0M219.3 605.7a2.3 2.3 0 1 0 4.6 0a2.3 2.3 0 1 0 -4.6 0M237 594.4a2.3 2.3 0 1 0 4.6 0a2.3 2.3 0 1 0 -4.6 0M226.3 636a2.3 2.3 0 1 0 4.6 0a2.3 2.3 0 1 0 -4.6 0M223.1 609.3a2.3 2.3 0 1 0 4.6 0a2.3 2.3 0 1 0 -4.6 0M220.9 611.6a2.3 2.3 0 1 0 4.6 0a2.3 2.3 0 1 0 -4.6 0M220 603.4a2.3 2.3 0 1 0 4.6 0a2.3 2.3 0 1 0 -4.6 0M214.3 592a2.3 2.3 0 1 0 4.6 0a2.3 2.3 0 1 0 -4.6 0M214.5 586.8a2.3 2.3 0 1 0 4.6 0a2.3 2.3 0 1 0 -4.6 0M233.7 615a2.3 2.3 0 1 0 4.6 0a2.3 2.3 0 1 0 -4.6 0M215.7 596.3a2.3 2.3 0 1 0 4.6 0a2.3 2.3 0 1 0 -4.6 0M237.1 599.7a2.3 2.3 0 1 0 4.6 0a2.3 2.3 0 1 0 -4.6 0M240 589.7a2.3 2.3 0 1 0 4.6 0a2.3 2.3 0 1 0 -4.6 0M238.4 590.8a2.3 2.3 0 1 0 4.6 0a2.3 2.3 0 1 0 -4.6 0M216.8 604a2.3 2.3 0 1 0 4.6 0a2.3 2.3 0 1 0 -4.6 0M235.8 611.2a2.3 2.3 0 1 0 4.6 0a2.3 2.3 0 1 0 -4.6 0M232.1 630.7a2.3 2.3 0 1 0 4.6 0a2.3 2.3 0 1 0 -4.6 0M240.3 591.6a2.3 2.3 0 1 0 4.6 0a2.3 2.3 0 1 0 -4.6 0M223 617.8a2.3 2.3 0 1 0 4.6 0a2.3 2.3 0 1 0 -4.6 0M230.7 631a2.3 2.3 0 1 0 4.6 0a2.3 2.3 0 1 0 -4.6 0M232.5 629.5a2.3 2.3 0 1 0 4.6 0a2.3 2.3 0 1 0 -4.6 0M218.4 602.2a2.3 2.3 0 1 0 4.6 0a2.3 2.3 0 1 0 -4.6 0M231.4 630.3a2.3 2.3 0 1 0 4.6 0a2.3 2.3 0 1 0 -4.6 0M236.9 611.8a2.3 2.3 0 1 0 4.6 0a2.3 2.3 0 1 0 -4.6 0M236.7 608.4a2.3 2.3 0 1 0 4.6 0a2.3 2.3 0 1 0 -4.6 0M238.1 599.6a2.3 2.3 0 1 0 4.6 0a2.3 2.3 0 1 0 -4.6 0M209.1 586.9a2.3 2.3 0 1 0 4.6 0a2.3 2.3 0 1 0 -4.6 0M234.7 612.2a2.3 2.3 0 1 0 4.6 0a2.3 2.3 0 1 0 -4.6 0M225.9 621.2a2.3 2.3 0 1 0 4.6 0a2.3 2.3 0 1 0 -4.6 0M233.2 608.5a2.3 2.3 0 1 0 4.6 0a2.3 2.3 0 1 0 -4.6 0M217.5 601.6a2.3 2.3 0 1 0 4.6 0a2.3 2.3 0 1 0 -4.6 0M225.7 626.1a2.3 2.3 0 1 0 4.6 0a2.3 2.3 0 1 0 -4.6 0M225.5 627.3a2.3 2.3 0 1 0 4.6 0a2.3 2.3 0 1 0 -4.6 0M234.6 620.9a2.3 2.3 0 1 0 4.6 0a2.3 2.3 0 1 0 -4.6 0M231.4 630.6a2.3 2.3 0 1 0 4.6 0a2.3 2.3 0 1 0 -4.6 0M236.5 606.5a2.3 2.3 0 1 0 4.6 0a2.3 2.3 0 1 0 -4.6 0M206.5 586.9a2.3 2.3 0 1 0 4.6 0a2.3 2.3 0 1 0 -4.6 0M220.7 614.5a2.3 2.3 0 1 0 4.6 0a2.3 2.3 0 1 0 -4.6 0M237.2 615.3a2.3 2.3 0 1 0 4.6 0a2.3 2.3 0 1 0 -4.6 0M219.6 613.8a2.3 2.3 0 1 0 4.6 0a2.3 2.3 0 1 0 -4.6 0M233.3 602.3a2.3 2.3 0 1 0 4.6 0a2.3 2.3 0 1 0 -4.6 0M229 662.7a2.3 2.3 0 1 0 4.6 0a2.3 2.3 0 1 0 -4.6 0M230.9 669.9a2.3 2.3 0 1 0 4.6 0a2.3 2.3 0 1 0 -4.6 0M229.3 647a2.3 2.3 0 1 0 4.6 0a2.3 2.3 0 1 0 -4.6 0M227.2 662a2.3 2.3 0 1 0 4.6 0a2.3 2.3 0 1 0 -4.6 0M230.6 649a2.3 2.3 0 1 0 4.6 0a2.3 2.3 0 1 0 -4.6 0M232 668.9a2.3 2.3 0 1 0 4.6 0a2.3 2.3 0 1 0 -4.6 0M229 641.3a2.3 2.3 0 1 0 4.6 0a2.3 2.3 0 1 0 -4.6 0M227.1 644.5a2.3 2.3 0 1 0 4.6 0a2.3 2.3 0 1 0 -4.6 0M230.6 676.8a2.3 2.3 0 1 0 4.6 0a2.3 2.3 0 1 0 -4.6 0M229.4 668.2a2.3 2.3 0 1 0 4.6 0a2.3 2.3 0 1 0 -4.6 0M231 648.3a2.3 2.3 0 1 0 4.6 0a2.3 2.3 0 1 0 -4.6 0M229.8 650.8a2.3 2.3 0 1 0 4.6 0a2.3 2.3 0 1 0 -4.6 0M231.4 655.8a2.3 2.3 0 1 0 4.6 0a2.3 2.3 0 1 0 -4.6 0M226.3 647.6a2.3 2.3 0 1 0 4.6 0a2.3 2.3 0 1 0 -4.6 0M230.1 643.8a2.3 2.3 0 1 0 4.6 0a2.3 2.3 0 1 0 -4.6 0M273.3 584.5a2.3 2.3 0 1 0 4.6 0a2.3 2.3 0 1 0 -4.6 0M248.7 586.1a2.3 2.3 0 1 0 4.6 0a2.3 2.3 0 1 0 -4.6 0M266 585.6a2.3 2.3 0 1 0 4.6 0a2.3 2.3 0 1 0 -4.6 0M266.1 587.2a2.3 2.3 0 1 0 4.6 0a2.3 2.3 0 1 0 -4.6 0M266.9 586a2.3 2.3 0 1 0 4.6 0a2.3 2.3 0 1 0 -4.6 0M251.7 585.1a2.3 2.3 0 1 0 4.6 0a2.3 2.3 0 1 0 -4.6 0M249.4 583.9a2.3 2.3 0 1 0 4.6 0a2.3 2.3 0 1 0 -4.6 0M262.8 577.9a2.3 2.3 0 1 0 4.6 0a2.3 2.3 0 1 0 -4.6 0M274.4 584a2.3 2.3 0 1 0 4.6 0a2.3 2.3 0 1 0 -4.6 0M254.1 583a2.3 2.3 0 1 0 4.6 0a2.3 2.3 0 1 0 -4.6 0M249.5 583.4a2.3 2.3 0 1 0 4.6 0a2.3 2.3 0 1 0 -4.6 0M258.8 592.3a2.3 2.3 0 1 0 4.6 0a2.3 2.3 0 1 0 -4.6 0M247.9 578.1a2.3 2.3 0 1 0 4.6 0a2.3 2.3 0 1 0 -4.6 0M253.9 584.4a2.3 2.3 0 1 0 4.6 0a2.3 2.3 0 1 0 -4.6 0M266.1 587.7a2.3 2.3 0 1 0 4.6 0a2.3 2.3 0 1 0 -4.6 0M248.9 587.8a2.3 2.3 0 1 0 4.6 0a2.3 2.3 0 1 0 -4.6 0M256.7 588.3a2.3 2.3 0 1 0 4.6 0a2.3 2.3 0 1 0 -4.6 0M263 579.2a2.3 2.3 0 1 0 4.6 0a2.3 2.3 0 1 0 -4.6 0M247.9 581.4a2.3 2.3 0 1 0 4.6 0a2.3 2.3 0 1 0 -4.6 0M246.5 587a2.3 2.3 0 1 0 4.6 0a2.3 2.3 0 1 0 -4.6 0M273.5 582.2a2.3 2.3 0 1 0 4.6 0a2.3 2.3 0 1 0 -4.6 0M270.6 589.3a2.3 2.3 0 1 0 4.6 0a2.3 2.3 0 1 0 -4.6 0M271.1 584.1a2.3 2.3 0 1 0 4.6 0a2.3 2.3 0 1 0 -4.6 0M259.9 584.4a2.3 2.3 0 1 0 4.6 0a2.3 2.3 0 1 0 -4.6 0M258.5 585.4a2.3 2.3 0 1 0 4.6 0a2.3 2.3 0 1 0 -4.6 0M245.2 584.1a2.3 2.3 0 1 0 4.6 0a2.3 2.3 0 1 0 -4.6 0M250.4 584.9a2.3 2.3 0 1 0 4.6 0a2.3 2.3 0 1 0 -4.6 0M246.7 582.6a2.3 2.3 0 1 0 4.6 0a2.3 2.3 0 1 0 -4.6 0" fill="#b71c1f"/>
<path d="M74 587 L74.5 587 L75 587 L75.5 587.1 L76 587.1 L76.5 587.2 L77 587.3 L77.5 587.4 L78 587.5 L78.5 587.6 L79 587.7 L79.5 587.9 L80 588 L80.5 588.2 L81 588.4 L81.5 588.6 L82 588.9 L82.5 589.2 L83 589.5 L83.5 589.9 L84 590.3 L84.5 590.7 L85 591.1 L85.5 591.6 L86 592 L86.5 592.5 L87 593 L87.5 593.5 L88 594.1 L88.5 594.7 L89 595.3 L89.5 596 L90 596.7 L90.5 597.5 L91 598.3 L91.5 599.1 L92 600 L92.5 600.9 L93 602 L93.5 603.1 L94 604.3 L94.5 605.6 L95 607 L95.5 608.4 L96 610 L96.5 611.8 L97 613.8 L97.5 616 L98 618.4 L98.5 620.8 L99 623.3 L99.5 625.7 L100 628 L100.5 630.2 L101 632.5 L101.5 634.7 L102 637 L102.5 639.2 L103 641.5 L103.5 643.7 L104 646 L104.5 648.3 L105 650.6 L105.5 653 L106 655.3 L106.5 657.7 L107 660 L107.5 662.7 L108 665.7 L108.5 668.8 L109 671.4 L109.5 673.3 L110 674 L110.5 673.6 L111 672.6 L111.5 671 L112 669 L112.5 666.8 L113 664.5 L113.5 662.1 L114 660 L114.5 658 L115 655.9 L115.5 653.7 L116 651.4 L116.5 648.8 L117 646 L117.5 642.6 L118 638.5 L118.5 634.2 L119 630 L119.5 625.8 L120 621.3 L120.5 617.2 L121 614 L121.5 611.4 L122 609.1 L122.5 607.3 L123 606 L123.5 605.1 L124 604.3 L124.5 603.6 L125 603.2 L125.5 603 L126 603.2 L126.5 603.8 L127 604.7 L127.5 605.8 L128 607 L128.5 608.9 L129 611.7 L129.5 614.9 L130 618 L130.5 621 L131 624.1 L131.5 627.1 L132 630 L132.5 632.6 L133 635.2 L133.5 637.6 L134 640 L134.5 642.4 L135 644.8 L135.5 647.2 L136 649.5 L136.5 651.8 L137 654 L137.5 656.2 L138 658.4 L138.5 660.5 L139 662.5 L139.5 664.4 L140 666 L140.5 667.5 L141 669.1 L141.5 670.6 L142 671.8 L142.5 672.7 L143 673 L143.5 672.1 L144 669.7 L144.5 666.3 L145 662.3 L145.5 658 L146 654 L146.5 649.8 L147 645.1 L147.5 640.3 L148 636 L148.5 632.2 L149 628.6 L149.5 625.3 L150 622 L150.5 618.7 L151 615.3 L151.5 612.3 L152 610 L152.5 608.3 L153 606.8 L153.5 605.6 L154 604.4 L154.5 603.3 L155 602 L155.5 600.6 L156 599.2 L156.5 597.7 L157 596.3 L157.5 595.1 L158 594 L158.5 593 L159 592.1 L159.5 591.2 L160 590.4 L160.5 589.7 L161 589 L161.5 588.5 L162 588 L162.5 587.6 L163 587.2 L163.5 586.9 L164 586.5 L164.5 586.2 L165 585.9 L165.5 585.6 L166 585.4 L166.5 585.1 L167 584.9 L167.5 584.7 L168 584.5 L168.5 584.4 L169 584.2 L169.5 584.1 L170 584 L170.5 583.9 L171 583.8 L171.5 583.8 L172 583.7 L172.5 583.6 L173 583.5 L173.5 583.5 L174 583.4 L174.5 583.3 L175 583.3 L175.5 583.2 L176 583.2 L176.5 583.1 L177 583.1 L177.5 583.1 L178 583 L178.5 583 L179 583 L179.5 583 L180 583 L180.5 583 L181 583 L181.5 583 L182 583 L182.5 583 L183 583 L183.5 583 L184 583 L184.5 583 L185 583 L185.5 583 L186 583 L186.5 583 L187 583 L187.5 583 L188 583 L188.5 583 L189 583 L189.5 583 L190 583 L190.5 583 L191 583 L191.5 583 L192 583 L192.5 583 L193 583 L193.5 583 L194 583 L194.5 583 L195 583 L195.5 583 L196 583 L196.5 583 L197 583 L197.5 583.1 L198 583.1 L198.5 583.1 L199 583.1 L199.5 583.2 L200 583.2 L200.5 583.3 L201 583.3 L201.5 583.4 L202 583.4 L202.5 583.5 L203 583.6 L203.5 583.6 L204 583.7 L204.5 583.8 L205 583.8 L205.5 583.9 L206 584 L206.5 584.1 L207 584.2 L207.5 584.4 L208 584.6 L208.5 584.8 L209 585 L209.5 585.3 L210 585.6 L210.5 585.9 L211 586.3 L211.5 586.6 L212 587 L212.5 587.4 L213 588 L213.5 588.7 L214 589.4 L214.5 590.2 L215 591 L215.5 591.9 L216 593 L216.5 594.1 L217 595.4 L217.5 596.7 L218 598 L218.5 599.3 L219 600.6 L219.5 601.9 L220 603.2 L220.5 604.5 L221 605.8 L221.5 607.1 L222 608.4 L222.5 609.7 L223 611 L223.5 612.3 L224 613.5 L224.5 614.6 L225 615.9 L225.5 617.2 L226 618.7 L226.5 620.4 L227 622.5 L227.5 625 L228 627.6 L228.5 630 L229 632.2 L229.5 634.4 L230 636.4 L230.5 638 L231 639.4 L231.5 640.5 L232 641 L232.5 640.5 L233 639.2 L233.5 637.3 L234 635 L234.5 632.5 L235 630 L235.5 627.2 L236 623.7 L236.5 619.8 L237 615.7 L237.5 611.7 L238 607.8 L238.5 603.7 L239 599.3 L239.5 595.5 L240 593 L240.5 591.4 L241 589.9 L241.5 588.7 L242 587.6 L242.5 586.7 L243 586.1 L243.5 585.7 L244 585.6 L244.5 585.4 L245 585.3 L245.5 585.2 L246 585 L246.5 584.9 L247 584.8 L247.5 584.8 L248 584.7 L248.5 584.6 L249 584.5 L249.5 584.5 L250 584.4 L250.5 584.4 L251 584.3 L251.5 584.3 L252 584.2 L252.5 584.2 L253 584.1 L253.5 584.1 L254 584.1 L254.5 584 L255 584 L255.5 584 L256 583.9 L256.5 583.9 L257 583.9 L257.5 583.8 L258 583.8 L258.5 583.7 L259 583.7 L259.5 583.7 L260 583.6 L260.5 583.6 L261 583.6 L261.5 583.6 L262 583.5 L262.5 583.5 L263 583.5 L263.5 583.4 L264 583.4 L264.5 583.4 L265 583.3 L265.5 583.3 L266 583.3 L266.5 583.3 L267 583.2 L267.5 583.2 L268 583.2 L268.5 583.2 L269 583.2 L269.5 583.1 L270 583.1 L270.5 583.1 L271 583.1 L271.5 583.1 L272 583.1 L272.5 583.1 L273 583 L273.5 583 L274 583 L274.5 583 L275 583 L275.5 583 L276 583 L276.5 583 L277 583" fill="none" stroke="#b81c1c" stroke-width="1.8" stroke-linejoin="round"/></g>
<rect x="64.4" y="0.6" width="278.6" height="125.2" fill="none" stroke="#000" stroke-width="1.3"/>
<line x1="59.9" y1="125.8" x2="64.4" y2="125.8" stroke="#000" stroke-width="1.2"/>
<line x1="338" y1="125.8" x2="343" y2="125.8" stroke="#000" stroke-width="1.2"/>
<text x="52.6" y="131.4" font-size="16.4" text-anchor="end" >0.0</text>
<line x1="61.9" y1="115.4" x2="64.4" y2="115.4" stroke="#000" stroke-width="1.2"/>
<line x1="340" y1="115.4" x2="343" y2="115.4" stroke="#000" stroke-width="1.2"/>
<line x1="59.9" y1="104.9" x2="64.4" y2="104.9" stroke="#000" stroke-width="1.2"/>
<line x1="338" y1="104.9" x2="343" y2="104.9" stroke="#000" stroke-width="1.2"/>
<text x="52.6" y="110.5" font-size="16.4" text-anchor="end" >0.2</text>
<line x1="61.9" y1="94.5" x2="64.4" y2="94.5" stroke="#000" stroke-width="1.2"/>
<line x1="340" y1="94.5" x2="343" y2="94.5" stroke="#000" stroke-width="1.2"/>
<line x1="59.9" y1="84.1" x2="64.4" y2="84.1" stroke="#000" stroke-width="1.2"/>
<line x1="338" y1="84.1" x2="343" y2="84.1" stroke="#000" stroke-width="1.2"/>
<text x="52.6" y="89.7" font-size="16.4" text-anchor="end" >0.4</text>
<line x1="61.9" y1="73.6" x2="64.4" y2="73.6" stroke="#000" stroke-width="1.2"/>
<line x1="340" y1="73.6" x2="343" y2="73.6" stroke="#000" stroke-width="1.2"/>
<line x1="59.9" y1="63.2" x2="64.4" y2="63.2" stroke="#000" stroke-width="1.2"/>
<line x1="338" y1="63.2" x2="343" y2="63.2" stroke="#000" stroke-width="1.2"/>
<text x="52.6" y="68.8" font-size="16.4" text-anchor="end" >0.6</text>
<line x1="61.9" y1="52.8" x2="64.4" y2="52.8" stroke="#000" stroke-width="1.2"/>
<line x1="340" y1="52.8" x2="343" y2="52.8" stroke="#000" stroke-width="1.2"/>
<line x1="59.9" y1="42.3" x2="64.4" y2="42.3" stroke="#000" stroke-width="1.2"/>
<line x1="338" y1="42.3" x2="343" y2="42.3" stroke="#000" stroke-width="1.2"/>
<text x="52.6" y="47.9" font-size="16.4" text-anchor="end" >0.8</text>
<line x1="61.9" y1="31.9" x2="64.4" y2="31.9" stroke="#000" stroke-width="1.2"/>
<line x1="340" y1="31.9" x2="343" y2="31.9" stroke="#000" stroke-width="1.2"/>
<line x1="59.9" y1="21.5" x2="64.4" y2="21.5" stroke="#000" stroke-width="1.2"/>
<line x1="338" y1="21.5" x2="343" y2="21.5" stroke="#000" stroke-width="1.2"/>
<text x="52.6" y="27.1" font-size="16.4" text-anchor="end" >1.0</text>
<line x1="61.9" y1="11" x2="64.4" y2="11" stroke="#000" stroke-width="1.2"/>
<line x1="340" y1="11" x2="343" y2="11" stroke="#000" stroke-width="1.2"/>
<line x1="59.9" y1="0.6" x2="64.4" y2="0.6" stroke="#000" stroke-width="1.2"/>
<line x1="338" y1="0.6" x2="343" y2="0.6" stroke="#000" stroke-width="1.2"/>
<line x1="64.4" y1="0.6" x2="64.4" y2="6.1" stroke="#000" stroke-width="1.2"/>
<line x1="80.8" y1="0.6" x2="80.8" y2="4.1" stroke="#000" stroke-width="1.2"/>
<line x1="80.8" y1="122.6" x2="80.8" y2="132.1" stroke="#000" stroke-width="1.2"/>
<line x1="97.2" y1="0.6" x2="97.2" y2="6.1" stroke="#000" stroke-width="1.2"/>
<line x1="97.2" y1="120.8" x2="97.2" y2="133.6" stroke="#000" stroke-width="1.2"/>
<line x1="113.6" y1="0.6" x2="113.6" y2="4.1" stroke="#000" stroke-width="1.2"/>
<line x1="113.6" y1="122.6" x2="113.6" y2="132.1" stroke="#000" stroke-width="1.2"/>
<line x1="130" y1="0.6" x2="130" y2="6.1" stroke="#000" stroke-width="1.2"/>
<line x1="130" y1="120.8" x2="130" y2="133.6" stroke="#000" stroke-width="1.2"/>
<line x1="146.4" y1="0.6" x2="146.4" y2="4.1" stroke="#000" stroke-width="1.2"/>
<line x1="146.4" y1="122.6" x2="146.4" y2="132.1" stroke="#000" stroke-width="1.2"/>
<line x1="162.7" y1="0.6" x2="162.7" y2="6.1" stroke="#000" stroke-width="1.2"/>
<line x1="162.7" y1="120.8" x2="162.7" y2="133.6" stroke="#000" stroke-width="1.2"/>
<line x1="179.1" y1="0.6" x2="179.1" y2="4.1" stroke="#000" stroke-width="1.2"/>
<line x1="179.1" y1="122.6" x2="179.1" y2="132.1" stroke="#000" stroke-width="1.2"/>
<line x1="195.5" y1="0.6" x2="195.5" y2="6.1" stroke="#000" stroke-width="1.2"/>
<line x1="195.5" y1="120.8" x2="195.5" y2="133.6" stroke="#000" stroke-width="1.2"/>
<line x1="211.9" y1="0.6" x2="211.9" y2="4.1" stroke="#000" stroke-width="1.2"/>
<line x1="211.9" y1="122.6" x2="211.9" y2="132.1" stroke="#000" stroke-width="1.2"/>
<line x1="228.3" y1="0.6" x2="228.3" y2="6.1" stroke="#000" stroke-width="1.2"/>
<line x1="228.3" y1="120.8" x2="228.3" y2="133.6" stroke="#000" stroke-width="1.2"/>
<line x1="244.7" y1="0.6" x2="244.7" y2="4.1" stroke="#000" stroke-width="1.2"/>
<line x1="244.7" y1="122.6" x2="244.7" y2="132.1" stroke="#000" stroke-width="1.2"/>
<line x1="261.1" y1="0.6" x2="261.1" y2="6.1" stroke="#000" stroke-width="1.2"/>
<line x1="261.1" y1="120.8" x2="261.1" y2="133.6" stroke="#000" stroke-width="1.2"/>
<line x1="277.5" y1="0.6" x2="277.5" y2="4.1" stroke="#000" stroke-width="1.2"/>
<line x1="277.5" y1="122.6" x2="277.5" y2="132.1" stroke="#000" stroke-width="1.2"/>
<line x1="293.9" y1="0.6" x2="293.9" y2="6.1" stroke="#000" stroke-width="1.2"/>
<line x1="293.9" y1="120.8" x2="293.9" y2="133.6" stroke="#000" stroke-width="1.2"/>
<line x1="310.2" y1="0.6" x2="310.2" y2="4.1" stroke="#000" stroke-width="1.2"/>
<line x1="310.2" y1="122.6" x2="310.2" y2="132.1" stroke="#000" stroke-width="1.2"/>
<line x1="326.6" y1="0.6" x2="326.6" y2="6.1" stroke="#000" stroke-width="1.2"/>
<line x1="326.6" y1="120.8" x2="326.6" y2="133.6" stroke="#000" stroke-width="1.2"/>
<line x1="343" y1="0.6" x2="343" y2="4.1" stroke="#000" stroke-width="1.2"/>
<rect x="64.4" y="129.3" width="278.6" height="125.1" fill="none" stroke="#000" stroke-width="1.3"/>
<line x1="59.9" y1="254.4" x2="64.4" y2="254.4" stroke="#000" stroke-width="1.2"/>
<line x1="338" y1="254.4" x2="343" y2="254.4" stroke="#000" stroke-width="1.2"/>
<text x="52.6" y="260" font-size="16.4" text-anchor="end" >0.0</text>
<line x1="61.9" y1="244" x2="64.4" y2="244" stroke="#000" stroke-width="1.2"/>
<line x1="340" y1="244" x2="343" y2="244" stroke="#000" stroke-width="1.2"/>
<line x1="59.9" y1="233.6" x2="64.4" y2="233.6" stroke="#000" stroke-width="1.2"/>
<line x1="338" y1="233.6" x2="343" y2="233.6" stroke="#000" stroke-width="1.2"/>
<text x="52.6" y="239.2" font-size="16.4" text-anchor="end" >0.2</text>
<line x1="61.9" y1="223.1" x2="64.4" y2="223.1" stroke="#000" stroke-width="1.2"/>
<line x1="340" y1="223.1" x2="343" y2="223.1" stroke="#000" stroke-width="1.2"/>
<line x1="59.9" y1="212.7" x2="64.4" y2="212.7" stroke="#000" stroke-width="1.2"/>
<line x1="338" y1="212.7" x2="343" y2="212.7" stroke="#000" stroke-width="1.2"/>
<text x="52.6" y="218.3" font-size="16.4" text-anchor="end" >0.4</text>
<line x1="61.9" y1="202.3" x2="64.4" y2="202.3" stroke="#000" stroke-width="1.2"/>
<line x1="340" y1="202.3" x2="343" y2="202.3" stroke="#000" stroke-width="1.2"/>
<line x1="59.9" y1="191.9" x2="64.4" y2="191.9" stroke="#000" stroke-width="1.2"/>
<line x1="338" y1="191.9" x2="343" y2="191.9" stroke="#000" stroke-width="1.2"/>
<text x="52.6" y="197.5" font-size="16.4" text-anchor="end" >0.6</text>
<line x1="61.9" y1="181.4" x2="64.4" y2="181.4" stroke="#000" stroke-width="1.2"/>
<line x1="340" y1="181.4" x2="343" y2="181.4" stroke="#000" stroke-width="1.2"/>
<line x1="59.9" y1="171" x2="64.4" y2="171" stroke="#000" stroke-width="1.2"/>
<line x1="338" y1="171" x2="343" y2="171" stroke="#000" stroke-width="1.2"/>
<text x="52.6" y="176.6" font-size="16.4" text-anchor="end" >0.8</text>
<line x1="61.9" y1="160.6" x2="64.4" y2="160.6" stroke="#000" stroke-width="1.2"/>
<line x1="340" y1="160.6" x2="343" y2="160.6" stroke="#000" stroke-width="1.2"/>
<line x1="59.9" y1="150.2" x2="64.4" y2="150.2" stroke="#000" stroke-width="1.2"/>
<line x1="338" y1="150.2" x2="343" y2="150.2" stroke="#000" stroke-width="1.2"/>
<text x="52.6" y="155.8" font-size="16.4" text-anchor="end" >1.0</text>
<line x1="61.9" y1="139.7" x2="64.4" y2="139.7" stroke="#000" stroke-width="1.2"/>
<line x1="340" y1="139.7" x2="343" y2="139.7" stroke="#000" stroke-width="1.2"/>
<line x1="59.9" y1="129.3" x2="64.4" y2="129.3" stroke="#000" stroke-width="1.2"/>
<line x1="338" y1="129.3" x2="343" y2="129.3" stroke="#000" stroke-width="1.2"/>
<line x1="80.8" y1="251.2" x2="80.8" y2="260.3" stroke="#000" stroke-width="1.2"/>
<line x1="97.2" y1="249.4" x2="97.2" y2="261.8" stroke="#000" stroke-width="1.2"/>
<line x1="113.6" y1="251.2" x2="113.6" y2="260.3" stroke="#000" stroke-width="1.2"/>
<line x1="130" y1="249.4" x2="130" y2="261.8" stroke="#000" stroke-width="1.2"/>
<line x1="146.4" y1="251.2" x2="146.4" y2="260.3" stroke="#000" stroke-width="1.2"/>
<line x1="162.7" y1="249.4" x2="162.7" y2="261.8" stroke="#000" stroke-width="1.2"/>
<line x1="179.1" y1="251.2" x2="179.1" y2="260.3" stroke="#000" stroke-width="1.2"/>
<line x1="195.5" y1="249.4" x2="195.5" y2="261.8" stroke="#000" stroke-width="1.2"/>
<line x1="211.9" y1="251.2" x2="211.9" y2="260.3" stroke="#000" stroke-width="1.2"/>
<line x1="228.3" y1="249.4" x2="228.3" y2="261.8" stroke="#000" stroke-width="1.2"/>
<line x1="244.7" y1="251.2" x2="244.7" y2="260.3" stroke="#000" stroke-width="1.2"/>
<line x1="261.1" y1="249.4" x2="261.1" y2="261.8" stroke="#000" stroke-width="1.2"/>
<line x1="277.5" y1="251.2" x2="277.5" y2="260.3" stroke="#000" stroke-width="1.2"/>
<line x1="293.9" y1="249.4" x2="293.9" y2="261.8" stroke="#000" stroke-width="1.2"/>
<line x1="310.2" y1="251.2" x2="310.2" y2="260.3" stroke="#000" stroke-width="1.2"/>
<line x1="326.6" y1="249.4" x2="326.6" y2="261.8" stroke="#000" stroke-width="1.2"/>
<rect x="64.4" y="257.5" width="278.6" height="125.3" fill="none" stroke="#000" stroke-width="1.3"/>
<line x1="59.9" y1="382.8" x2="64.4" y2="382.8" stroke="#000" stroke-width="1.2"/>
<line x1="338" y1="382.8" x2="343" y2="382.8" stroke="#000" stroke-width="1.2"/>
<text x="52.6" y="388.4" font-size="16.4" text-anchor="end" >0.0</text>
<line x1="61.9" y1="372.4" x2="64.4" y2="372.4" stroke="#000" stroke-width="1.2"/>
<line x1="340" y1="372.4" x2="343" y2="372.4" stroke="#000" stroke-width="1.2"/>
<line x1="59.9" y1="361.9" x2="64.4" y2="361.9" stroke="#000" stroke-width="1.2"/>
<line x1="338" y1="361.9" x2="343" y2="361.9" stroke="#000" stroke-width="1.2"/>
<text x="52.6" y="367.5" font-size="16.4" text-anchor="end" >0.2</text>
<line x1="61.9" y1="351.5" x2="64.4" y2="351.5" stroke="#000" stroke-width="1.2"/>
<line x1="340" y1="351.5" x2="343" y2="351.5" stroke="#000" stroke-width="1.2"/>
<line x1="59.9" y1="341" x2="64.4" y2="341" stroke="#000" stroke-width="1.2"/>
<line x1="338" y1="341" x2="343" y2="341" stroke="#000" stroke-width="1.2"/>
<text x="52.6" y="346.6" font-size="16.4" text-anchor="end" >0.4</text>
<line x1="61.9" y1="330.6" x2="64.4" y2="330.6" stroke="#000" stroke-width="1.2"/>
<line x1="340" y1="330.6" x2="343" y2="330.6" stroke="#000" stroke-width="1.2"/>
<line x1="59.9" y1="320.1" x2="64.4" y2="320.1" stroke="#000" stroke-width="1.2"/>
<line x1="338" y1="320.1" x2="343" y2="320.1" stroke="#000" stroke-width="1.2"/>
<text x="52.6" y="325.8" font-size="16.4" text-anchor="end" >0.6</text>
<line x1="61.9" y1="309.7" x2="64.4" y2="309.7" stroke="#000" stroke-width="1.2"/>
<line x1="340" y1="309.7" x2="343" y2="309.7" stroke="#000" stroke-width="1.2"/>
<line x1="59.9" y1="299.3" x2="64.4" y2="299.3" stroke="#000" stroke-width="1.2"/>
<line x1="338" y1="299.3" x2="343" y2="299.3" stroke="#000" stroke-width="1.2"/>
<text x="52.6" y="304.9" font-size="16.4" text-anchor="end" >0.8</text>
<line x1="61.9" y1="288.8" x2="64.4" y2="288.8" stroke="#000" stroke-width="1.2"/>
<line x1="340" y1="288.8" x2="343" y2="288.8" stroke="#000" stroke-width="1.2"/>
<line x1="59.9" y1="278.4" x2="64.4" y2="278.4" stroke="#000" stroke-width="1.2"/>
<line x1="338" y1="278.4" x2="343" y2="278.4" stroke="#000" stroke-width="1.2"/>
<text x="52.6" y="284" font-size="16.4" text-anchor="end" >1.0</text>
<line x1="61.9" y1="267.9" x2="64.4" y2="267.9" stroke="#000" stroke-width="1.2"/>
<line x1="340" y1="267.9" x2="343" y2="267.9" stroke="#000" stroke-width="1.2"/>
<line x1="59.9" y1="257.5" x2="64.4" y2="257.5" stroke="#000" stroke-width="1.2"/>
<line x1="338" y1="257.5" x2="343" y2="257.5" stroke="#000" stroke-width="1.2"/>
<line x1="80.8" y1="379.6" x2="80.8" y2="388.5" stroke="#000" stroke-width="1.2"/>
<line x1="97.2" y1="377.8" x2="97.2" y2="390" stroke="#000" stroke-width="1.2"/>
<line x1="113.6" y1="379.6" x2="113.6" y2="388.5" stroke="#000" stroke-width="1.2"/>
<line x1="130" y1="377.8" x2="130" y2="390" stroke="#000" stroke-width="1.2"/>
<line x1="146.4" y1="379.6" x2="146.4" y2="388.5" stroke="#000" stroke-width="1.2"/>
<line x1="162.7" y1="377.8" x2="162.7" y2="390" stroke="#000" stroke-width="1.2"/>
<line x1="179.1" y1="379.6" x2="179.1" y2="388.5" stroke="#000" stroke-width="1.2"/>
<line x1="195.5" y1="377.8" x2="195.5" y2="390" stroke="#000" stroke-width="1.2"/>
<line x1="211.9" y1="379.6" x2="211.9" y2="388.5" stroke="#000" stroke-width="1.2"/>
<line x1="228.3" y1="377.8" x2="228.3" y2="390" stroke="#000" stroke-width="1.2"/>
<line x1="244.7" y1="379.6" x2="244.7" y2="388.5" stroke="#000" stroke-width="1.2"/>
<line x1="261.1" y1="377.8" x2="261.1" y2="390" stroke="#000" stroke-width="1.2"/>
<line x1="277.5" y1="379.6" x2="277.5" y2="388.5" stroke="#000" stroke-width="1.2"/>
<line x1="293.9" y1="377.8" x2="293.9" y2="390" stroke="#000" stroke-width="1.2"/>
<line x1="310.2" y1="379.6" x2="310.2" y2="388.5" stroke="#000" stroke-width="1.2"/>
<line x1="326.6" y1="377.8" x2="326.6" y2="390" stroke="#000" stroke-width="1.2"/>
<rect x="64.4" y="385.7" width="278.6" height="124.8" fill="none" stroke="#000" stroke-width="1.3"/>
<line x1="59.9" y1="510.5" x2="64.4" y2="510.5" stroke="#000" stroke-width="1.2"/>
<line x1="338" y1="510.5" x2="343" y2="510.5" stroke="#000" stroke-width="1.2"/>
<text x="52.6" y="516.1" font-size="16.4" text-anchor="end" >0.0</text>
<line x1="61.9" y1="499.1" x2="64.4" y2="499.1" stroke="#000" stroke-width="1.2"/>
<line x1="340" y1="499.1" x2="343" y2="499.1" stroke="#000" stroke-width="1.2"/>
<line x1="59.9" y1="487.7" x2="64.4" y2="487.7" stroke="#000" stroke-width="1.2"/>
<line x1="338" y1="487.7" x2="343" y2="487.7" stroke="#000" stroke-width="1.2"/>
<text x="52.6" y="493.3" font-size="16.4" text-anchor="end" >0.2</text>
<line x1="61.9" y1="476.4" x2="64.4" y2="476.4" stroke="#000" stroke-width="1.2"/>
<line x1="340" y1="476.4" x2="343" y2="476.4" stroke="#000" stroke-width="1.2"/>
<line x1="59.9" y1="465" x2="64.4" y2="465" stroke="#000" stroke-width="1.2"/>
<line x1="338" y1="465" x2="343" y2="465" stroke="#000" stroke-width="1.2"/>
<text x="52.6" y="470.6" font-size="16.4" text-anchor="end" >0.4</text>
<line x1="61.9" y1="453.6" x2="64.4" y2="453.6" stroke="#000" stroke-width="1.2"/>
<line x1="340" y1="453.6" x2="343" y2="453.6" stroke="#000" stroke-width="1.2"/>
<line x1="59.9" y1="442.2" x2="64.4" y2="442.2" stroke="#000" stroke-width="1.2"/>
<line x1="338" y1="442.2" x2="343" y2="442.2" stroke="#000" stroke-width="1.2"/>
<text x="52.6" y="447.8" font-size="16.4" text-anchor="end" >0.6</text>
<line x1="61.9" y1="430.8" x2="64.4" y2="430.8" stroke="#000" stroke-width="1.2"/>
<line x1="340" y1="430.8" x2="343" y2="430.8" stroke="#000" stroke-width="1.2"/>
<line x1="59.9" y1="419.5" x2="64.4" y2="419.5" stroke="#000" stroke-width="1.2"/>
<line x1="338" y1="419.5" x2="343" y2="419.5" stroke="#000" stroke-width="1.2"/>
<text x="52.6" y="425.1" font-size="16.4" text-anchor="end" >0.8</text>
<line x1="61.9" y1="408.1" x2="64.4" y2="408.1" stroke="#000" stroke-width="1.2"/>
<line x1="340" y1="408.1" x2="343" y2="408.1" stroke="#000" stroke-width="1.2"/>
<line x1="59.9" y1="396.7" x2="64.4" y2="396.7" stroke="#000" stroke-width="1.2"/>
<line x1="338" y1="396.7" x2="343" y2="396.7" stroke="#000" stroke-width="1.2"/>
<text x="52.6" y="402.3" font-size="16.4" text-anchor="end" >1.0</text>
<line x1="61.9" y1="385.3" x2="64.4" y2="385.3" stroke="#000" stroke-width="1.2"/>
<line x1="340" y1="385.3" x2="343" y2="385.3" stroke="#000" stroke-width="1.2"/>
<line x1="64.4" y1="510.5" x2="64.4" y2="515.1" stroke="#000" stroke-width="1.2"/>
<line x1="80.8" y1="510.5" x2="80.8" y2="513.5" stroke="#000" stroke-width="1.2"/>
<line x1="97.2" y1="510.5" x2="97.2" y2="515.1" stroke="#000" stroke-width="1.2"/>
<line x1="113.6" y1="510.5" x2="113.6" y2="513.5" stroke="#000" stroke-width="1.2"/>
<line x1="130" y1="510.5" x2="130" y2="515.1" stroke="#000" stroke-width="1.2"/>
<line x1="146.4" y1="510.5" x2="146.4" y2="513.5" stroke="#000" stroke-width="1.2"/>
<line x1="162.7" y1="510.5" x2="162.7" y2="515.1" stroke="#000" stroke-width="1.2"/>
<line x1="179.1" y1="510.5" x2="179.1" y2="513.5" stroke="#000" stroke-width="1.2"/>
<line x1="195.5" y1="510.5" x2="195.5" y2="515.1" stroke="#000" stroke-width="1.2"/>
<line x1="211.9" y1="510.5" x2="211.9" y2="513.5" stroke="#000" stroke-width="1.2"/>
<line x1="228.3" y1="510.5" x2="228.3" y2="515.1" stroke="#000" stroke-width="1.2"/>
<line x1="244.7" y1="510.5" x2="244.7" y2="513.5" stroke="#000" stroke-width="1.2"/>
<line x1="261.1" y1="510.5" x2="261.1" y2="515.1" stroke="#000" stroke-width="1.2"/>
<line x1="277.5" y1="510.5" x2="277.5" y2="513.5" stroke="#000" stroke-width="1.2"/>
<line x1="293.9" y1="510.5" x2="293.9" y2="515.1" stroke="#000" stroke-width="1.2"/>
<line x1="310.2" y1="510.5" x2="310.2" y2="513.5" stroke="#000" stroke-width="1.2"/>
<line x1="326.6" y1="510.5" x2="326.6" y2="515.1" stroke="#000" stroke-width="1.2"/>
<line x1="343" y1="510.5" x2="343" y2="513.5" stroke="#000" stroke-width="1.2"/>
<text x="72.6" y="534" font-size="16.4" text-anchor="end" >-40</text>
<text x="105.4" y="534" font-size="16.4" text-anchor="end" >-20</text>
<text x="134.1" y="534" font-size="16.4" text-anchor="end" >0</text>
<text x="170.9" y="534" font-size="16.4" text-anchor="end" >20</text>
<text x="203.7" y="534" font-size="16.4" text-anchor="end" >40</text>
<text x="236.5" y="534" font-size="16.4" text-anchor="end" >60</text>
<text x="269.3" y="534" font-size="16.4" text-anchor="end" >80</text>
<text x="306.2" y="534" font-size="16.4" text-anchor="end" >100</text>
<text x="338.9" y="534" font-size="16.4" text-anchor="end" >120</text>
<rect x="64.4" y="570" width="278.4" height="124.8" fill="none" stroke="#000" stroke-width="1.3"/>
<line x1="59.9" y1="694.8" x2="64.4" y2="694.8" stroke="#000" stroke-width="1.2"/>
<line x1="337.8" y1="694.8" x2="342.8" y2="694.8" stroke="#000" stroke-width="1.2"/>
<text x="52.6" y="700.4" font-size="16.4" text-anchor="end" >0.0</text>
<line x1="61.9" y1="683.5" x2="64.4" y2="683.5" stroke="#000" stroke-width="1.2"/>
<line x1="339.8" y1="683.5" x2="342.8" y2="683.5" stroke="#000" stroke-width="1.2"/>
<line x1="59.9" y1="672.2" x2="64.4" y2="672.2" stroke="#000" stroke-width="1.2"/>
<line x1="337.8" y1="672.2" x2="342.8" y2="672.2" stroke="#000" stroke-width="1.2"/>
<text x="52.6" y="677.8" font-size="16.4" text-anchor="end" >0.2</text>
<line x1="61.9" y1="660.9" x2="64.4" y2="660.9" stroke="#000" stroke-width="1.2"/>
<line x1="339.8" y1="660.9" x2="342.8" y2="660.9" stroke="#000" stroke-width="1.2"/>
<line x1="59.9" y1="649.6" x2="64.4" y2="649.6" stroke="#000" stroke-width="1.2"/>
<line x1="337.8" y1="649.6" x2="342.8" y2="649.6" stroke="#000" stroke-width="1.2"/>
<text x="52.6" y="655.2" font-size="16.4" text-anchor="end" >0.4</text>
<line x1="61.9" y1="638.2" x2="64.4" y2="638.2" stroke="#000" stroke-width="1.2"/>
<line x1="339.8" y1="638.2" x2="342.8" y2="638.2" stroke="#000" stroke-width="1.2"/>
<line x1="59.9" y1="626.9" x2="64.4" y2="626.9" stroke="#000" stroke-width="1.2"/>
<line x1="337.8" y1="626.9" x2="342.8" y2="626.9" stroke="#000" stroke-width="1.2"/>
<text x="52.6" y="632.5" font-size="16.4" text-anchor="end" >0.6</text>
<line x1="61.9" y1="615.6" x2="64.4" y2="615.6" stroke="#000" stroke-width="1.2"/>
<line x1="339.8" y1="615.6" x2="342.8" y2="615.6" stroke="#000" stroke-width="1.2"/>
<line x1="59.9" y1="604.3" x2="64.4" y2="604.3" stroke="#000" stroke-width="1.2"/>
<line x1="337.8" y1="604.3" x2="342.8" y2="604.3" stroke="#000" stroke-width="1.2"/>
<text x="52.6" y="609.9" font-size="16.4" text-anchor="end" >0.8</text>
<line x1="61.9" y1="593" x2="64.4" y2="593" stroke="#000" stroke-width="1.2"/>
<line x1="339.8" y1="593" x2="342.8" y2="593" stroke="#000" stroke-width="1.2"/>
<line x1="59.9" y1="581.7" x2="64.4" y2="581.7" stroke="#000" stroke-width="1.2"/>
<line x1="337.8" y1="581.7" x2="342.8" y2="581.7" stroke="#000" stroke-width="1.2"/>
<text x="52.6" y="587.3" font-size="16.4" text-anchor="end" >1.0</text>
<line x1="61.9" y1="570.4" x2="64.4" y2="570.4" stroke="#000" stroke-width="1.2"/>
<line x1="339.8" y1="570.4" x2="342.8" y2="570.4" stroke="#000" stroke-width="1.2"/>
<line x1="64.4" y1="570" x2="64.4" y2="575.5" stroke="#000" stroke-width="1.2"/>
<line x1="64.4" y1="694.8" x2="64.4" y2="699.4" stroke="#000" stroke-width="1.2"/>
<text x="76.7" y="718.3" font-size="16.4" text-anchor="end" >-200</text>
<line x1="87.6" y1="570" x2="87.6" y2="573.5" stroke="#000" stroke-width="1.2"/>
<line x1="87.6" y1="694.8" x2="87.6" y2="697.8" stroke="#000" stroke-width="1.2"/>
<line x1="110.8" y1="570" x2="110.8" y2="575.5" stroke="#000" stroke-width="1.2"/>
<line x1="110.8" y1="694.8" x2="110.8" y2="699.4" stroke="#000" stroke-width="1.2"/>
<text x="123.1" y="718.3" font-size="16.4" text-anchor="end" >-160</text>
<line x1="134" y1="570" x2="134" y2="573.5" stroke="#000" stroke-width="1.2"/>
<line x1="134" y1="694.8" x2="134" y2="697.8" stroke="#000" stroke-width="1.2"/>
<line x1="157.2" y1="570" x2="157.2" y2="575.5" stroke="#000" stroke-width="1.2"/>
<line x1="157.2" y1="694.8" x2="157.2" y2="699.4" stroke="#000" stroke-width="1.2"/>
<text x="169.5" y="718.3" font-size="16.4" text-anchor="end" >-120</text>
<line x1="180.4" y1="570" x2="180.4" y2="573.5" stroke="#000" stroke-width="1.2"/>
<line x1="180.4" y1="694.8" x2="180.4" y2="697.8" stroke="#000" stroke-width="1.2"/>
<line x1="203.6" y1="570" x2="203.6" y2="575.5" stroke="#000" stroke-width="1.2"/>
<line x1="203.6" y1="694.8" x2="203.6" y2="699.4" stroke="#000" stroke-width="1.2"/>
<text x="211.8" y="718.3" font-size="16.4" text-anchor="end" >-80</text>
<line x1="226.8" y1="570" x2="226.8" y2="573.5" stroke="#000" stroke-width="1.2"/>
<line x1="226.8" y1="694.8" x2="226.8" y2="697.8" stroke="#000" stroke-width="1.2"/>
<line x1="250" y1="570" x2="250" y2="575.5" stroke="#000" stroke-width="1.2"/>
<line x1="250" y1="694.8" x2="250" y2="699.4" stroke="#000" stroke-width="1.2"/>
<text x="258.2" y="718.3" font-size="16.4" text-anchor="end" >-40</text>
<line x1="273.2" y1="570" x2="273.2" y2="573.5" stroke="#000" stroke-width="1.2"/>
<line x1="273.2" y1="694.8" x2="273.2" y2="697.8" stroke="#000" stroke-width="1.2"/>
<line x1="296.4" y1="570" x2="296.4" y2="575.5" stroke="#000" stroke-width="1.2"/>
<line x1="296.4" y1="694.8" x2="296.4" y2="699.4" stroke="#000" stroke-width="1.2"/>
<text x="300.5" y="718.3" font-size="16.4" text-anchor="end" >0</text>
<line x1="319.6" y1="570" x2="319.6" y2="573.5" stroke="#000" stroke-width="1.2"/>
<line x1="319.6" y1="694.8" x2="319.6" y2="697.8" stroke="#000" stroke-width="1.2"/>
<line x1="342.8" y1="570" x2="342.8" y2="575.5" stroke="#000" stroke-width="1.2"/>
<line x1="342.8" y1="694.8" x2="342.8" y2="699.4" stroke="#000" stroke-width="1.2"/>
<text x="351" y="718.3" font-size="16.4" text-anchor="end" >40</text>
<text x="71.6" y="111.6" font-size="20" text-anchor="start" >(a)</text>
<text x="71.6" y="240" font-size="20" text-anchor="start" >(b)</text>
<text x="71.6" y="368.5" font-size="20" text-anchor="start" >(c)</text>
<text x="71.6" y="496" font-size="20" text-anchor="start" >(d)</text>
<text x="71.6" y="680.5" font-size="20" text-anchor="start" >(e)</text>
<text x="180.5" y="99.1" font-size="15.5">v</text>
<text x="188" y="103" font-size="9.6">b</text>
<text x="194.7" y="99.1" font-size="15.5">=</text>
<text x="204.6" y="99.1" font-size="15.5">74</text>
<text x="180.4" y="116.1" font-size="15.5">&#916;</text>
<text x="190.5" y="116.1" font-size="15.5">=</text>
<text x="200.6" y="116.1" font-size="15.5">104.5 GHz</text>
<text x="216.2" y="225.7" font-size="15.5">v</text>
<text x="223.7" y="229.6" font-size="9.6">b</text>
<text x="230.4" y="225.7" font-size="15.5">=</text>
<text x="240.3" y="225.7" font-size="15.5">73</text>
<text x="215.8" y="242.9" font-size="15.5">&#916;</text>
<text x="225.9" y="242.9" font-size="15.5">=</text>
<text x="236.8" y="242.9" font-size="15.5">81.8 GHz</text>
<text x="244.3" y="354.5" font-size="15.5">v</text>
<text x="251.8" y="358.4" font-size="9.6">b</text>
<text x="258.5" y="354.5" font-size="15.5">=</text>
<text x="268.4" y="354.5" font-size="15.5">78</text>
<text x="243.9" y="371" font-size="15.5">&#916;</text>
<text x="254" y="371" font-size="15.5">=</text>
<text x="264.8" y="371" font-size="15.5">36.4 GHz</text>
<text x="189.7" y="489.4" font-size="15.5">v</text>
<text x="197.2" y="493.3" font-size="9.6">b</text>
<text x="203.9" y="489.4" font-size="15.5">=</text>
<text x="213.8" y="489.4" font-size="15.5">76</text>
<text x="180.1" y="505.7" font-size="15.5">&#916;</text>
<text x="190.2" y="505.7" font-size="15.5">=</text>
<text x="201.4" y="505.7" font-size="15.5">40.0 GHz</text>
<text x="159.1" y="673.6" font-size="15.5">v</text>
<text x="166.6" y="677.5" font-size="9.6">b</text>
<text x="173.3" y="673.6" font-size="15.5">=</text>
<text x="183.2" y="673.6" font-size="15.5">75</text>
<text x="148.7" y="689.3" font-size="15.5">&#916;</text>
<text x="158.8" y="689.3" font-size="15.5">=</text>
<text x="169.7" y="689.3" font-size="15.5">-19.7 GHz</text>
<rect x="285.6" y="10.8" width="2" height="12.5" fill="#7d8286"/>
<rect x="294.3" y="11.2" width="1.1" height="11.5" fill="#000"/>
<text x="296.2" y="20.7" font-size="13.8" text-anchor="start" >2, 2</text>
<path d="M321.2 12.4 L326.2 17.8 L321.2 23.2" fill="none" stroke="#000" stroke-width="1.05"/>
<rect x="285.6" y="28.4" width="2" height="12.5" fill="#5ca22c"/>
<rect x="294.3" y="28.8" width="1.1" height="11.5" fill="#000"/>
<text x="296.2" y="38.3" font-size="13.8" text-anchor="start" >2, 1</text>
<path d="M321.2 30 L326.2 35.4 L321.2 40.8" fill="none" stroke="#000" stroke-width="1.05"/>
<rect x="285.6" y="46" width="2" height="12.5" fill="#6a9bd4"/>
<rect x="294.3" y="46.4" width="1.1" height="11.5" fill="#000"/>
<text x="296.2" y="55.9" font-size="13.8" text-anchor="start" >3, 3</text>
<path d="M321.2 47.6 L326.2 53 L321.2 58.4" fill="none" stroke="#000" stroke-width="1.05"/>
<rect x="285.6" y="63.6" width="2" height="12.5" fill="#d8782a"/>
<rect x="294.3" y="64" width="1.1" height="11.5" fill="#000"/>
<text x="296.2" y="73.5" font-size="13.8" text-anchor="start" >3, 2</text>
<path d="M321.2 65.2 L326.2 70.6 L321.2 76" fill="none" stroke="#000" stroke-width="1.05"/>
<rect x="285.6" y="81.2" width="2" height="12.5" fill="#561616"/>
<rect x="294.3" y="81.6" width="1.1" height="11.5" fill="#000"/>
<text x="296.2" y="91.1" font-size="13.8" text-anchor="start" >3, 1</text>
<path d="M321.2 82.8 L326.2 88.2 L321.2 93.6" fill="none" stroke="#000" stroke-width="1.05"/>
<rect x="285.6" y="98.8" width="2" height="12.5" fill="#24247e"/>
<rect x="294.3" y="99.2" width="1.1" height="11.5" fill="#000"/>
<text x="296.2" y="108.7" font-size="13.8" text-anchor="start" >1, 1</text>
<path d="M321.2 100.4 L326.2 105.8 L321.2 111.2" fill="none" stroke="#000" stroke-width="1.05"/>
<text x="203" y="557.6" font-size="18.9" text-anchor="middle">&#948; (MHz)</text>
<text x="202.6" y="742.1" font-size="18.9" text-anchor="middle">&#948; (MHz)</text>
<text transform="translate(12.9 260) rotate(-90) scale(1 1.12)" font-size="17.5" text-anchor="middle">N/N<tspan font-size="13.3" dx="1" dy="4.6">0</tspan></text>
<text transform="translate(12.9 631.8) rotate(-90) scale(1 1.12)" font-size="17.5" text-anchor="middle">N/N<tspan font-size="13.3" dx="1" dy="4.6">0</tspan></text>
</svg>
</body></html>
